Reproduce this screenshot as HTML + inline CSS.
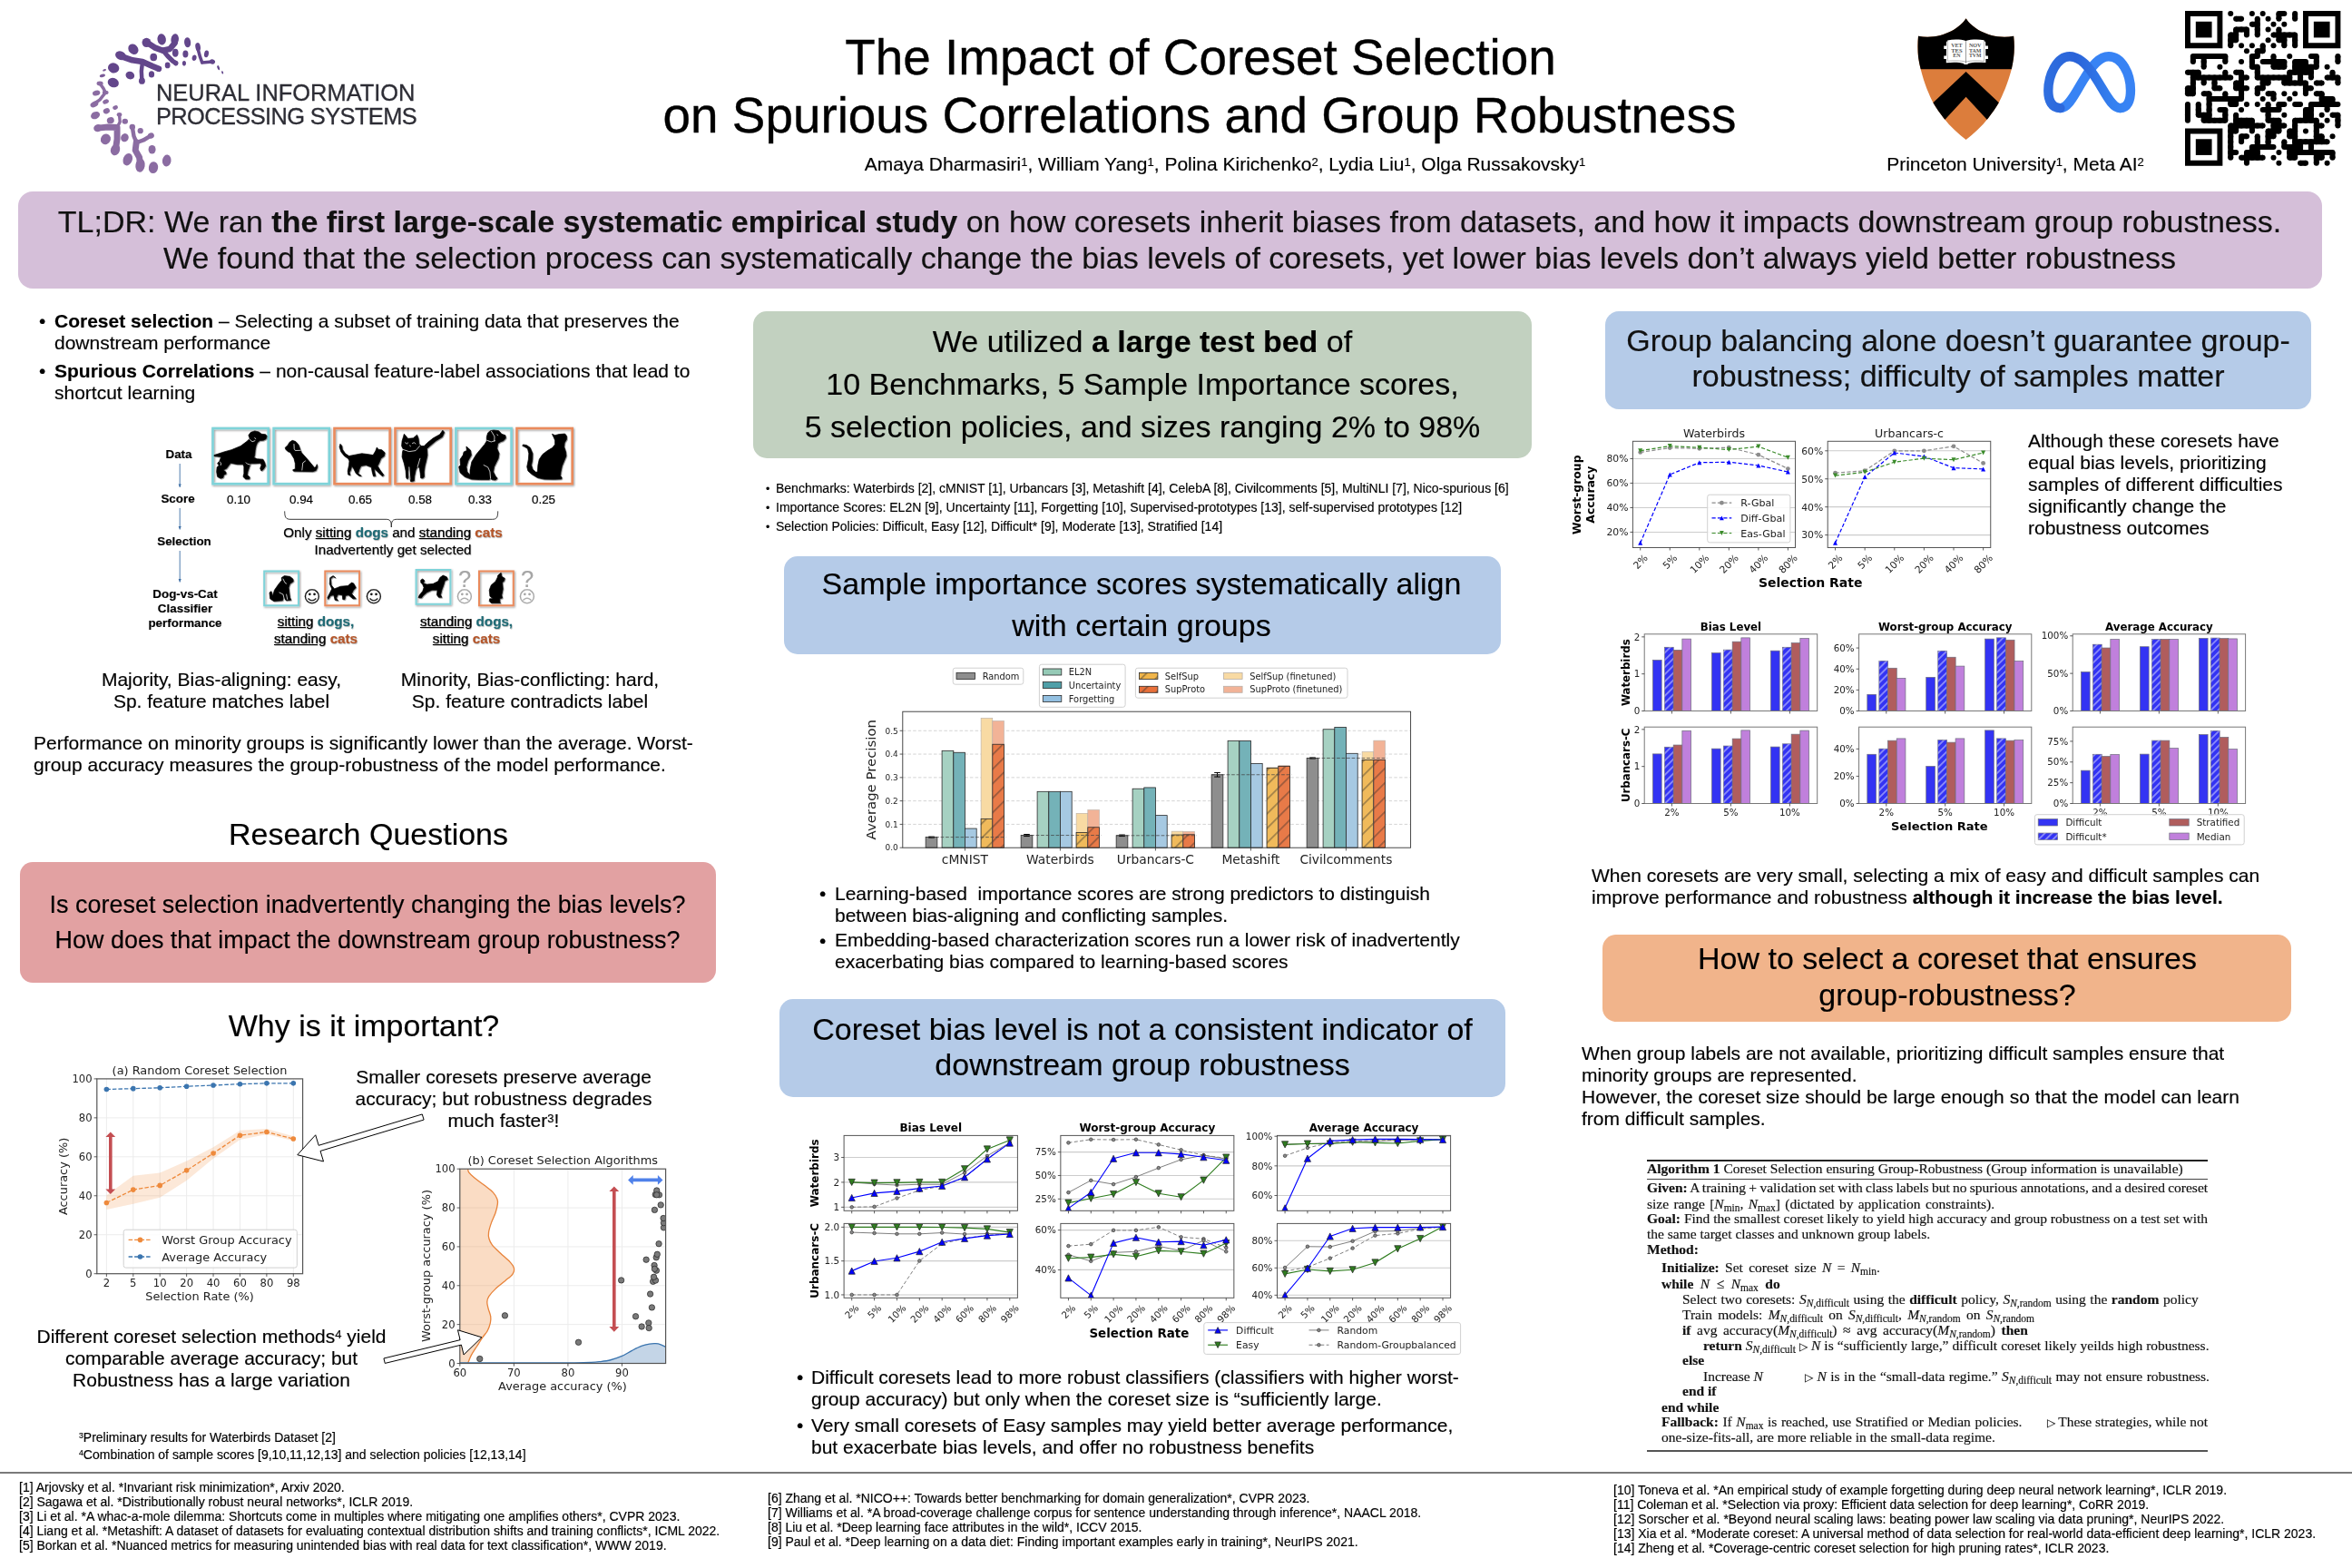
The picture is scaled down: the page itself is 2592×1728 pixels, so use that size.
<!DOCTYPE html>
<html lang="en"><head><meta charset="utf-8"><title>The Impact of Coreset Selection on Spurious Correlations and Group Robustness</title>
<style>
html,body{margin:0;padding:0;background:#fff;}
body{width:2592px;height:1728px;position:relative;overflow:hidden;font-family:"Liberation Sans",sans-serif;color:#000;}
.t{position:absolute;white-space:pre;margin:0;will-change:transform;-webkit-text-stroke:0.17px;}
.bx{position:absolute;}
.sv{position:absolute;overflow:visible;}
sup{font-size:62%;line-height:0;vertical-align:baseline;position:relative;top:-0.42em;}
sub{font-size:74%;line-height:0;vertical-align:baseline;position:relative;top:0.24em;}
b{font-weight:bold;}
</style></head>
<body>
<!-- sec_header -->
<svg class="sv" style="left:90.00px;top:25.00px" width="180.00" height="175.00" viewBox="0 0 180.00 175.00" >
<g transform="scale(0.11161)">
<path d="M920 200 L870 260 L800 275 L720 245 L650 200" fill="none" stroke="#63468b" stroke-width="58" stroke-linecap="round" stroke-linejoin="round"/>
<path d="M800 270 L850 330 L900 380 L930 400" fill="none" stroke="#63468b" stroke-width="46" stroke-linecap="round" stroke-linejoin="round"/>
<path d="M1148 260 L1170 340 L1190 395 L1290 385" fill="none" stroke="#63468b" stroke-width="32" stroke-linecap="round" stroke-linejoin="round"/>
<path d="M385 330 L500 370 L600 385 L700 430 L760 455" fill="none" stroke="#63468b" stroke-width="60" stroke-linecap="round" stroke-linejoin="round"/>
<path d="M600 390 L590 480 L595 570" fill="none" stroke="#63468b" stroke-width="40" stroke-linecap="round" stroke-linejoin="round"/>
<path d="M180 600 L215 650 L235 690 L180 760 L125 800" fill="none" stroke="#8b6ca2" stroke-width="32" stroke-linecap="round" stroke-linejoin="round"/>
<path d="M372 910 L378 980 L350 1035" fill="none" stroke="#8b6ca2" stroke-width="30" stroke-linecap="round" stroke-linejoin="round"/>
<path d="M160 1040 L260 1030 L350 1035 L350 1150 L335 1250" fill="none" stroke="#8b6ca2" stroke-width="62" stroke-linecap="round" stroke-linejoin="round"/>
<path d="M500 1030 L515 1120 L540 1180" fill="none" stroke="#8b6ca2" stroke-width="40" stroke-linecap="round" stroke-linejoin="round"/>
<path d="M685 1115 L610 1160 L540 1185" fill="none" stroke="#8b6ca2" stroke-width="40" stroke-linecap="round" stroke-linejoin="round"/>
<path d="M540 1180 L530 1260 L570 1330 L578 1410" fill="none" stroke="#8b6ca2" stroke-width="62" stroke-linecap="round" stroke-linejoin="round"/>
<ellipse cx="790" cy="165" rx="42" ry="55" fill="#63468b" transform="rotate(-10 790 165)"/>
<ellipse cx="920" cy="165" rx="38" ry="55" fill="#63468b" transform="rotate(10 920 165)"/>
<ellipse cx="1045" cy="195" rx="32" ry="50" fill="#63468b" transform="rotate(-5 1045 195)"/>
<ellipse cx="1148" cy="240" rx="25" ry="42" fill="#63468b" transform="rotate(-10 1148 240)"/>
<ellipse cx="1232" cy="308" rx="22" ry="35" fill="#63468b" transform="rotate(10 1232 308)"/>
<ellipse cx="1290" cy="385" rx="28" ry="24" fill="#63468b" transform="rotate(20 1290 385)"/>
<ellipse cx="1350" cy="445" rx="11" ry="24" fill="#63468b" transform="rotate(-20 1350 445)"/>
<ellipse cx="1390" cy="492" rx="8" ry="15" fill="#63468b" transform="rotate(-20 1390 492)"/>
<ellipse cx="640" cy="195" rx="44" ry="46" fill="#63468b" transform="rotate(0 640 195)"/>
<ellipse cx="510" cy="262" rx="46" ry="56" fill="#63468b" transform="rotate(-40 510 262)"/>
<ellipse cx="385" cy="325" rx="55" ry="42" fill="#63468b" transform="rotate(25 385 325)"/>
<ellipse cx="315" cy="447" rx="56" ry="50" fill="#63468b" transform="rotate(20 315 447)"/>
<ellipse cx="710" cy="340" rx="35" ry="38" fill="#63468b" transform="rotate(0 710 340)"/>
<ellipse cx="925" cy="298" rx="30" ry="40" fill="#63468b" transform="rotate(0 925 298)"/>
<ellipse cx="1025" cy="310" rx="27" ry="36" fill="#63468b" transform="rotate(0 1025 310)"/>
<ellipse cx="1112" cy="347" rx="22" ry="30" fill="#63468b" transform="rotate(10 1112 347)"/>
<ellipse cx="848" cy="420" rx="26" ry="31" fill="#63468b" transform="rotate(0 848 420)"/>
<ellipse cx="1012" cy="402" rx="18" ry="25" fill="#63468b" transform="rotate(0 1012 402)"/>
<ellipse cx="930" cy="400" rx="22" ry="25" fill="#63468b" transform="rotate(0 930 400)"/>
<ellipse cx="478" cy="520" rx="44" ry="38" fill="#63468b" transform="rotate(20 478 520)"/>
<ellipse cx="690" cy="510" rx="28" ry="32" fill="#63468b" transform="rotate(0 690 510)"/>
<ellipse cx="595" cy="575" rx="31" ry="33" fill="#63468b" transform="rotate(0 595 575)"/>
<ellipse cx="312" cy="592" rx="56" ry="46" fill="#63468b" transform="rotate(20 312 592)"/>
<ellipse cx="760" cy="455" rx="30" ry="28" fill="#63468b" transform="rotate(0 760 455)"/>
<ellipse cx="225" cy="468" rx="18" ry="10" fill="#7a5a98" transform="rotate(-20 225 468)"/>
<ellipse cx="205" cy="523" rx="28" ry="15" fill="#7a5a98" transform="rotate(-15 205 523)"/>
<ellipse cx="180" cy="600" rx="32" ry="22" fill="#8b6ca2" transform="rotate(0 180 600)"/>
<ellipse cx="145" cy="695" rx="38" ry="25" fill="#8b6ca2" transform="rotate(-15 145 695)"/>
<ellipse cx="125" cy="805" rx="42" ry="27" fill="#8b6ca2" transform="rotate(-28 125 805)"/>
<ellipse cx="238" cy="780" rx="31" ry="22" fill="#8b6ca2" transform="rotate(-20 238 780)"/>
<ellipse cx="332" cy="838" rx="26" ry="20" fill="#8b6ca2" transform="rotate(-20 332 838)"/>
<ellipse cx="245" cy="872" rx="33" ry="27" fill="#8b6ca2" transform="rotate(-20 245 872)"/>
<ellipse cx="135" cy="915" rx="47" ry="35" fill="#8b6ca2" transform="rotate(-25 135 915)"/>
<ellipse cx="372" cy="908" rx="25" ry="22" fill="#8b6ca2" transform="rotate(0 372 908)"/>
<ellipse cx="285" cy="965" rx="36" ry="32" fill="#8b6ca2" transform="rotate(-10 285 965)"/>
<ellipse cx="428" cy="975" rx="29" ry="27" fill="#8b6ca2" transform="rotate(0 428 975)"/>
<ellipse cx="160" cy="1040" rx="42" ry="36" fill="#8b6ca2" transform="rotate(-15 160 1040)"/>
<ellipse cx="237" cy="1150" rx="48" ry="54" fill="#8b6ca2" transform="rotate(30 237 1150)"/>
<ellipse cx="425" cy="1135" rx="38" ry="42" fill="#8b6ca2" transform="rotate(25 425 1135)"/>
<ellipse cx="500" cy="1030" rx="29" ry="28" fill="#8b6ca2" transform="rotate(0 500 1030)"/>
<ellipse cx="580" cy="1068" rx="28" ry="28" fill="#8b6ca2" transform="rotate(0 580 1068)"/>
<ellipse cx="685" cy="1115" rx="31" ry="28" fill="#8b6ca2" transform="rotate(-20 685 1115)"/>
<ellipse cx="332" cy="1255" rx="45" ry="57" fill="#8b6ca2" transform="rotate(20 332 1255)"/>
<ellipse cx="695" cy="1252" rx="36" ry="43" fill="#8b6ca2" transform="rotate(0 695 1252)"/>
<ellipse cx="455" cy="1350" rx="45" ry="62" fill="#8b6ca2" transform="rotate(22 455 1350)"/>
<ellipse cx="578" cy="1410" rx="46" ry="66" fill="#8b6ca2" transform="rotate(10 578 1410)"/>
<ellipse cx="708" cy="1430" rx="46" ry="58" fill="#8b6ca2" transform="rotate(8 708 1430)"/>
<ellipse cx="840" cy="1362" rx="43" ry="58" fill="#8b6ca2" transform="rotate(8 840 1362)"/>
<ellipse cx="235" cy="690" rx="30" ry="20" fill="#8b6ca2" transform="rotate(0 235 690)"/>
</g></svg>
<div class="t" style='left:172.00px;top:89.00px;font-size:25.45px;line-height:26px;color:#2d2d35;-webkit-text-stroke:0.3px #2d2d35;'>NEURAL INFORMATION</div>
<div class="t" style='left:172.00px;top:115.00px;font-size:25.45px;line-height:26px;color:#2d2d35;letter-spacing:-0.62px;-webkit-text-stroke:0.3px #2d2d35;'>PROCESSING SYSTEMS</div>
<div class="t" style='left:1322.60px;top:32.00px;font-size:54.85px;line-height:63.5px;transform:translateX(-50%);text-align:center;-webkit-text-stroke:0.35px #000;'>The Impact of Coreset Selection</div>
<div class="t" style='left:1322.00px;top:96.00px;font-size:54.85px;line-height:63.5px;transform:translateX(-50%);text-align:center;-webkit-text-stroke:0.35px #000;'>on Spurious Correlations and Group Robustness</div>
<div class="t" style='left:1350.00px;top:169.00px;font-size:20.97px;line-height:24px;transform:translateX(-50%);text-align:center;'>Amaya Dharmasiri<sup>1</sup>, William Yang<sup>1</sup>, Polina Kirichenko<sup>2</sup>, Lydia Liu<sup>1</sup>, Olga Russakovsky<sup>1</sup></div>
<svg class="sv" style="left:2100.00px;top:10.00px" width="130.00" height="150.00" viewBox="0 0 130.00 150.00" >
<g transform="scale(0.11480)">
<clipPath id="shc"><path d="M580 90 C520 190 330 300 122 260 C108 380 120 480 145 575 C180 720 230 830 265 900 C300 960 330 1000 365 1045 C430 1130 510 1200 580 1255 C650 1200 730 1130 795 1045 C830 1000 860 960 895 900 C930 830 980 720 1018 575 C1040 480 1052 380 1038 260 C830 300 640 190 580 90 Z"/></clipPath>
<path d="M580 90 C520 190 330 300 122 260 C108 380 120 480 145 575 C180 720 230 830 265 900 C300 960 330 1000 365 1045 C430 1130 510 1200 580 1255 C650 1200 730 1130 795 1045 C830 1000 860 960 895 900 C930 830 980 720 1018 575 C1040 480 1052 380 1038 260 C830 300 640 190 580 90 Z" fill="#dc7d3c"/>
<g clip-path="url(#shc)">
<rect x="100" y="80" width="960" height="497" fill="#000"/>
<path d="M580 600 L120 1035 L260 1190 L580 842 L900 1190 L1040 1035 Z" fill="#000"/>
</g>
<path d="M368 352 h30 v32 h-30z M368 448 h30 v32 h-30z M762 352 h30 v32 h-30z M762 448 h30 v32 h-30z" fill="#fff"/>
<path d="M392 318 L404 300 C460 288 530 290 578 304 C630 290 700 288 752 298 L768 318 L770 515 C700 508 640 510 600 522 L596 532 L562 532 L558 522 C520 510 450 508 390 516 Z" fill="#fff"/>
<path d="M579 306 L579 520" stroke="#222" stroke-width="4"/>
<path d="M404 304 L404 500 C460 492 530 494 578 506 C630 494 700 492 754 500 L754 302" fill="none" stroke="#333" stroke-width="3"/>
<text x="491" y="366" text-anchor="middle" style="font-family:&quot;Liberation Serif&quot;,serif;font-size:44px;font-weight:bold;fill:#555" textLength="108" lengthAdjust="spacingAndGlyphs">VET</text><text x="668" y="366" text-anchor="middle" style="font-family:&quot;Liberation Serif&quot;,serif;font-size:44px;font-weight:bold;fill:#555" textLength="118" lengthAdjust="spacingAndGlyphs">NOV</text>
<text x="491" y="414" text-anchor="middle" style="font-family:&quot;Liberation Serif&quot;,serif;font-size:44px;font-weight:bold;fill:#555" textLength="108" lengthAdjust="spacingAndGlyphs">TES</text><text x="668" y="414" text-anchor="middle" style="font-family:&quot;Liberation Serif&quot;,serif;font-size:44px;font-weight:bold;fill:#555" textLength="118" lengthAdjust="spacingAndGlyphs">TAM</text>
<text x="491" y="462" text-anchor="middle" style="font-family:&quot;Liberation Serif&quot;,serif;font-size:44px;font-weight:bold;fill:#555" textLength="72" lengthAdjust="spacingAndGlyphs">EN</text><text x="668" y="462" text-anchor="middle" style="font-family:&quot;Liberation Serif&quot;,serif;font-size:44px;font-weight:bold;fill:#555" textLength="118" lengthAdjust="spacingAndGlyphs">TVM</text>
</g></svg>
<svg class="sv" style="left:2100.00px;top:10.00px" width="270.00" height="150.00" viewBox="0 0 270.00 150.00" >
<g transform="scale(0.11480)">
<defs><linearGradient id="mg" x1="1325" y1="700" x2="2205" y2="700" gradientUnits="userSpaceOnUse"><stop offset="0" stop-color="#2f6fe0"/><stop offset="0.35" stop-color="#2a63d8"/><stop offset="0.75" stop-color="#3480f0"/><stop offset="1" stop-color="#3a86f5"/></linearGradient><linearGradient id="mg2" x1="1400" y1="950" x2="1800" y2="600" gradientUnits="userSpaceOnUse"><stop offset="0" stop-color="#3b84f3"/><stop offset="1" stop-color="#3b84f3"/></linearGradient></defs>
<path d="M1485 950 C1570 950 1630 800 1720 660 C1790 545 1860 455 1950 455 C2075 455 2160 620 2160 780 C2160 880 2130 950 2060 950" fill="none" stroke="#3883f4" stroke-width="90" stroke-linecap="round"/>
<path d="M2060 950 C1985 950 1930 830 1850 700 C1760 555 1680 455 1575 455 C1455 455 1370 630 1370 785 C1370 880 1405 950 1485 950" fill="none" stroke="url(#mg)" stroke-width="90" stroke-linecap="round"/>
</g></svg>
<svg class="sv" style="left:2408.00px;top:11.80px" width="171.40" height="171.40" viewBox="0 0 171.40 171.40" shape-rendering="geometricPrecision">
<g transform="scale(5.9103 5.8862)" fill="#000">
<path d="M0 0h7v7h-7z M1 1v5h5v-5z" fill-rule="evenodd"/><rect x="2" y="2" width="3" height="3"/>
<path d="M22 0h7v7h-7z M23 1v5h5v-5z" fill-rule="evenodd"/><rect x="24" y="2" width="3" height="3"/>
<path d="M0 22h7v7h-7z M1 23v5h5v-5z" fill-rule="evenodd"/><rect x="2" y="24" width="3" height="3"/>
<circle cx="8.5" cy="0.5" r="0.51"/><circle cx="12.5" cy="0.5" r="0.51"/><circle cx="14.5" cy="0.5" r="0.51"/><circle cx="17.5" cy="0.5" r="0.51"/><circle cx="18.5" cy="0.5" r="0.51"/><circle cx="20.5" cy="0.5" r="0.51"/>
<circle cx="9.5" cy="1.5" r="0.51"/><circle cx="10.5" cy="1.5" r="0.51"/><circle cx="13.5" cy="1.5" r="0.51"/><circle cx="15.5" cy="1.5" r="0.51"/><circle cx="17.5" cy="1.5" r="0.51"/><circle cx="20.5" cy="1.5" r="0.51"/>
<circle cx="12.5" cy="2.5" r="0.51"/><circle cx="13.5" cy="2.5" r="0.51"/><circle cx="16.5" cy="2.5" r="0.51"/><circle cx="18.5" cy="2.5" r="0.51"/>
<circle cx="9.5" cy="3.5" r="0.51"/><circle cx="10.5" cy="3.5" r="0.51"/><circle cx="11.5" cy="3.5" r="0.51"/><circle cx="13.5" cy="3.5" r="0.51"/><circle cx="15.5" cy="3.5" r="0.51"/><circle cx="17.5" cy="3.5" r="0.51"/>
<circle cx="8.5" cy="4.5" r="0.51"/><circle cx="9.5" cy="4.5" r="0.51"/><circle cx="11.5" cy="4.5" r="0.51"/><circle cx="13.5" cy="4.5" r="0.51"/><circle cx="16.5" cy="4.5" r="0.51"/><circle cx="17.5" cy="4.5" r="0.51"/><circle cx="18.5" cy="4.5" r="0.51"/><circle cx="19.5" cy="4.5" r="0.51"/><circle cx="20.5" cy="4.5" r="0.51"/>
<circle cx="8.5" cy="5.5" r="0.51"/><circle cx="9.5" cy="5.5" r="0.51"/><circle cx="15.5" cy="5.5" r="0.51"/><circle cx="17.5" cy="5.5" r="0.51"/><circle cx="18.5" cy="5.5" r="0.51"/><circle cx="20.5" cy="5.5" r="0.51"/>
<circle cx="8.5" cy="6.5" r="0.51"/><circle cx="10.5" cy="6.5" r="0.51"/><circle cx="12.5" cy="6.5" r="0.51"/><circle cx="14.5" cy="6.5" r="0.51"/><circle cx="16.5" cy="6.5" r="0.51"/><circle cx="18.5" cy="6.5" r="0.51"/><circle cx="20.5" cy="6.5" r="0.51"/>
<circle cx="11.5" cy="7.5" r="0.51"/><circle cx="13.5" cy="7.5" r="0.51"/><circle cx="14.5" cy="7.5" r="0.51"/>
<circle cx="1.5" cy="8.5" r="0.51"/><circle cx="2.5" cy="8.5" r="0.51"/><circle cx="3.5" cy="8.5" r="0.51"/><circle cx="4.5" cy="8.5" r="0.51"/><circle cx="5.5" cy="8.5" r="0.51"/><circle cx="6.5" cy="8.5" r="0.51"/><circle cx="7.5" cy="8.5" r="0.51"/><circle cx="12.5" cy="8.5" r="0.51"/><circle cx="13.5" cy="8.5" r="0.51"/><circle cx="16.5" cy="8.5" r="0.51"/><circle cx="19.5" cy="8.5" r="0.51"/><circle cx="23.5" cy="8.5" r="0.51"/><circle cx="24.5" cy="8.5" r="0.51"/><circle cx="28.5" cy="8.5" r="0.51"/>
<circle cx="1.5" cy="9.5" r="0.51"/><circle cx="3.5" cy="9.5" r="0.51"/><circle cx="7.5" cy="9.5" r="0.51"/><circle cx="10.5" cy="9.5" r="0.51"/><circle cx="12.5" cy="9.5" r="0.51"/><circle cx="14.5" cy="9.5" r="0.51"/><circle cx="15.5" cy="9.5" r="0.51"/><circle cx="16.5" cy="9.5" r="0.51"/><circle cx="17.5" cy="9.5" r="0.51"/><circle cx="18.5" cy="9.5" r="0.51"/><circle cx="20.5" cy="9.5" r="0.51"/><circle cx="21.5" cy="9.5" r="0.51"/><circle cx="22.5" cy="9.5" r="0.51"/><circle cx="24.5" cy="9.5" r="0.51"/><circle cx="28.5" cy="9.5" r="0.51"/>
<circle cx="3.5" cy="10.5" r="0.51"/><circle cx="6.5" cy="10.5" r="0.51"/><circle cx="12.5" cy="10.5" r="0.51"/><circle cx="13.5" cy="10.5" r="0.51"/><circle cx="16.5" cy="10.5" r="0.51"/><circle cx="17.5" cy="10.5" r="0.51"/><circle cx="18.5" cy="10.5" r="0.51"/><circle cx="20.5" cy="10.5" r="0.51"/><circle cx="21.5" cy="10.5" r="0.51"/><circle cx="22.5" cy="10.5" r="0.51"/><circle cx="23.5" cy="10.5" r="0.51"/><circle cx="24.5" cy="10.5" r="0.51"/><circle cx="26.5" cy="10.5" r="0.51"/>
<circle cx="0.5" cy="11.5" r="0.51"/><circle cx="1.5" cy="11.5" r="0.51"/><circle cx="2.5" cy="11.5" r="0.51"/><circle cx="7.5" cy="11.5" r="0.51"/><circle cx="9.5" cy="11.5" r="0.51"/><circle cx="10.5" cy="11.5" r="0.51"/><circle cx="13.5" cy="11.5" r="0.51"/><circle cx="19.5" cy="11.5" r="0.51"/><circle cx="20.5" cy="11.5" r="0.51"/><circle cx="21.5" cy="11.5" r="0.51"/><circle cx="22.5" cy="11.5" r="0.51"/><circle cx="23.5" cy="11.5" r="0.51"/><circle cx="27.5" cy="11.5" r="0.51"/>
<circle cx="1.5" cy="12.5" r="0.51"/><circle cx="2.5" cy="12.5" r="0.51"/><circle cx="3.5" cy="12.5" r="0.51"/><circle cx="4.5" cy="12.5" r="0.51"/><circle cx="5.5" cy="12.5" r="0.51"/><circle cx="6.5" cy="12.5" r="0.51"/><circle cx="7.5" cy="12.5" r="0.51"/><circle cx="8.5" cy="12.5" r="0.51"/><circle cx="10.5" cy="12.5" r="0.51"/><circle cx="11.5" cy="12.5" r="0.51"/><circle cx="13.5" cy="12.5" r="0.51"/><circle cx="14.5" cy="12.5" r="0.51"/><circle cx="15.5" cy="12.5" r="0.51"/><circle cx="16.5" cy="12.5" r="0.51"/><circle cx="17.5" cy="12.5" r="0.51"/><circle cx="18.5" cy="12.5" r="0.51"/><circle cx="19.5" cy="12.5" r="0.51"/><circle cx="21.5" cy="12.5" r="0.51"/><circle cx="23.5" cy="12.5" r="0.51"/><circle cx="26.5" cy="12.5" r="0.51"/><circle cx="27.5" cy="12.5" r="0.51"/><circle cx="28.5" cy="12.5" r="0.51"/>
<circle cx="1.5" cy="13.5" r="0.51"/><circle cx="3.5" cy="13.5" r="0.51"/><circle cx="5.5" cy="13.5" r="0.51"/><circle cx="9.5" cy="13.5" r="0.51"/><circle cx="10.5" cy="13.5" r="0.51"/><circle cx="14.5" cy="13.5" r="0.51"/><circle cx="15.5" cy="13.5" r="0.51"/><circle cx="18.5" cy="13.5" r="0.51"/><circle cx="19.5" cy="13.5" r="0.51"/><circle cx="20.5" cy="13.5" r="0.51"/><circle cx="21.5" cy="13.5" r="0.51"/><circle cx="22.5" cy="13.5" r="0.51"/><circle cx="24.5" cy="13.5" r="0.51"/><circle cx="25.5" cy="13.5" r="0.51"/><circle cx="28.5" cy="13.5" r="0.51"/>
<circle cx="0.5" cy="14.5" r="0.51"/><circle cx="1.5" cy="14.5" r="0.51"/><circle cx="5.5" cy="14.5" r="0.51"/><circle cx="6.5" cy="14.5" r="0.51"/><circle cx="9.5" cy="14.5" r="0.51"/><circle cx="10.5" cy="14.5" r="0.51"/><circle cx="11.5" cy="14.5" r="0.51"/><circle cx="13.5" cy="14.5" r="0.51"/><circle cx="14.5" cy="14.5" r="0.51"/><circle cx="22.5" cy="14.5" r="0.51"/><circle cx="23.5" cy="14.5" r="0.51"/>
<circle cx="0.5" cy="15.5" r="0.51"/><circle cx="1.5" cy="15.5" r="0.51"/><circle cx="3.5" cy="15.5" r="0.51"/><circle cx="4.5" cy="15.5" r="0.51"/><circle cx="7.5" cy="15.5" r="0.51"/><circle cx="10.5" cy="15.5" r="0.51"/><circle cx="13.5" cy="15.5" r="0.51"/><circle cx="15.5" cy="15.5" r="0.51"/><circle cx="16.5" cy="15.5" r="0.51"/><circle cx="18.5" cy="15.5" r="0.51"/><circle cx="20.5" cy="15.5" r="0.51"/><circle cx="22.5" cy="15.5" r="0.51"/><circle cx="24.5" cy="15.5" r="0.51"/><circle cx="25.5" cy="15.5" r="0.51"/>
<circle cx="4.5" cy="16.5" r="0.51"/><circle cx="5.5" cy="16.5" r="0.51"/><circle cx="6.5" cy="16.5" r="0.51"/><circle cx="7.5" cy="16.5" r="0.51"/><circle cx="8.5" cy="16.5" r="0.51"/><circle cx="9.5" cy="16.5" r="0.51"/><circle cx="10.5" cy="16.5" r="0.51"/><circle cx="14.5" cy="16.5" r="0.51"/><circle cx="16.5" cy="16.5" r="0.51"/><circle cx="19.5" cy="16.5" r="0.51"/><circle cx="25.5" cy="16.5" r="0.51"/><circle cx="26.5" cy="16.5" r="0.51"/><circle cx="27.5" cy="16.5" r="0.51"/>
<circle cx="0.5" cy="17.5" r="0.51"/><circle cx="2.5" cy="17.5" r="0.51"/><circle cx="4.5" cy="17.5" r="0.51"/><circle cx="8.5" cy="17.5" r="0.51"/><circle cx="9.5" cy="17.5" r="0.51"/><circle cx="11.5" cy="17.5" r="0.51"/><circle cx="13.5" cy="17.5" r="0.51"/><circle cx="15.5" cy="17.5" r="0.51"/><circle cx="17.5" cy="17.5" r="0.51"/><circle cx="18.5" cy="17.5" r="0.51"/><circle cx="20.5" cy="17.5" r="0.51"/><circle cx="21.5" cy="17.5" r="0.51"/><circle cx="23.5" cy="17.5" r="0.51"/><circle cx="24.5" cy="17.5" r="0.51"/><circle cx="25.5" cy="17.5" r="0.51"/><circle cx="26.5" cy="17.5" r="0.51"/><circle cx="27.5" cy="17.5" r="0.51"/><circle cx="28.5" cy="17.5" r="0.51"/>
<circle cx="0.5" cy="18.5" r="0.51"/><circle cx="2.5" cy="18.5" r="0.51"/><circle cx="4.5" cy="18.5" r="0.51"/><circle cx="6.5" cy="18.5" r="0.51"/><circle cx="7.5" cy="18.5" r="0.51"/><circle cx="10.5" cy="18.5" r="0.51"/><circle cx="14.5" cy="18.5" r="0.51"/><circle cx="15.5" cy="18.5" r="0.51"/><circle cx="16.5" cy="18.5" r="0.51"/><circle cx="17.5" cy="18.5" r="0.51"/><circle cx="22.5" cy="18.5" r="0.51"/><circle cx="23.5" cy="18.5" r="0.51"/><circle cx="26.5" cy="18.5" r="0.51"/>
<circle cx="0.5" cy="19.5" r="0.51"/><circle cx="2.5" cy="19.5" r="0.51"/><circle cx="3.5" cy="19.5" r="0.51"/><circle cx="4.5" cy="19.5" r="0.51"/><circle cx="7.5" cy="19.5" r="0.51"/><circle cx="9.5" cy="19.5" r="0.51"/><circle cx="15.5" cy="19.5" r="0.51"/><circle cx="18.5" cy="19.5" r="0.51"/><circle cx="22.5" cy="19.5" r="0.51"/><circle cx="23.5" cy="19.5" r="0.51"/><circle cx="25.5" cy="19.5" r="0.51"/><circle cx="27.5" cy="19.5" r="0.51"/><circle cx="28.5" cy="19.5" r="0.51"/>
<circle cx="0.5" cy="20.5" r="0.51"/><circle cx="3.5" cy="20.5" r="0.51"/><circle cx="4.5" cy="20.5" r="0.51"/><circle cx="5.5" cy="20.5" r="0.51"/><circle cx="6.5" cy="20.5" r="0.51"/><circle cx="7.5" cy="20.5" r="0.51"/><circle cx="9.5" cy="20.5" r="0.51"/><circle cx="10.5" cy="20.5" r="0.51"/><circle cx="11.5" cy="20.5" r="0.51"/><circle cx="12.5" cy="20.5" r="0.51"/><circle cx="15.5" cy="20.5" r="0.51"/><circle cx="16.5" cy="20.5" r="0.51"/><circle cx="17.5" cy="20.5" r="0.51"/><circle cx="20.5" cy="20.5" r="0.51"/><circle cx="21.5" cy="20.5" r="0.51"/><circle cx="22.5" cy="20.5" r="0.51"/><circle cx="23.5" cy="20.5" r="0.51"/><circle cx="24.5" cy="20.5" r="0.51"/><circle cx="26.5" cy="20.5" r="0.51"/><circle cx="28.5" cy="20.5" r="0.51"/>
<circle cx="8.5" cy="21.5" r="0.51"/><circle cx="9.5" cy="21.5" r="0.51"/><circle cx="10.5" cy="21.5" r="0.51"/><circle cx="11.5" cy="21.5" r="0.51"/><circle cx="12.5" cy="21.5" r="0.51"/><circle cx="13.5" cy="21.5" r="0.51"/><circle cx="14.5" cy="21.5" r="0.51"/><circle cx="16.5" cy="21.5" r="0.51"/><circle cx="17.5" cy="21.5" r="0.51"/><circle cx="18.5" cy="21.5" r="0.51"/><circle cx="20.5" cy="21.5" r="0.51"/><circle cx="24.5" cy="21.5" r="0.51"/><circle cx="25.5" cy="21.5" r="0.51"/><circle cx="28.5" cy="21.5" r="0.51"/>
<circle cx="8.5" cy="22.5" r="0.51"/><circle cx="9.5" cy="22.5" r="0.51"/><circle cx="12.5" cy="22.5" r="0.51"/><circle cx="15.5" cy="22.5" r="0.51"/><circle cx="16.5" cy="22.5" r="0.51"/><circle cx="17.5" cy="22.5" r="0.51"/><circle cx="19.5" cy="22.5" r="0.51"/><circle cx="20.5" cy="22.5" r="0.51"/><circle cx="22.5" cy="22.5" r="0.51"/><circle cx="24.5" cy="22.5" r="0.51"/>
<circle cx="8.5" cy="23.5" r="0.51"/><circle cx="10.5" cy="23.5" r="0.51"/><circle cx="11.5" cy="23.5" r="0.51"/><circle cx="13.5" cy="23.5" r="0.51"/><circle cx="15.5" cy="23.5" r="0.51"/><circle cx="16.5" cy="23.5" r="0.51"/><circle cx="19.5" cy="23.5" r="0.51"/><circle cx="20.5" cy="23.5" r="0.51"/><circle cx="24.5" cy="23.5" r="0.51"/><circle cx="25.5" cy="23.5" r="0.51"/><circle cx="27.5" cy="23.5" r="0.51"/>
<circle cx="8.5" cy="24.5" r="0.51"/><circle cx="10.5" cy="24.5" r="0.51"/><circle cx="13.5" cy="24.5" r="0.51"/><circle cx="15.5" cy="24.5" r="0.51"/><circle cx="18.5" cy="24.5" r="0.51"/><circle cx="20.5" cy="24.5" r="0.51"/><circle cx="21.5" cy="24.5" r="0.51"/><circle cx="22.5" cy="24.5" r="0.51"/><circle cx="23.5" cy="24.5" r="0.51"/><circle cx="24.5" cy="24.5" r="0.51"/><circle cx="25.5" cy="24.5" r="0.51"/><circle cx="26.5" cy="24.5" r="0.51"/>
<circle cx="8.5" cy="25.5" r="0.51"/><circle cx="12.5" cy="25.5" r="0.51"/><circle cx="13.5" cy="25.5" r="0.51"/><circle cx="14.5" cy="25.5" r="0.51"/><circle cx="15.5" cy="25.5" r="0.51"/><circle cx="16.5" cy="25.5" r="0.51"/><circle cx="18.5" cy="25.5" r="0.51"/><circle cx="19.5" cy="25.5" r="0.51"/><circle cx="20.5" cy="25.5" r="0.51"/><circle cx="21.5" cy="25.5" r="0.51"/><circle cx="23.5" cy="25.5" r="0.51"/>
<circle cx="8.5" cy="26.5" r="0.51"/><circle cx="9.5" cy="26.5" r="0.51"/><circle cx="11.5" cy="26.5" r="0.51"/><circle cx="12.5" cy="26.5" r="0.51"/><circle cx="13.5" cy="26.5" r="0.51"/><circle cx="17.5" cy="26.5" r="0.51"/><circle cx="19.5" cy="26.5" r="0.51"/><circle cx="20.5" cy="26.5" r="0.51"/><circle cx="21.5" cy="26.5" r="0.51"/><circle cx="22.5" cy="26.5" r="0.51"/><circle cx="23.5" cy="26.5" r="0.51"/><circle cx="24.5" cy="26.5" r="0.51"/><circle cx="25.5" cy="26.5" r="0.51"/><circle cx="26.5" cy="26.5" r="0.51"/><circle cx="27.5" cy="26.5" r="0.51"/>
<circle cx="8.5" cy="27.5" r="0.51"/><circle cx="10.5" cy="27.5" r="0.51"/><circle cx="11.5" cy="27.5" r="0.51"/><circle cx="12.5" cy="27.5" r="0.51"/><circle cx="13.5" cy="27.5" r="0.51"/><circle cx="14.5" cy="27.5" r="0.51"/><circle cx="16.5" cy="27.5" r="0.51"/><circle cx="19.5" cy="27.5" r="0.51"/><circle cx="20.5" cy="27.5" r="0.51"/><circle cx="24.5" cy="27.5" r="0.51"/><circle cx="25.5" cy="27.5" r="0.51"/><circle cx="27.5" cy="27.5" r="0.51"/>
<circle cx="11.5" cy="28.5" r="0.51"/><circle cx="17.5" cy="28.5" r="0.51"/><circle cx="21.5" cy="28.5" r="0.51"/><circle cx="22.5" cy="28.5" r="0.51"/><circle cx="24.5" cy="28.5" r="0.51"/><circle cx="26.5" cy="28.5" r="0.51"/>
<path d="M17.45 -0.01h1.1v1.02h-1.1zM16.99 0.45h1.02v1.1h-1.02zM19.99 0.45h1.02v1.1h-1.02zM9.45 0.99h1.1v1.02h-1.1zM12.99 1.45h1.02v1.1h-1.02zM12.45 1.99h1.1v1.02h-1.1zM12.99 2.45h1.02v1.1h-1.02zM9.45 2.99h1.1v1.02h-1.1zM8.99 3.45h1.02v1.1h-1.02zM10.45 2.99h1.1v1.02h-1.1zM10.99 3.45h1.02v1.1h-1.02zM12.99 3.45h1.02v1.1h-1.02zM16.99 3.45h1.02v1.1h-1.02zM8.45 3.99h1.1v1.02h-1.1zM7.99 4.45h1.02v1.1h-1.02zM8.45 4.45h1.1v1.1h-1.1zM8.99 4.45h1.02v1.1h-1.02zM16.45 3.99h1.1v1.02h-1.1zM17.45 3.99h1.1v1.02h-1.1zM16.99 4.45h1.02v1.1h-1.02zM17.45 4.45h1.1v1.1h-1.1zM18.45 3.99h1.1v1.02h-1.1zM17.99 4.45h1.02v1.1h-1.02zM19.45 3.99h1.1v1.02h-1.1zM19.99 4.45h1.02v1.1h-1.02zM8.45 4.99h1.1v1.02h-1.1zM7.99 5.45h1.02v1.1h-1.02zM17.45 4.99h1.1v1.02h-1.1zM17.99 5.45h1.02v1.1h-1.02zM19.99 5.45h1.02v1.1h-1.02zM13.99 6.45h1.02v1.1h-1.02zM13.45 6.99h1.1v1.02h-1.1zM12.99 7.45h1.02v1.1h-1.02zM1.45 7.99h1.1v1.02h-1.1zM0.99 8.45h1.02v1.1h-1.02zM2.45 7.99h1.1v1.02h-1.1zM3.45 7.99h1.1v1.02h-1.1zM2.99 8.45h1.02v1.1h-1.02zM4.45 7.99h1.1v1.02h-1.1zM5.45 7.99h1.1v1.02h-1.1zM6.45 7.99h1.1v1.02h-1.1zM6.99 8.45h1.02v1.1h-1.02zM12.45 7.99h1.1v1.02h-1.1zM11.99 8.45h1.02v1.1h-1.02zM15.99 8.45h1.02v1.1h-1.02zM23.45 7.99h1.1v1.02h-1.1zM23.99 8.45h1.02v1.1h-1.02zM27.99 8.45h1.02v1.1h-1.02zM2.99 9.45h1.02v1.1h-1.02zM11.99 9.45h1.02v1.1h-1.02zM14.45 8.99h1.1v1.02h-1.1zM15.45 8.99h1.1v1.02h-1.1zM16.45 8.99h1.1v1.02h-1.1zM15.99 9.45h1.02v1.1h-1.02zM16.45 9.45h1.1v1.1h-1.1zM17.45 8.99h1.1v1.02h-1.1zM16.99 9.45h1.02v1.1h-1.02zM17.45 9.45h1.1v1.1h-1.1zM17.99 9.45h1.02v1.1h-1.02zM20.45 8.99h1.1v1.02h-1.1zM19.99 9.45h1.02v1.1h-1.02zM20.45 9.45h1.1v1.1h-1.1zM21.45 8.99h1.1v1.02h-1.1zM20.99 9.45h1.02v1.1h-1.02zM21.45 9.45h1.1v1.1h-1.1zM21.99 9.45h1.02v1.1h-1.02zM23.99 9.45h1.02v1.1h-1.02zM12.45 9.99h1.1v1.02h-1.1zM12.99 10.45h1.02v1.1h-1.02zM16.45 9.99h1.1v1.02h-1.1zM17.45 9.99h1.1v1.02h-1.1zM20.45 9.99h1.1v1.02h-1.1zM19.99 10.45h1.02v1.1h-1.02zM20.45 10.45h1.1v1.1h-1.1zM21.45 9.99h1.1v1.02h-1.1zM20.99 10.45h1.02v1.1h-1.02zM21.45 10.45h1.1v1.1h-1.1zM22.45 9.99h1.1v1.02h-1.1zM21.99 10.45h1.02v1.1h-1.02zM22.45 10.45h1.1v1.1h-1.1zM23.45 9.99h1.1v1.02h-1.1zM22.99 10.45h1.02v1.1h-1.02zM0.45 10.99h1.1v1.02h-1.1zM1.45 10.99h1.1v1.02h-1.1zM0.99 11.45h1.02v1.1h-1.02zM1.45 11.45h1.1v1.1h-1.1zM1.99 11.45h1.02v1.1h-1.02zM6.99 11.45h1.02v1.1h-1.02zM9.45 10.99h1.1v1.02h-1.1zM9.99 11.45h1.02v1.1h-1.02zM12.99 11.45h1.02v1.1h-1.02zM19.45 10.99h1.1v1.02h-1.1zM18.99 11.45h1.02v1.1h-1.02zM20.45 10.99h1.1v1.02h-1.1zM21.45 10.99h1.1v1.02h-1.1zM20.99 11.45h1.02v1.1h-1.02zM22.45 10.99h1.1v1.02h-1.1zM22.99 11.45h1.02v1.1h-1.02zM26.99 11.45h1.02v1.1h-1.02zM1.45 11.99h1.1v1.02h-1.1zM0.99 12.45h1.02v1.1h-1.02zM2.45 11.99h1.1v1.02h-1.1zM3.45 11.99h1.1v1.02h-1.1zM2.99 12.45h1.02v1.1h-1.02zM4.45 11.99h1.1v1.02h-1.1zM5.45 11.99h1.1v1.02h-1.1zM4.99 12.45h1.02v1.1h-1.02zM6.45 11.99h1.1v1.02h-1.1zM7.45 11.99h1.1v1.02h-1.1zM10.45 11.99h1.1v1.02h-1.1zM9.99 12.45h1.02v1.1h-1.02zM13.45 11.99h1.1v1.02h-1.1zM14.45 11.99h1.1v1.02h-1.1zM13.99 12.45h1.02v1.1h-1.02zM14.45 12.45h1.1v1.1h-1.1zM15.45 11.99h1.1v1.02h-1.1zM14.99 12.45h1.02v1.1h-1.02zM16.45 11.99h1.1v1.02h-1.1zM17.45 11.99h1.1v1.02h-1.1zM18.45 11.99h1.1v1.02h-1.1zM17.99 12.45h1.02v1.1h-1.02zM18.45 12.45h1.1v1.1h-1.1zM18.99 12.45h1.02v1.1h-1.02zM20.99 12.45h1.02v1.1h-1.02zM26.45 11.99h1.1v1.02h-1.1zM27.45 11.99h1.1v1.02h-1.1zM27.99 12.45h1.02v1.1h-1.02zM0.99 13.45h1.02v1.1h-1.02zM4.99 13.45h1.02v1.1h-1.02zM9.45 12.99h1.1v1.02h-1.1zM8.99 13.45h1.02v1.1h-1.02zM9.45 13.45h1.1v1.1h-1.1zM9.99 13.45h1.02v1.1h-1.02zM14.45 12.99h1.1v1.02h-1.1zM13.99 13.45h1.02v1.1h-1.02zM18.45 12.99h1.1v1.02h-1.1zM19.45 12.99h1.1v1.02h-1.1zM20.45 12.99h1.1v1.02h-1.1zM21.45 12.99h1.1v1.02h-1.1zM21.99 13.45h1.02v1.1h-1.02zM24.45 12.99h1.1v1.02h-1.1zM0.45 13.99h1.1v1.02h-1.1zM-0.01 14.45h1.02v1.1h-1.02zM0.45 14.45h1.1v1.1h-1.1zM0.99 14.45h1.02v1.1h-1.02zM5.45 13.99h1.1v1.02h-1.1zM9.45 13.99h1.1v1.02h-1.1zM10.45 13.99h1.1v1.02h-1.1zM9.99 14.45h1.02v1.1h-1.02zM13.45 13.99h1.1v1.02h-1.1zM12.99 14.45h1.02v1.1h-1.02zM22.45 13.99h1.1v1.02h-1.1zM21.99 14.45h1.02v1.1h-1.02zM0.45 14.99h1.1v1.02h-1.1zM3.45 14.99h1.1v1.02h-1.1zM3.99 15.45h1.02v1.1h-1.02zM6.99 15.45h1.02v1.1h-1.02zM9.99 15.45h1.02v1.1h-1.02zM15.45 14.99h1.1v1.02h-1.1zM15.99 15.45h1.02v1.1h-1.02zM24.45 14.99h1.1v1.02h-1.1zM24.99 15.45h1.02v1.1h-1.02zM4.45 15.99h1.1v1.02h-1.1zM3.99 16.45h1.02v1.1h-1.02zM5.45 15.99h1.1v1.02h-1.1zM6.45 15.99h1.1v1.02h-1.1zM7.45 15.99h1.1v1.02h-1.1zM8.45 15.99h1.1v1.02h-1.1zM7.99 16.45h1.02v1.1h-1.02zM8.45 16.45h1.1v1.1h-1.1zM9.45 15.99h1.1v1.02h-1.1zM8.99 16.45h1.02v1.1h-1.02zM25.45 15.99h1.1v1.02h-1.1zM24.99 16.45h1.02v1.1h-1.02zM25.45 16.45h1.1v1.1h-1.1zM26.45 15.99h1.1v1.02h-1.1zM25.99 16.45h1.02v1.1h-1.02zM26.45 16.45h1.1v1.1h-1.1zM26.99 16.45h1.02v1.1h-1.02zM-0.01 17.45h1.02v1.1h-1.02zM1.99 17.45h1.02v1.1h-1.02zM3.99 17.45h1.02v1.1h-1.02zM8.45 16.99h1.1v1.02h-1.1zM14.99 17.45h1.02v1.1h-1.02zM17.45 16.99h1.1v1.02h-1.1zM16.99 17.45h1.02v1.1h-1.02zM20.45 16.99h1.1v1.02h-1.1zM23.45 16.99h1.1v1.02h-1.1zM22.99 17.45h1.02v1.1h-1.02zM24.45 16.99h1.1v1.02h-1.1zM25.45 16.99h1.1v1.02h-1.1zM26.45 16.99h1.1v1.02h-1.1zM25.99 17.45h1.02v1.1h-1.02zM27.45 16.99h1.1v1.02h-1.1zM-0.01 18.45h1.02v1.1h-1.02zM1.99 18.45h1.02v1.1h-1.02zM3.99 18.45h1.02v1.1h-1.02zM6.45 17.99h1.1v1.02h-1.1zM6.99 18.45h1.02v1.1h-1.02zM14.45 17.99h1.1v1.02h-1.1zM15.45 17.99h1.1v1.02h-1.1zM14.99 18.45h1.02v1.1h-1.02zM16.45 17.99h1.1v1.02h-1.1zM22.45 17.99h1.1v1.02h-1.1zM21.99 18.45h1.02v1.1h-1.02zM22.45 18.45h1.1v1.1h-1.1zM22.99 18.45h1.02v1.1h-1.02zM-0.01 19.45h1.02v1.1h-1.02zM2.45 18.99h1.1v1.02h-1.1zM3.45 18.99h1.1v1.02h-1.1zM2.99 19.45h1.02v1.1h-1.02zM3.45 19.45h1.1v1.1h-1.1zM3.99 19.45h1.02v1.1h-1.02zM6.99 19.45h1.02v1.1h-1.02zM8.99 19.45h1.02v1.1h-1.02zM14.99 19.45h1.02v1.1h-1.02zM22.45 18.99h1.1v1.02h-1.1zM21.99 19.45h1.02v1.1h-1.02zM22.45 19.45h1.1v1.1h-1.1zM22.99 19.45h1.02v1.1h-1.02zM27.45 18.99h1.1v1.02h-1.1zM27.99 19.45h1.02v1.1h-1.02zM3.45 19.99h1.1v1.02h-1.1zM4.45 19.99h1.1v1.02h-1.1zM5.45 19.99h1.1v1.02h-1.1zM6.45 19.99h1.1v1.02h-1.1zM9.45 19.99h1.1v1.02h-1.1zM8.99 20.45h1.02v1.1h-1.02zM9.45 20.45h1.1v1.1h-1.1zM10.45 19.99h1.1v1.02h-1.1zM9.99 20.45h1.02v1.1h-1.02zM10.45 20.45h1.1v1.1h-1.1zM11.45 19.99h1.1v1.02h-1.1zM10.99 20.45h1.02v1.1h-1.02zM11.45 20.45h1.1v1.1h-1.1zM11.99 20.45h1.02v1.1h-1.02zM15.45 19.99h1.1v1.02h-1.1zM16.45 19.99h1.1v1.02h-1.1zM15.99 20.45h1.02v1.1h-1.02zM16.45 20.45h1.1v1.1h-1.1zM16.99 20.45h1.02v1.1h-1.02zM20.45 19.99h1.1v1.02h-1.1zM19.99 20.45h1.02v1.1h-1.02zM21.45 19.99h1.1v1.02h-1.1zM22.45 19.99h1.1v1.02h-1.1zM23.45 19.99h1.1v1.02h-1.1zM23.99 20.45h1.02v1.1h-1.02zM27.99 20.45h1.02v1.1h-1.02zM8.45 20.99h1.1v1.02h-1.1zM7.99 21.45h1.02v1.1h-1.02zM8.45 21.45h1.1v1.1h-1.1zM9.45 20.99h1.1v1.02h-1.1zM8.99 21.45h1.02v1.1h-1.02zM10.45 20.99h1.1v1.02h-1.1zM11.45 20.99h1.1v1.02h-1.1zM12.45 20.99h1.1v1.02h-1.1zM11.99 21.45h1.02v1.1h-1.02zM13.45 20.99h1.1v1.02h-1.1zM16.45 20.99h1.1v1.02h-1.1zM15.99 21.45h1.02v1.1h-1.02zM16.45 21.45h1.1v1.1h-1.1zM17.45 20.99h1.1v1.02h-1.1zM16.99 21.45h1.02v1.1h-1.02zM19.99 21.45h1.02v1.1h-1.02zM24.45 20.99h1.1v1.02h-1.1zM23.99 21.45h1.02v1.1h-1.02zM8.45 21.99h1.1v1.02h-1.1zM7.99 22.45h1.02v1.1h-1.02zM15.45 21.99h1.1v1.02h-1.1zM14.99 22.45h1.02v1.1h-1.02zM15.45 22.45h1.1v1.1h-1.1zM16.45 21.99h1.1v1.02h-1.1zM15.99 22.45h1.02v1.1h-1.02zM19.45 21.99h1.1v1.02h-1.1zM18.99 22.45h1.02v1.1h-1.02zM19.45 22.45h1.1v1.1h-1.1zM19.99 22.45h1.02v1.1h-1.02zM23.99 22.45h1.02v1.1h-1.02zM7.99 23.45h1.02v1.1h-1.02zM10.45 22.99h1.1v1.02h-1.1zM9.99 23.45h1.02v1.1h-1.02zM12.99 23.45h1.02v1.1h-1.02zM15.45 22.99h1.1v1.02h-1.1zM14.99 23.45h1.02v1.1h-1.02zM19.45 22.99h1.1v1.02h-1.1zM19.99 23.45h1.02v1.1h-1.02zM24.45 22.99h1.1v1.02h-1.1zM23.99 23.45h1.02v1.1h-1.02zM24.45 23.45h1.1v1.1h-1.1zM24.99 23.45h1.02v1.1h-1.02zM7.99 24.45h1.02v1.1h-1.02zM12.99 24.45h1.02v1.1h-1.02zM14.99 24.45h1.02v1.1h-1.02zM17.99 24.45h1.02v1.1h-1.02zM20.45 23.99h1.1v1.02h-1.1zM19.99 24.45h1.02v1.1h-1.02zM20.45 24.45h1.1v1.1h-1.1zM21.45 23.99h1.1v1.02h-1.1zM20.99 24.45h1.02v1.1h-1.02zM22.45 23.99h1.1v1.02h-1.1zM23.45 23.99h1.1v1.02h-1.1zM22.99 24.45h1.02v1.1h-1.02zM24.45 23.99h1.1v1.02h-1.1zM25.45 23.99h1.1v1.02h-1.1zM7.99 25.45h1.02v1.1h-1.02zM12.45 24.99h1.1v1.02h-1.1zM11.99 25.45h1.02v1.1h-1.02zM12.45 25.45h1.1v1.1h-1.1zM13.45 24.99h1.1v1.02h-1.1zM12.99 25.45h1.02v1.1h-1.02zM14.45 24.99h1.1v1.02h-1.1zM15.45 24.99h1.1v1.02h-1.1zM18.45 24.99h1.1v1.02h-1.1zM19.45 24.99h1.1v1.02h-1.1zM18.99 25.45h1.02v1.1h-1.02zM19.45 25.45h1.1v1.1h-1.1zM20.45 24.99h1.1v1.02h-1.1zM19.99 25.45h1.02v1.1h-1.02zM20.45 25.45h1.1v1.1h-1.1zM20.99 25.45h1.02v1.1h-1.02zM22.99 25.45h1.02v1.1h-1.02zM8.45 25.99h1.1v1.02h-1.1zM7.99 26.45h1.02v1.1h-1.02zM11.45 25.99h1.1v1.02h-1.1zM10.99 26.45h1.02v1.1h-1.02zM11.45 26.45h1.1v1.1h-1.1zM12.45 25.99h1.1v1.02h-1.1zM11.99 26.45h1.02v1.1h-1.02zM12.45 26.45h1.1v1.1h-1.1zM12.99 26.45h1.02v1.1h-1.02zM19.45 25.99h1.1v1.02h-1.1zM18.99 26.45h1.02v1.1h-1.02zM19.45 26.45h1.1v1.1h-1.1zM20.45 25.99h1.1v1.02h-1.1zM19.99 26.45h1.02v1.1h-1.02zM21.45 25.99h1.1v1.02h-1.1zM22.45 25.99h1.1v1.02h-1.1zM23.45 25.99h1.1v1.02h-1.1zM24.45 25.99h1.1v1.02h-1.1zM23.99 26.45h1.02v1.1h-1.02zM24.45 26.45h1.1v1.1h-1.1zM25.45 25.99h1.1v1.02h-1.1zM24.99 26.45h1.02v1.1h-1.02zM26.45 25.99h1.1v1.02h-1.1zM26.99 26.45h1.02v1.1h-1.02zM10.45 26.99h1.1v1.02h-1.1zM11.45 26.99h1.1v1.02h-1.1zM10.99 27.45h1.02v1.1h-1.02zM12.45 26.99h1.1v1.02h-1.1zM13.45 26.99h1.1v1.02h-1.1zM19.45 26.99h1.1v1.02h-1.1zM24.45 26.99h1.1v1.02h-1.1zM23.99 27.45h1.02v1.1h-1.02zM21.45 27.99h1.1v1.02h-1.1z"/>
</g></svg>
<div class="t" style='left:2221.00px;top:169.00px;font-size:20.97px;line-height:24px;transform:translateX(-50%);text-align:center;'>Princeton University<sup>1</sup>, Meta AI<sup>2</sup></div>
<div class="bx" style="left:20.0px;top:211.0px;width:2539.0px;height:107.0px;background:#d5bfd9;border-radius:16px;"></div>
<div class="t" style='left:1289.20px;top:224.00px;font-size:34.0px;line-height:40px;transform:translateX(-50%);text-align:center;color:#111;'>TL;DR: We ran <b>the first large-scale systematic empirical study</b> on how coresets inherit biases from datasets, and how it impacts downstream group robustness.</div>
<div class="t" style='left:1289.30px;top:264.00px;font-size:34.0px;line-height:40px;transform:translateX(-50%);text-align:center;color:#111;'>We found that the selection process can systematically change the bias levels of coresets, yet lower bias levels don’t always yield better robustness</div>
<!-- sec_left -->
<div class="t" style='left:43.23px;top:343.00px;font-size:21.0px;line-height:21.0px;'>•</div>
<div class="t" style='left:60.00px;top:342.00px;font-size:21.0px;line-height:24px;'><b>Coreset selection</b> – Selecting a subset of training data that preserves the<br>downstream performance</div>
<div class="t" style='left:43.23px;top:398.00px;font-size:21.0px;line-height:21.0px;'>•</div>
<div class="t" style='left:60.00px;top:397.00px;font-size:21.0px;line-height:24px;'><b>Spurious Correlations</b> – non-causal feature-label associations that lead to<br>shortcut learning</div>
<svg class="sv" style="left:0;top:0" width="2592" height="1728" viewBox="0 0 2592 1728" >
<defs><filter id="bsh" x="-10%" y="-10%" width="125%" height="125%"><feDropShadow dx="1" dy="1.2" stdDeviation="0.8" flood-color="#000" flood-opacity="0.4"/></filter><filter id="ssh" x="-10%" y="-10%" width="125%" height="125%"><feDropShadow dx="0.8" dy="0.9" stdDeviation="0.6" flood-color="#000" flood-opacity="0.45"/></filter></defs>
<rect x="234.50" y="472.00" width="61.20" height="61.20" fill="none" stroke="#7fd3d9" stroke-width="2.6" filter="url(#bsh)"/>
<polygon transform="translate(233.20 470.70)" points="2.74,30.90 13.71,27.24 21.94,24.95 31.99,20.84 39.31,15.36 42.05,12.61 40.68,8.96 42.96,5.76 47.53,4.20 52.10,5.30 54.84,7.59 59.41,8.04 60.79,9.87 59.87,13.07 57.13,14.44 53.02,14.90 50.27,17.18 48.90,20.84 47.99,25.41 47.53,30.90 46.62,33.64 50.27,35.01 56.67,35.47 58.50,39.12 59.41,42.78 57.13,46.44 54.84,48.26 53.47,45.52 54.84,41.86 53.93,39.58 48.45,40.04 42.96,40.04 41.59,43.69 39.76,49.18 39.31,52.83 42.05,55.12 41.59,57.22 37.48,57.22 34.73,54.66 35.65,51.01 35.65,43.69 34.73,40.95 28.34,40.95 21.02,39.58 19.20,41.86 16.45,45.52 12.80,47.35 15.54,49.18 16.00,51.46 13.25,52.83 12.80,55.58 10.05,56.49 6.40,54.66 5.48,49.18 5.94,44.15 8.23,42.32 6.40,40.04 8.68,37.29 10.51,32.72 6.40,32.27 2.74,31.81" fill="#000" stroke="#000" stroke-width="0.7" stroke-linejoin="round" filter="url(#ssh)"/>
<polyline transform="translate(233.20 470.70)" points="42.23,13.71 44.79,16.09 47.71,14.99" fill="none" stroke="#fff" stroke-width="0.75" stroke-linecap="round" stroke-linejoin="round"/>
<polyline transform="translate(233.20 470.70)" points="47.53,11.70 48.63,13.07" fill="none" stroke="#fff" stroke-width="0.75" stroke-linecap="round" stroke-linejoin="round"/>
<polyline transform="translate(233.20 470.70)" points="37.93,39.12 39.31,40.49 42.50,41.41" fill="none" stroke="#fff" stroke-width="0.75" stroke-linecap="round" stroke-linejoin="round"/>
<polyline transform="translate(233.20 470.70)" points="9.14,38.21 10.51,40.04 10.05,41.86" fill="none" stroke="#fff" stroke-width="0.75" stroke-linecap="round" stroke-linejoin="round"/>
<rect x="301.60" y="472.00" width="61.20" height="61.20" fill="none" stroke="#7fd3d9" stroke-width="2.6" filter="url(#bsh)"/>
<polygon transform="translate(300.30 470.70)" points="13.89,22.67 16.82,19.93 18.65,16.73 21.85,14.63 25.50,15.81 28.70,19.47 30.53,24.50 31.90,28.15 36.93,33.64 42.41,40.04 46.07,44.61 47.90,43.69 48.99,40.95 49.54,44.15 47.90,47.81 44.24,48.99 32.36,48.72 23.22,48.45 22.30,47.17 25.05,45.98 25.05,40.04 23.67,34.55 21.39,30.90 19.56,27.70 16.82,26.78 14.53,24.50" fill="#000" stroke="#000" stroke-width="0.7" stroke-linejoin="round" filter="url(#ssh)"/>
<polyline transform="translate(300.30 470.70)" points="23.67,18.83 23.95,24.04 25.05,25.87 30.99,25.59" fill="none" stroke="#fff" stroke-width="0.75" stroke-linecap="round" stroke-linejoin="round"/>
<polyline transform="translate(300.30 470.70)" points="36.20,37.29 33.46,39.31 32.54,47.35" fill="none" stroke="#fff" stroke-width="0.75" stroke-linecap="round" stroke-linejoin="round"/>
<rect x="368.50" y="472.00" width="61.20" height="61.20" fill="none" stroke="#ea8a5b" stroke-width="2.6" filter="url(#bsh)"/>
<polygon transform="translate(367.20 470.70)" points="7.77,18.56 9.60,20.84 10.05,24.50 13.25,29.07 17.37,31.81 24.22,30.44 31.54,29.07 38.85,29.98 43.88,30.90 46.62,26.33 48.17,22.21 49.36,24.50 53.47,24.95 56.95,28.15 56.22,31.81 52.56,34.55 50.73,39.12 48.90,42.78 51.65,47.35 55.76,52.83 54.39,54.20 49.82,50.09 45.25,45.52 45.70,50.09 46.62,53.75 44.33,54.20 42.96,49.18 42.05,44.15 36.11,41.86 30.62,42.78 28.79,46.44 27.42,51.01 31.08,53.75 28.79,53.75 25.14,51.01 22.39,45.52 20.57,42.78 19.20,47.35 17.82,50.09 18.74,52.83 16.45,52.38 16.00,48.26 17.37,41.86 17.82,37.29 16.45,34.55 12.34,31.81 8.68,27.24 6.86,21.76" fill="#000" stroke="#000" stroke-width="0.7" stroke-linejoin="round" filter="url(#ssh)"/>
<rect x="435.50" y="472.00" width="61.20" height="61.20" fill="none" stroke="#ea8a5b" stroke-width="2.6" filter="url(#bsh)"/>
<polygon transform="translate(434.20 470.70)" points="11.15,7.59 13.44,10.33 15.27,12.61 21.21,12.16 25.32,8.50 26.87,12.61 27.61,19.01 30.35,20.84 33.09,20.84 36.75,17.18 43.14,12.16 50.46,8.04 53.66,3.47 55.48,5.76 53.20,10.79 45.89,15.36 39.49,20.84 36.29,23.58 36.75,30.90 35.37,37.29 34.00,42.78 33.09,49.18 33.27,54.66 31.72,56.31 29.43,56.03 28.98,51.01 28.06,44.61 25.78,43.69 23.95,47.35 22.58,53.75 22.12,59.23 18.46,59.96 17.73,57.40 17.09,51.01 16.64,44.61 15.27,49.18 15.72,55.58 14.63,57.40 13.44,55.58 12.98,48.26 11.15,40.04 8.87,32.72 9.32,27.24 10.24,24.50 8.41,20.84 8.87,15.36 10.24,10.79" fill="#000" stroke="#000" stroke-width="0.7" stroke-linejoin="round" filter="url(#ssh)"/>
<polyline transform="translate(434.20 470.70)" points="10.05,24.68 16.64,26.97 23.95,25.87 28.34,20.84" fill="none" stroke="#fff" stroke-width="0.75" stroke-linecap="round" stroke-linejoin="round"/>
<polyline transform="translate(434.20 470.70)" points="12.52,17.18 14.35,18.28 15.54,17.18" fill="none" stroke="#fff" stroke-width="0.75" stroke-linecap="round" stroke-linejoin="round"/>
<polyline transform="translate(434.20 470.70)" points="20.29,17.92 22.12,17.00 23.77,18.28" fill="none" stroke="#fff" stroke-width="0.75" stroke-linecap="round" stroke-linejoin="round"/>
<polyline transform="translate(434.20 470.70)" points="16.64,44.15 17.73,57.40" fill="none" stroke="#fff" stroke-width="0.75" stroke-linecap="round" stroke-linejoin="round"/>
<polyline transform="translate(434.20 470.70)" points="25.96,43.69 28.70,34.55" fill="none" stroke="#fff" stroke-width="0.75" stroke-linecap="round" stroke-linejoin="round"/>
<polyline transform="translate(434.20 470.70)" points="17.37,20.38 18.28,21.02" fill="none" stroke="#fff" stroke-width="0.75" stroke-linecap="round" stroke-linejoin="round"/>
<rect x="502.40" y="472.00" width="61.20" height="61.20" fill="none" stroke="#7fd3d9" stroke-width="2.6" filter="url(#bsh)"/>
<polygon transform="translate(501.10 470.70)" points="42.96,3.29 48.45,3.93 51.65,7.59 55.76,8.96 56.22,12.16 53.93,14.90 50.27,16.27 47.53,18.10 46.62,23.58 48.90,29.07 47.99,34.55 45.70,39.12 43.42,43.69 42.50,49.18 44.79,53.75 47.07,56.49 44.79,58.32 41.13,57.86 39.31,56.49 37.93,57.86 27.42,57.86 18.28,57.40 10.97,54.66 5.94,50.09 4.57,43.69 6.40,41.86 5.94,35.47 9.14,30.90 10.05,27.24 13.25,25.87 12.80,21.30 17.37,25.41 18.28,30.90 14.63,37.29 12.80,43.69 13.71,49.18 16.91,52.83 16.91,47.35 18.74,38.21 23.77,29.98 28.34,24.50 32.91,19.01 35.19,15.36 35.19,10.79 36.56,6.22 39.31,3.93" fill="#000" stroke="#000" stroke-width="0.7" stroke-linejoin="round" filter="url(#ssh)"/>
<polyline transform="translate(501.10 470.70)" points="40.40,4.57 43.88,10.33 43.69,15.54" fill="none" stroke="#fff" stroke-width="0.75" stroke-linecap="round" stroke-linejoin="round"/>
<polyline transform="translate(501.10 470.70)" points="35.65,14.63 40.22,16.27 44.33,14.99" fill="none" stroke="#fff" stroke-width="0.75" stroke-linecap="round" stroke-linejoin="round"/>
<polyline transform="translate(501.10 470.70)" points="31.99,41.86 36.56,44.15 38.85,49.18 39.49,56.49" fill="none" stroke="#fff" stroke-width="0.75" stroke-linecap="round" stroke-linejoin="round"/>
<polyline transform="translate(501.10 470.70)" points="46.62,8.23 47.71,8.96" fill="none" stroke="#fff" stroke-width="0.75" stroke-linecap="round" stroke-linejoin="round"/>
<rect x="569.50" y="472.00" width="61.20" height="61.20" fill="none" stroke="#ea8a5b" stroke-width="2.6" filter="url(#bsh)"/>
<polygon transform="translate(568.20 470.70)" points="40.22,7.59 43.42,8.96 47.99,7.86 54.39,7.31 56.22,9.87 56.22,13.53 53.93,17.18 53.47,21.76 55.30,27.24 55.76,31.81 53.47,37.29 51.19,42.78 49.82,49.18 49.36,53.75 50.91,55.39 50.55,57.22 42.50,57.59 31.54,57.40 24.22,55.76 17.82,51.92 13.71,48.26 12.52,43.69 14.17,35.47 14.63,29.07 13.25,23.58 9.60,21.30 7.59,20.66 8.23,19.20 12.34,19.93 16.00,22.67 18.74,29.07 18.56,35.47 17.37,41.86 18.74,46.44 22.39,49.63 24.22,49.18 24.68,41.86 26.05,35.47 29.71,29.98 35.19,25.87 40.68,22.67 43.42,19.01 43.42,14.44 42.05,11.24" fill="#000" stroke="#000" stroke-width="0.7" stroke-linejoin="round" filter="url(#ssh)"/>
<rect x="291.20" y="629.50" width="37.80" height="37.80" fill="none" stroke="#7fd3d9" stroke-width="2.0" filter="url(#bsh)"/>
<polygon transform="translate(290.20 628.50)" points="23.13,6.12 29.25,6.80 32.65,9.52 33.06,12.24 29.25,14.97 27.89,19.05 28.57,24.49 29.25,29.93 30.61,32.65 25.17,33.33 22.45,29.93 21.09,33.33 11.56,34.01 7.48,31.29 6.80,24.49 8.84,23.13 10.20,28.57 12.24,21.77 17.01,14.97 20.41,10.88 20.00,8.16" fill="#000" stroke="#000" stroke-width="0.7" stroke-linejoin="round" filter="url(#ssh)"/>
<polyline transform="translate(290.20 628.50)" points="21.77,9.52 23.81,13.61 25.44,14.69" fill="none" stroke="#fff" stroke-width="0.75" stroke-linecap="round" stroke-linejoin="round"/>
<polyline transform="translate(290.20 628.50)" points="17.69,24.49 21.77,26.53 23.13,31.97" fill="none" stroke="#fff" stroke-width="0.75" stroke-linecap="round" stroke-linejoin="round"/>
<polyline transform="translate(290.20 628.50)" points="25.44,26.53 26.53,31.97" fill="none" stroke="#fff" stroke-width="0.75" stroke-linecap="round" stroke-linejoin="round"/>
<rect x="358.30" y="629.50" width="37.80" height="37.80" fill="none" stroke="#ea8a5b" stroke-width="2.0" filter="url(#bsh)"/>
<polygon transform="translate(357.30 628.50)" points="12.52,8.16 9.80,7.07 7.07,9.52 7.76,16.33 11.16,20.41 17.96,17.69 26.12,17.01 30.20,13.61 32.24,14.29 34.97,19.05 32.24,21.77 30.20,25.85 34.97,31.29 31.56,31.29 26.80,27.21 23.40,27.89 22.72,31.97 20.41,31.97 20.00,27.21 15.24,26.53 13.20,30.61 15.24,33.33 11.84,32.65 10.48,27.21 7.07,27.89 4.35,31.97 3.67,29.93 6.39,24.49 8.44,20.41 5.99,14.97 6.39,8.16 9.80,6.12" fill="#000" stroke="#000" stroke-width="0.7" stroke-linejoin="round" filter="url(#ssh)"/>
<rect x="458.60" y="628.00" width="37.80" height="37.80" fill="none" stroke="#7fd3d9" stroke-width="2.0" filter="url(#bsh)"/>
<polygon transform="translate(457.60 627.00)" points="6.12,12.24 8.16,10.88 10.20,12.93 8.84,15.65 12.93,17.01 19.73,16.33 25.17,13.61 27.21,9.52 30.61,7.07 34.69,8.84 35.78,11.56 32.65,12.93 31.29,17.69 29.25,23.13 27.89,28.57 29.25,31.29 25.85,31.29 23.81,28.57 24.49,23.13 18.37,23.13 12.93,25.85 8.84,29.25 6.80,31.97 3.40,31.56 4.76,28.57 8.16,24.49 9.52,20.41 8.16,17.01 6.12,14.97" fill="#000" stroke="#000" stroke-width="0.7" stroke-linejoin="round" filter="url(#ssh)"/>
<rect x="528.00" y="629.50" width="37.80" height="37.80" fill="none" stroke="#ea8a5b" stroke-width="2.0" filter="url(#bsh)"/>
<polygon transform="translate(527.00 628.50)" points="25.17,2.72 25.85,6.80 29.25,8.84 28.57,11.56 26.53,13.61 27.21,20.41 25.85,27.21 26.53,30.61 23.81,31.29 23.81,34.69 24.49,36.05 14.29,36.05 12.24,34.01 12.65,31.29 16.33,31.29 12.93,28.57 12.24,21.77 14.29,16.33 19.05,12.24 21.09,8.16 21.77,5.44" fill="#000" stroke="#000" stroke-width="0.7" stroke-linejoin="round" filter="url(#ssh)"/>
<path d="M198.2 511V537" stroke="#3c6ea5" stroke-width="0.9" fill="none"/><path d="M196.6 533.5L198.2 537L199.8 533.5Z" fill="#3c6ea5"/>
<path d="M198.2 560V583.5" stroke="#3c6ea5" stroke-width="0.9" fill="none"/><path d="M196.6 580.0L198.2 583.5L199.8 580.0Z" fill="#3c6ea5"/>
<path d="M198.2 607V641.5" stroke="#3c6ea5" stroke-width="0.9" fill="none"/><path d="M196.6 638.0L198.2 641.5L199.8 638.0Z" fill="#3c6ea5"/>
<path d="M313.7 563.4 C313.7 570 315 572.3 320 572.3 H425 C430 572.3 431.3 574 431.3 581 C431.3 574 432.6 572.3 437.6 572.3 H542.5 C547.5 572.3 548.7 570 548.7 563.4" fill="none" stroke="#222" stroke-width="0.9"/>
</svg>
<div class="t" style='left:197.00px;top:493.00px;font-size:13.4px;line-height:15.41px;transform:translateX(-50%);text-align:center;font-weight:bold;'>Data</div>
<div class="t" style='left:196.00px;top:542.00px;font-size:13.4px;line-height:15.41px;transform:translateX(-50%);text-align:center;font-weight:bold;'>Score</div>
<div class="t" style='left:202.50px;top:589.00px;font-size:13.4px;line-height:15.41px;transform:translateX(-50%);text-align:center;font-weight:bold;'>Selection</div>
<div class="t" style='left:204.30px;top:647.00px;font-size:13.4px;line-height:15.9px;transform:translateX(-50%);text-align:center;font-weight:bold;'>Dog-vs-Cat<br>Classifier<br>performance</div>
<div class="t" style='left:262.70px;top:543.00px;font-size:13.4px;line-height:15.41px;transform:translateX(-50%);text-align:center;'>0.10</div>
<div class="t" style='left:332.00px;top:543.00px;font-size:13.4px;line-height:15.41px;transform:translateX(-50%);text-align:center;'>0.94</div>
<div class="t" style='left:396.50px;top:543.00px;font-size:13.4px;line-height:15.41px;transform:translateX(-50%);text-align:center;'>0.65</div>
<div class="t" style='left:463.00px;top:543.00px;font-size:13.4px;line-height:15.41px;transform:translateX(-50%);text-align:center;'>0.58</div>
<div class="t" style='left:529.00px;top:543.00px;font-size:13.4px;line-height:15.41px;transform:translateX(-50%);text-align:center;'>0.33</div>
<div class="t" style='left:598.50px;top:543.00px;font-size:13.4px;line-height:15.41px;transform:translateX(-50%);text-align:center;'>0.25</div>
<div class="t" style='left:433.00px;top:578.00px;font-size:15.2px;line-height:17.48px;transform:translateX(-50%);text-align:center;text-shadow:0.6px 0.8px 1px rgba(0,0,0,0.3);'>Only <u>sitting</u> <b style="color:#1f6a75">dogs</b> and <u>standing</u> <b style="color:#b5562a">cats</b></div>
<div class="t" style='left:433.30px;top:597.00px;font-size:15.2px;line-height:17.48px;transform:translateX(-50%);text-align:center;text-shadow:0.6px 0.8px 1px rgba(0,0,0,0.3);'>Inadvertently get selected</div>
<div class="t" style='left:348.20px;top:676.00px;font-size:15.2px;line-height:17.48px;transform:translateX(-50%);text-align:center;text-shadow:0.6px 0.8px 1px rgba(0,0,0,0.3);'><u>sitting</u> <b style="color:#1f6a75">dogs,</b></div>
<div class="t" style='left:348.20px;top:695.00px;font-size:15.2px;line-height:17.48px;transform:translateX(-50%);text-align:center;text-shadow:0.6px 0.8px 1px rgba(0,0,0,0.3);'><u>standing</u> <b style="color:#b5562a">cats</b></div>
<div class="t" style='left:513.50px;top:676.00px;font-size:15.2px;line-height:17.48px;transform:translateX(-50%);text-align:center;text-shadow:0.6px 0.8px 1px rgba(0,0,0,0.3);'><u>standing</u> <b style="color:#1f6a75">dogs,</b></div>
<div class="t" style='left:513.50px;top:695.00px;font-size:15.2px;line-height:17.48px;transform:translateX(-50%);text-align:center;text-shadow:0.6px 0.8px 1px rgba(0,0,0,0.3);'><u>sitting</u> <b style="color:#b5562a">cats</b></div>
<div class="t" style='left:343.50px;top:647.00px;font-size:18.5px;line-height:21.27px;font-family:"DejaVu Sans", sans-serif;transform:translateX(-50%);text-align:center;color:#111;'>☺</div>
<div class="t" style='left:411.60px;top:647.00px;font-size:18.5px;line-height:21.27px;font-family:"DejaVu Sans", sans-serif;transform:translateX(-50%);text-align:center;color:#111;'>☺</div>
<div class="t" style='left:512.20px;top:624.00px;font-size:25.5px;line-height:29.32px;transform:translateX(-50%);text-align:center;color:#a6a6a6;'>?</div>
<div class="t" style='left:512.20px;top:647.00px;font-size:18.5px;line-height:21.27px;font-family:"DejaVu Sans", sans-serif;transform:translateX(-50%);text-align:center;color:#a6a6a6;'>☹</div>
<div class="t" style='left:581.30px;top:624.00px;font-size:25.5px;line-height:29.32px;transform:translateX(-50%);text-align:center;color:#a6a6a6;'>?</div>
<div class="t" style='left:581.30px;top:647.00px;font-size:18.5px;line-height:21.27px;font-family:"DejaVu Sans", sans-serif;transform:translateX(-50%);text-align:center;color:#a6a6a6;'>☹</div>
<div class="t" style='left:244.00px;top:737.00px;font-size:21.0px;line-height:24px;transform:translateX(-50%);text-align:center;'>Majority, Bias-aligning: easy,<br>Sp. feature matches label</div>
<div class="t" style='left:584.00px;top:737.00px;font-size:21.0px;line-height:24px;transform:translateX(-50%);text-align:center;'>Minority, Bias-conflicting: hard,<br>Sp. feature contradicts label</div>
<div class="t" style='left:36.80px;top:807.00px;font-size:21.0px;line-height:24px;'>Performance on minority groups is significantly lower than the average. Worst-<br>group accuracy measures the group-robustness of the model performance.</div>
<div class="t" style='left:405.50px;top:899.00px;font-size:34.0px;line-height:40px;transform:translateX(-50%);text-align:center;'>Research Questions</div>
<div class="bx" style="left:21.6px;top:949.7px;width:767.4px;height:133.6px;background:#e2a1a2;border-radius:14px;"></div>
<div class="t" style='left:405.20px;top:978.00px;font-size:26.95px;line-height:39.1px;transform:translateX(-50%);text-align:center;'>Is coreset selection inadvertently changing the bias levels?<br>How does that impact the downstream group robustness?</div>
<div class="t" style='left:401.00px;top:1110.00px;font-size:34.0px;line-height:40px;transform:translateX(-50%);text-align:center;'>Why is it important?</div>
<svg class="sv" style="left:0;top:0" width="2592" height="1728" viewBox="0 0 2592 1728" >
<path d="M106.8 1360.74H333.6M106.8 1317.78H333.6M106.8 1274.82H333.6M106.8 1231.86H333.6" stroke="#ececec" stroke-width="1.0" fill="none"/>
<path d="M117.39 1188.9V1403.7M146.81 1188.9V1403.7M176.22 1188.9V1403.7M205.64 1188.9V1403.7M235.06 1188.9V1403.7M264.47 1188.9V1403.7M293.89 1188.9V1403.7M323.3 1188.9V1403.7" stroke="#ececec" stroke-width="1.0" fill="none"/>
<polygon points="117.39,1317.14 146.81,1295.66 176.22,1292.43 205.64,1279.55 235.06,1264.29 264.47,1245.82 293.89,1244.1 323.3,1252.27 323.3,1257.21 293.89,1250.12 264.47,1255.92 235.06,1276.75 205.64,1301.03 176.22,1319.71 146.81,1326.8 117.39,1333.03" fill="#ee8a3c" fill-opacity="0.2"/>
<polyline points="117.39,1200.5 146.81,1199.64 176.22,1198.78 205.64,1197.28 235.06,1195.99 264.47,1194.7 293.89,1193.84 323.3,1193.84" fill="none" stroke="#3b75af" stroke-width="1.3" stroke-linejoin="round" stroke-dasharray="4.5 2" />
<circle cx="117.39" cy="1200.5" r="2.8" fill="#3b75af" stroke="none" stroke-width="0.6"/><circle cx="146.81" cy="1199.64" r="2.8" fill="#3b75af" stroke="none" stroke-width="0.6"/><circle cx="176.22" cy="1198.78" r="2.8" fill="#3b75af" stroke="none" stroke-width="0.6"/><circle cx="205.64" cy="1197.28" r="2.8" fill="#3b75af" stroke="none" stroke-width="0.6"/><circle cx="235.06" cy="1195.99" r="2.8" fill="#3b75af" stroke="none" stroke-width="0.6"/><circle cx="264.47" cy="1194.7" r="2.8" fill="#3b75af" stroke="none" stroke-width="0.6"/><circle cx="293.89" cy="1193.84" r="2.8" fill="#3b75af" stroke="none" stroke-width="0.6"/><circle cx="323.3" cy="1193.84" r="2.8" fill="#3b75af" stroke="none" stroke-width="0.6"/><polyline points="117.39,1325.51 146.81,1311.12 176.22,1306.4 205.64,1289.86 235.06,1270.95 264.47,1251.19 293.89,1247.54 323.3,1255.06" fill="none" stroke="#ee8a3c" stroke-width="1.3" stroke-linejoin="round" stroke-dasharray="4.5 2" />
<circle cx="117.39" cy="1325.51" r="2.8" fill="#ee8a3c" stroke="none" stroke-width="0.6"/><circle cx="146.81" cy="1311.12" r="2.8" fill="#ee8a3c" stroke="none" stroke-width="0.6"/><circle cx="176.22" cy="1306.4" r="2.8" fill="#ee8a3c" stroke="none" stroke-width="0.6"/><circle cx="205.64" cy="1289.86" r="2.8" fill="#ee8a3c" stroke="none" stroke-width="0.6"/><circle cx="235.06" cy="1270.95" r="2.8" fill="#ee8a3c" stroke="none" stroke-width="0.6"/><circle cx="264.47" cy="1251.19" r="2.8" fill="#ee8a3c" stroke="none" stroke-width="0.6"/><circle cx="293.89" cy="1247.54" r="2.8" fill="#ee8a3c" stroke="none" stroke-width="0.6"/><circle cx="323.3" cy="1255.06" r="2.8" fill="#ee8a3c" stroke="none" stroke-width="0.6"/><rect x="106.8" y="1188.9" width="226.8" height="214.8" fill="none" stroke="#555" stroke-width="1.2"/>
<path d="M117.39 1403.7v3.2M146.81 1403.7v3.2M176.22 1403.7v3.2M205.64 1403.7v3.2M235.06 1403.7v3.2M264.47 1403.7v3.2M293.89 1403.7v3.2M323.3 1403.7v3.2" stroke="#333" stroke-width="0.8" fill="none"/>
<path d="M106.8 1403.7h-3.2M106.8 1360.74h-3.2M106.8 1317.78h-3.2M106.8 1274.82h-3.2M106.8 1231.86h-3.2M106.8 1188.9h-3.2" stroke="#333" stroke-width="0.8" fill="none"/>
<text x="101.6" y="1407.88" text-anchor="end" style="font-family:'DejaVu Sans',sans-serif;font-size:11.6px" fill="#222" >0</text>
<text x="101.6" y="1364.92" text-anchor="end" style="font-family:'DejaVu Sans',sans-serif;font-size:11.6px" fill="#222" >20</text>
<text x="101.6" y="1321.96" text-anchor="end" style="font-family:'DejaVu Sans',sans-serif;font-size:11.6px" fill="#222" >40</text>
<text x="101.6" y="1279" text-anchor="end" style="font-family:'DejaVu Sans',sans-serif;font-size:11.6px" fill="#222" >60</text>
<text x="101.6" y="1236.04" text-anchor="end" style="font-family:'DejaVu Sans',sans-serif;font-size:11.6px" fill="#222" >80</text>
<text x="101.6" y="1193.08" text-anchor="end" style="font-family:'DejaVu Sans',sans-serif;font-size:11.6px" fill="#222" >100</text>
<text x="117.39" y="1418.3" text-anchor="middle" style="font-family:'DejaVu Sans',sans-serif;font-size:11.6px" fill="#222" >2</text>
<text x="146.81" y="1418.3" text-anchor="middle" style="font-family:'DejaVu Sans',sans-serif;font-size:11.6px" fill="#222" >5</text>
<text x="176.22" y="1418.3" text-anchor="middle" style="font-family:'DejaVu Sans',sans-serif;font-size:11.6px" fill="#222" >10</text>
<text x="205.64" y="1418.3" text-anchor="middle" style="font-family:'DejaVu Sans',sans-serif;font-size:11.6px" fill="#222" >20</text>
<text x="235.06" y="1418.3" text-anchor="middle" style="font-family:'DejaVu Sans',sans-serif;font-size:11.6px" fill="#222" >40</text>
<text x="264.47" y="1418.3" text-anchor="middle" style="font-family:'DejaVu Sans',sans-serif;font-size:11.6px" fill="#222" >60</text>
<text x="293.89" y="1418.3" text-anchor="middle" style="font-family:'DejaVu Sans',sans-serif;font-size:11.6px" fill="#222" >80</text>
<text x="323.3" y="1418.3" text-anchor="middle" style="font-family:'DejaVu Sans',sans-serif;font-size:11.6px" fill="#222" >98</text>
<text x="220" y="1183.8" text-anchor="middle" style="font-family:'DejaVu Sans',sans-serif;font-size:12.92px" fill="#222" >(a) Random Coreset Selection</text>
<text x="220" y="1433" text-anchor="middle" style="font-family:'DejaVu Sans',sans-serif;font-size:12.92px" fill="#222" >Selection Rate (%)</text>
<text x="74" y="1296.4" text-anchor="middle" transform="rotate(-90 74 1296.4)" style="font-family:'DejaVu Sans',sans-serif;font-size:12.92px" fill="#222" >Accuracy (%)</text>
<rect x="136.2" y="1355.2" width="191.1" height="41.9" rx="2.5" fill="#fff" fill-opacity="0.85" stroke="#d0d0d0" stroke-width="1"/>
<path d="M141.6 1366.4H167.5" stroke="#ee8a3c" stroke-width="1.3" stroke-dasharray="4.5 2"/><circle cx="154.5" cy="1366.4" r="2.8" fill="#ee8a3c" stroke="none" stroke-width="0.6"/><text x="178.2" y="1371" style="font-family:'DejaVu Sans',sans-serif;font-size:12.92px" fill="#222" >Worst Group Accuracy</text>
<path d="M141.6 1385.0H167.5" stroke="#3b75af" stroke-width="1.3" stroke-dasharray="4.5 2"/><circle cx="154.5" cy="1385" r="2.8" fill="#3b75af" stroke="none" stroke-width="0.6"/><text x="178.2" y="1389.6" style="font-family:'DejaVu Sans',sans-serif;font-size:12.92px" fill="#222" >Average Accuracy</text>
<path d="M121.8 1247.5L116.4 1253.1L120 1253.1L120 1310.4L116.4 1310.4L121.8 1316L127.2 1310.4L123.6 1310.4L123.6 1253.1L127.2 1253.1Z" fill="#c44e52" stroke="none" stroke-width="1.0" stroke-linejoin="miter"/>
<clipPath id="cpb"><rect x="506.8" y="1288.2" width="226.8" height="214.29999999999995"/></clipPath>
<path d="M506.8 1459.64H733.6M506.8 1416.78H733.6M506.8 1373.92H733.6M506.8 1331.06H733.6" stroke="#ececec" stroke-width="1.0" fill="none"/>
<path d="M566.36 1288.2V1502.5M625.92 1288.2V1502.5M685.48 1288.2V1502.5" stroke="#ececec" stroke-width="1.0" fill="none"/>
<path d="M515.71 1288.21C515.86 1288.81 515.42 1290.15 516.61 1291.79C517.8 1293.42 520.03 1295.65 522.86 1298.04C525.68 1300.42 530.15 1303.39 533.57 1306.07C536.99 1308.75 541.01 1311.58 543.39 1314.11C545.77 1316.64 547.02 1319.17 547.86 1321.25C548.69 1323.33 548.69 1324.08 548.39 1326.61C548.1 1329.14 547.2 1333.01 546.07 1336.43C544.94 1339.85 542.86 1343.57 541.61 1347.14C540.36 1350.71 539.02 1354.88 538.57 1357.86C538.12 1360.83 538.27 1362.62 538.93 1365C539.58 1367.38 540.42 1369.46 542.5 1372.14C544.58 1374.82 548.15 1377.95 551.43 1381.07C554.7 1384.2 559.61 1388.07 562.14 1390.89C564.67 1393.72 566.16 1395.8 566.61 1398.04C567.05 1400.27 566.46 1402.05 564.82 1404.29C563.18 1406.52 559.91 1408.75 556.79 1411.43C553.66 1414.11 549.05 1417.53 546.07 1420.36C543.1 1423.18 540.48 1426.01 538.93 1428.39C537.38 1430.77 536.93 1432.41 536.79 1434.64C536.64 1436.88 537.38 1439.11 538.04 1441.79C538.69 1444.46 540.33 1448.04 540.71 1450.71C541.1 1453.39 540.95 1455.18 540.36 1457.86C539.76 1460.54 538.57 1464.11 537.14 1466.79C535.71 1469.46 533.72 1471.1 531.79 1473.93C529.85 1476.76 527.62 1480.48 525.54 1483.75C523.45 1487.02 520.92 1490.51 519.29 1493.57C517.65 1496.64 516.31 1500.71 515.71 1502.14L506.79 1502.5L506.79 1288.21Z" fill="#ee8a3c" fill-opacity="0.3"/><path d="M515.71 1288.21C515.86 1288.81 515.42 1290.15 516.61 1291.79C517.8 1293.42 520.03 1295.65 522.86 1298.04C525.68 1300.42 530.15 1303.39 533.57 1306.07C536.99 1308.75 541.01 1311.58 543.39 1314.11C545.77 1316.64 547.02 1319.17 547.86 1321.25C548.69 1323.33 548.69 1324.08 548.39 1326.61C548.1 1329.14 547.2 1333.01 546.07 1336.43C544.94 1339.85 542.86 1343.57 541.61 1347.14C540.36 1350.71 539.02 1354.88 538.57 1357.86C538.12 1360.83 538.27 1362.62 538.93 1365C539.58 1367.38 540.42 1369.46 542.5 1372.14C544.58 1374.82 548.15 1377.95 551.43 1381.07C554.7 1384.2 559.61 1388.07 562.14 1390.89C564.67 1393.72 566.16 1395.8 566.61 1398.04C567.05 1400.27 566.46 1402.05 564.82 1404.29C563.18 1406.52 559.91 1408.75 556.79 1411.43C553.66 1414.11 549.05 1417.53 546.07 1420.36C543.1 1423.18 540.48 1426.01 538.93 1428.39C537.38 1430.77 536.93 1432.41 536.79 1434.64C536.64 1436.88 537.38 1439.11 538.04 1441.79C538.69 1444.46 540.33 1448.04 540.71 1450.71C541.1 1453.39 540.95 1455.18 540.36 1457.86C539.76 1460.54 538.57 1464.11 537.14 1466.79C535.71 1469.46 533.72 1471.1 531.79 1473.93C529.85 1476.76 527.62 1480.48 525.54 1483.75C523.45 1487.02 520.92 1490.51 519.29 1493.57C517.65 1496.64 516.31 1500.71 515.71 1502.14" fill="none" stroke="#e8833a" stroke-width="1.3"/>
<path d="M506.79 1501.79C518.99 1501.82 558.87 1501.96 580 1501.96C601.13 1501.96 621.67 1501.88 633.57 1501.79C645.48 1501.7 646.96 1501.61 651.43 1501.43C655.89 1501.25 656.79 1501.16 660.36 1500.71C663.93 1500.27 668.69 1499.79 672.86 1498.75C677.02 1497.71 681.49 1496.16 685.36 1494.46C689.23 1492.77 692.5 1490.42 696.07 1488.57C699.64 1486.73 703.51 1484.64 706.79 1483.39C710.06 1482.14 713.04 1481.52 715.71 1481.07C718.39 1480.62 720.77 1480.6 722.86 1480.71C724.94 1480.83 726.43 1481.19 728.21 1481.79C730 1482.38 732.68 1483.87 733.57 1484.29L733.57 1502.5L506.79 1502.5Z" fill="#3b75af" fill-opacity="0.3"/><path d="M506.79 1501.79C518.99 1501.82 558.87 1501.96 580 1501.96C601.13 1501.96 621.67 1501.88 633.57 1501.79C645.48 1501.7 646.96 1501.61 651.43 1501.43C655.89 1501.25 656.79 1501.16 660.36 1500.71C663.93 1500.27 668.69 1499.79 672.86 1498.75C677.02 1497.71 681.49 1496.16 685.36 1494.46C689.23 1492.77 692.5 1490.42 696.07 1488.57C699.64 1486.73 703.51 1484.64 706.79 1483.39C710.06 1482.14 713.04 1481.52 715.71 1481.07C718.39 1480.62 720.77 1480.6 722.86 1480.71C724.94 1480.83 726.43 1481.19 728.21 1481.79C730 1482.38 732.68 1483.87 733.57 1484.29" fill="none" stroke="#3b75af" stroke-width="1.3"/>
<g clip-path="url(#cpb)"><circle cx="528.75" cy="1497.5" r="3.2" fill="#7a7a7a" stroke="#222" stroke-width="0.7"/><circle cx="556.43" cy="1449.82" r="3.2" fill="#7a7a7a" stroke="#222" stroke-width="0.7"/><circle cx="637.5" cy="1479.29" r="3.2" fill="#7a7a7a" stroke="#222" stroke-width="0.7"/><circle cx="684.64" cy="1410.89" r="3.2" fill="#7a7a7a" stroke="#222" stroke-width="0.7"/><circle cx="700.54" cy="1450.71" r="3.2" fill="#7a7a7a" stroke="#222" stroke-width="0.7"/><circle cx="707.14" cy="1461.96" r="3.2" fill="#7a7a7a" stroke="#222" stroke-width="0.7"/><circle cx="714.82" cy="1457.86" r="3.2" fill="#7a7a7a" stroke="#222" stroke-width="0.7"/><circle cx="715.18" cy="1463.57" r="3.2" fill="#7a7a7a" stroke="#222" stroke-width="0.7"/><circle cx="718.39" cy="1440.89" r="3.2" fill="#7a7a7a" stroke="#222" stroke-width="0.7"/><circle cx="716.61" cy="1426.07" r="3.2" fill="#7a7a7a" stroke="#222" stroke-width="0.7"/><circle cx="719.64" cy="1412.32" r="3.2" fill="#7a7a7a" stroke="#222" stroke-width="0.7"/><circle cx="722.5" cy="1411.07" r="3.2" fill="#7a7a7a" stroke="#222" stroke-width="0.7"/><circle cx="720.54" cy="1407.32" r="3.2" fill="#7a7a7a" stroke="#222" stroke-width="0.7"/><circle cx="723.39" cy="1400.18" r="3.2" fill="#7a7a7a" stroke="#222" stroke-width="0.7"/><circle cx="721.07" cy="1394.46" r="3.2" fill="#7a7a7a" stroke="#222" stroke-width="0.7"/><circle cx="721.43" cy="1398.39" r="3.2" fill="#7a7a7a" stroke="#222" stroke-width="0.7"/><circle cx="712.14" cy="1388.21" r="3.2" fill="#7a7a7a" stroke="#222" stroke-width="0.7"/><circle cx="723.21" cy="1385.71" r="3.2" fill="#7a7a7a" stroke="#222" stroke-width="0.7"/><circle cx="724.29" cy="1382.32" r="3.2" fill="#7a7a7a" stroke="#222" stroke-width="0.7"/><circle cx="726.07" cy="1370.71" r="3.2" fill="#7a7a7a" stroke="#222" stroke-width="0.7"/><circle cx="731.43" cy="1352.86" r="3.2" fill="#7a7a7a" stroke="#222" stroke-width="0.7"/><circle cx="731.43" cy="1347.68" r="3.2" fill="#7a7a7a" stroke="#222" stroke-width="0.7"/><circle cx="731.07" cy="1342.5" r="3.2" fill="#7a7a7a" stroke="#222" stroke-width="0.7"/><circle cx="721.43" cy="1333.39" r="3.2" fill="#7a7a7a" stroke="#222" stroke-width="0.7"/><circle cx="728.21" cy="1327.86" r="3.2" fill="#7a7a7a" stroke="#222" stroke-width="0.7"/><circle cx="722.32" cy="1316.43" r="3.2" fill="#7a7a7a" stroke="#222" stroke-width="0.7"/><circle cx="726.43" cy="1316.79" r="3.2" fill="#7a7a7a" stroke="#222" stroke-width="0.7"/><circle cx="723.75" cy="1311.96" r="3.2" fill="#7a7a7a" stroke="#222" stroke-width="0.7"/><circle cx="723.75" cy="1316.79" r="3.2" fill="#7a7a7a" stroke="#222" stroke-width="0.7"/></g>
<rect x="506.8" y="1288.2" width="226.8" height="214.3" fill="none" stroke="#555" stroke-width="1.2"/>
<path d="M506.8 1502.5v3.2M566.36 1502.5v3.2M625.92 1502.5v3.2M685.48 1502.5v3.2" stroke="#333" stroke-width="0.8" fill="none"/>
<path d="M506.8 1502.5h-3.2M506.8 1459.64h-3.2M506.8 1416.78h-3.2M506.8 1373.92h-3.2M506.8 1331.06h-3.2M506.8 1288.2h-3.2" stroke="#333" stroke-width="0.8" fill="none"/>
<text x="501.6" y="1506.68" text-anchor="end" style="font-family:'DejaVu Sans',sans-serif;font-size:11.6px" fill="#222" >0</text>
<text x="501.6" y="1463.82" text-anchor="end" style="font-family:'DejaVu Sans',sans-serif;font-size:11.6px" fill="#222" >20</text>
<text x="501.6" y="1420.96" text-anchor="end" style="font-family:'DejaVu Sans',sans-serif;font-size:11.6px" fill="#222" >40</text>
<text x="501.6" y="1378.1" text-anchor="end" style="font-family:'DejaVu Sans',sans-serif;font-size:11.6px" fill="#222" >60</text>
<text x="501.6" y="1335.24" text-anchor="end" style="font-family:'DejaVu Sans',sans-serif;font-size:11.6px" fill="#222" >80</text>
<text x="501.6" y="1292.38" text-anchor="end" style="font-family:'DejaVu Sans',sans-serif;font-size:11.6px" fill="#222" >100</text>
<text x="506.8" y="1517.1" text-anchor="middle" style="font-family:'DejaVu Sans',sans-serif;font-size:11.6px" fill="#222" >60</text>
<text x="566.36" y="1517.1" text-anchor="middle" style="font-family:'DejaVu Sans',sans-serif;font-size:11.6px" fill="#222" >70</text>
<text x="625.92" y="1517.1" text-anchor="middle" style="font-family:'DejaVu Sans',sans-serif;font-size:11.6px" fill="#222" >80</text>
<text x="685.48" y="1517.1" text-anchor="middle" style="font-family:'DejaVu Sans',sans-serif;font-size:11.6px" fill="#222" >90</text>
<text x="620.3" y="1283.2" text-anchor="middle" style="font-family:'DejaVu Sans',sans-serif;font-size:12.92px" fill="#222" >(b) Coreset Selection Algorithms</text>
<text x="620" y="1532" text-anchor="middle" style="font-family:'DejaVu Sans',sans-serif;font-size:12.92px" fill="#222" >Average accuracy (%)</text>
<text x="473.5" y="1395" text-anchor="middle" transform="rotate(-90 473.5 1395)" style="font-family:'DejaVu Sans',sans-serif;font-size:12.92px" fill="#222" >Worst-group accuracy (%)</text>
<path d="M676.8 1307.5L671.4 1313.1L675 1313.1L675 1462.1L671.4 1462.1L676.8 1467.7L682.2 1462.1L678.6 1462.1L678.6 1313.1L682.2 1313.1Z" fill="#c44e52" stroke="none" stroke-width="1.0" stroke-linejoin="miter"/>
<path d="M692.1 1300.4L697.7 1305.8L697.7 1302.2L724.9 1302.2L724.9 1305.8L730.5 1300.4L724.9 1295L724.9 1298.6L697.7 1298.6L697.7 1295Z" fill="#4f81ea" stroke="none" stroke-width="1.0" stroke-linejoin="miter"/>
<path d="M465.28 1227.94L351.2 1262.31L347.72 1250.77L327.8 1272.7L356.52 1279.97L353.04 1268.44L467.12 1234.06Z" fill="#fff" stroke="#000" stroke-width="1.0" stroke-linejoin="miter"/>
<path d="M424.26 1502.42L508.42 1482.11L511.06 1493.04L530.9 1473.8L504.47 1465.73L507.11 1476.66L422.94 1496.98Z" fill="#fff" stroke="#000" stroke-width="1.0" stroke-linejoin="miter"/>
</svg>
<div class="t" style='left:555.40px;top:1175.00px;font-size:21.0px;line-height:24px;transform:translateX(-50%);text-align:center;'>Smaller coresets preserve average<br>accuracy; but robustness degrades<br>much faster<sup>3</sup>!</div>
<div class="t" style='left:233.30px;top:1461.00px;font-size:21.0px;line-height:24px;transform:translateX(-50%);text-align:center;'>Different coreset selection methods<sup>4</sup> yield<br>comparable average accuracy; but<br>Robustness has a large variation</div>
<div class="t" style='left:87.00px;top:1575.00px;font-size:14.0px;line-height:18.9px;'><sup>3</sup>Preliminary results for Waterbirds Dataset [2]<br><sup>4</sup>Combination of sample scores [9,10,11,12,13] and selection policies [12,13,14]</div>
<!-- sec_mid -->
<div class="bx" style="left:829.7px;top:342.7px;width:858.3px;height:162.3px;background:#c2d1c0;border-radius:15px;"></div>
<div class="t" style='left:1258.60px;top:353.00px;font-size:34.0px;line-height:46.9px;transform:translateX(-50%);text-align:center;'>We utilized <b>a large test bed</b> of<br>10 Benchmarks, 5 Sample Importance scores,<br>5 selection policies, and sizes ranging 2% to 98%</div>
<div class="t" style='left:843.94px;top:532.00px;font-size:12.32px;line-height:14.0px;'>•</div>
<div class="t" style='left:854.80px;top:529.00px;font-size:14.0px;line-height:18px;'>Benchmarks: Waterbirds [2], cMNIST [1], Urbancars [3], Metashift [4], CelebA [8], Civilcomments [5], MultiNLI [7], Nico-spurious [6]</div>
<div class="t" style='left:843.94px;top:553.00px;font-size:12.32px;line-height:14.0px;'>•</div>
<div class="t" style='left:854.80px;top:550.00px;font-size:14.0px;line-height:18px;'>Importance Scores: EL2N [9], Uncertainty [11], Forgetting [10], Supervised-prototypes [13], self-supervised prototypes [12]</div>
<div class="t" style='left:843.94px;top:574.00px;font-size:12.32px;line-height:14.0px;'>•</div>
<div class="t" style='left:854.80px;top:571.00px;font-size:14.0px;line-height:18px;'>Selection Policies: Difficult, Easy [12], Difficult* [9], Moderate [13], Stratified [14]</div>
<div class="bx" style="left:863.8px;top:613.4px;width:790.2px;height:107.6px;background:#b5cbe8;border-radius:15px;"></div>
<div class="t" style='left:1258.20px;top:620.00px;font-size:34.0px;line-height:46.2px;transform:translateX(-50%);text-align:center;'>Sample importance scores systematically align<br>with certain groups</div>
<svg class="sv" style="left:0;top:0" width="2592" height="1728" viewBox="0 0 2592 1728" >
<defs><pattern id="hk" width="11.3" height="11.3" patternUnits="userSpaceOnUse" patternTransform="rotate(-45)"><path d="M0 5.6H11.3" stroke="#2a2a2a" stroke-width="0.7"/></pattern></defs>
<path d="M994.8 908.42H1554.6M994.8 882.64H1554.6M994.8 856.85H1554.6M994.8 831.07H1554.6M994.8 805.29H1554.6" stroke="#cfcfcf" stroke-width="0.9" fill="none" stroke-dasharray="3.5 2.2"/>
<rect x="1020.15" y="922.6" width="12.7" height="11.6" fill="#8e8e8e" stroke="#2a2a2a" stroke-width="0.8" />
<rect x="1125.15" y="920.54" width="12.7" height="13.66" fill="#8e8e8e" stroke="#2a2a2a" stroke-width="0.8" />
<rect x="1230.15" y="920.79" width="12.7" height="13.41" fill="#8e8e8e" stroke="#2a2a2a" stroke-width="0.8" />
<rect x="1335.15" y="853.76" width="12.7" height="80.44" fill="#8e8e8e" stroke="#2a2a2a" stroke-width="0.8" />
<rect x="1440.15" y="835.45" width="12.7" height="98.75" fill="#8e8e8e" stroke="#2a2a2a" stroke-width="0.8" />
<rect x="1038.1" y="827.33" width="12.7" height="106.87" fill="#a6d1c2" stroke="#2a2a2a" stroke-width="0.8" />
<rect x="1143.1" y="872.32" width="12.7" height="61.88" fill="#a6d1c2" stroke="#2a2a2a" stroke-width="0.8" />
<rect x="1248.1" y="869.23" width="12.7" height="64.97" fill="#a6d1c2" stroke="#2a2a2a" stroke-width="0.8" />
<rect x="1353.1" y="816.38" width="12.7" height="117.82" fill="#a6d1c2" stroke="#2a2a2a" stroke-width="0.8" />
<rect x="1458.1" y="803.74" width="12.7" height="130.46" fill="#a6d1c2" stroke="#2a2a2a" stroke-width="0.8" />
<rect x="1050.8" y="829.27" width="12.7" height="104.93" fill="#74b2b8" stroke="#2a2a2a" stroke-width="0.8" />
<rect x="1155.8" y="872.32" width="12.7" height="61.88" fill="#74b2b8" stroke="#2a2a2a" stroke-width="0.8" />
<rect x="1260.8" y="867.94" width="12.7" height="66.26" fill="#74b2b8" stroke="#2a2a2a" stroke-width="0.8" />
<rect x="1365.8" y="816.38" width="12.7" height="117.82" fill="#74b2b8" stroke="#2a2a2a" stroke-width="0.8" />
<rect x="1470.8" y="801.42" width="12.7" height="132.78" fill="#74b2b8" stroke="#2a2a2a" stroke-width="0.8" />
<rect x="1063.5" y="913.06" width="12.7" height="21.14" fill="#a6c9e2" stroke="#2a2a2a" stroke-width="0.8" />
<rect x="1168.5" y="872.32" width="12.7" height="61.88" fill="#a6c9e2" stroke="#2a2a2a" stroke-width="0.8" />
<rect x="1273.5" y="898.62" width="12.7" height="35.58" fill="#a6c9e2" stroke="#2a2a2a" stroke-width="0.8" />
<rect x="1378.5" y="841.38" width="12.7" height="92.82" fill="#a6c9e2" stroke="#2a2a2a" stroke-width="0.8" />
<rect x="1483.5" y="830.3" width="12.7" height="103.9" fill="#a6c9e2" stroke="#2a2a2a" stroke-width="0.8" />
<rect x="1081.1" y="791.37" width="12.7" height="142.83" fill="#f8daa3" stroke="#b9b0a8" stroke-width="0.6" />
<rect x="1081.1" y="902.36" width="12.7" height="31.84" fill="#f0ba5b" stroke="#2a2a2a" stroke-width="0.8" />
<rect x="1081.1" y="902.36" width="12.7" height="31.84" fill="url(#hk)" stroke="none" stroke-width="0" />
<rect x="1186.1" y="896.3" width="12.7" height="37.9" fill="#f8daa3" stroke="#b9b0a8" stroke-width="0.6" />
<rect x="1186.1" y="917.44" width="12.7" height="16.76" fill="#f0ba5b" stroke="#2a2a2a" stroke-width="0.8" />
<rect x="1186.1" y="917.44" width="12.7" height="16.76" fill="url(#hk)" stroke="none" stroke-width="0" />
<rect x="1291.1" y="916.15" width="12.7" height="18.05" fill="#f8daa3" stroke="#b9b0a8" stroke-width="0.6" />
<rect x="1291.1" y="920.02" width="12.7" height="14.18" fill="#f0ba5b" stroke="#2a2a2a" stroke-width="0.8" />
<rect x="1291.1" y="920.02" width="12.7" height="14.18" fill="url(#hk)" stroke="none" stroke-width="0" />
<rect x="1396.1" y="845.77" width="12.7" height="88.43" fill="#f8daa3" stroke="#b9b0a8" stroke-width="0.6" />
<rect x="1396.1" y="846.54" width="12.7" height="87.66" fill="#f0ba5b" stroke="#2a2a2a" stroke-width="0.8" />
<rect x="1396.1" y="846.54" width="12.7" height="87.66" fill="url(#hk)" stroke="none" stroke-width="0" />
<rect x="1501.1" y="828.49" width="12.7" height="105.71" fill="#f8daa3" stroke="#b9b0a8" stroke-width="0.6" />
<rect x="1501.1" y="837.52" width="12.7" height="96.68" fill="#f0ba5b" stroke="#2a2a2a" stroke-width="0.8" />
<rect x="1501.1" y="837.52" width="12.7" height="96.68" fill="url(#hk)" stroke="none" stroke-width="0" />
<rect x="1093.8" y="794.46" width="12.7" height="139.74" fill="#f2b397" stroke="#b9b0a8" stroke-width="0.6" />
<rect x="1093.8" y="820.24" width="12.7" height="113.96" fill="#e87a48" stroke="#2a2a2a" stroke-width="0.8" />
<rect x="1093.8" y="820.24" width="12.7" height="113.96" fill="url(#hk)" stroke="none" stroke-width="0" />
<rect x="1198.8" y="892.56" width="12.7" height="41.64" fill="#f2b397" stroke="#b9b0a8" stroke-width="0.6" />
<rect x="1198.8" y="911.77" width="12.7" height="22.43" fill="#e87a48" stroke="#2a2a2a" stroke-width="0.8" />
<rect x="1198.8" y="911.77" width="12.7" height="22.43" fill="url(#hk)" stroke="none" stroke-width="0" />
<rect x="1303.8" y="916.41" width="12.7" height="17.79" fill="#f2b397" stroke="#b9b0a8" stroke-width="0.6" />
<rect x="1303.8" y="919.76" width="12.7" height="14.44" fill="#e87a48" stroke="#2a2a2a" stroke-width="0.8" />
<rect x="1303.8" y="919.76" width="12.7" height="14.44" fill="url(#hk)" stroke="none" stroke-width="0" />
<rect x="1408.8" y="843.7" width="12.7" height="90.5" fill="#f2b397" stroke="#b9b0a8" stroke-width="0.6" />
<rect x="1408.8" y="844.48" width="12.7" height="89.72" fill="#e87a48" stroke="#2a2a2a" stroke-width="0.8" />
<rect x="1408.8" y="844.48" width="12.7" height="89.72" fill="url(#hk)" stroke="none" stroke-width="0" />
<rect x="1513.8" y="816.12" width="12.7" height="118.08" fill="#f2b397" stroke="#b9b0a8" stroke-width="0.6" />
<rect x="1513.8" y="837.52" width="12.7" height="96.68" fill="#e87a48" stroke="#2a2a2a" stroke-width="0.8" />
<rect x="1513.8" y="837.52" width="12.7" height="96.68" fill="url(#hk)" stroke="none" stroke-width="0" />
<path d="M1026.5 923.11V922.08M1023.2 923.11h6.6M1023.2 922.08h6.6" stroke="#000" stroke-width="1" fill="none"/>
<path d="M1131.5 921.57V919.5M1128.2 921.57h6.6M1128.2 919.5h6.6" stroke="#000" stroke-width="1" fill="none"/>
<path d="M1236.5 921.57V920.02M1233.2 921.57h6.6M1233.2 920.02h6.6" stroke="#000" stroke-width="1" fill="none"/>
<path d="M1341.5 856.08V851.44M1338.2 856.08h6.6M1338.2 851.44h6.6" stroke="#000" stroke-width="1" fill="none"/>
<path d="M1446.5 835.97V834.94M1443.2 835.97h6.6M1443.2 834.94h6.6" stroke="#000" stroke-width="1" fill="none"/>
<path d="M1020.1 922.6H1108.4" stroke="#444" stroke-width="1" stroke-dasharray="3.7 1.8" stroke-opacity="0.75"/>
<path d="M1125.1 920.54H1213.4" stroke="#444" stroke-width="1" stroke-dasharray="3.7 1.8" stroke-opacity="0.75"/>
<path d="M1230.1 920.79H1318.4" stroke="#444" stroke-width="1" stroke-dasharray="3.7 1.8" stroke-opacity="0.75"/>
<path d="M1335.1 853.76H1423.4" stroke="#444" stroke-width="1" stroke-dasharray="3.7 1.8" stroke-opacity="0.75"/>
<path d="M1440.1 835.45H1528.4" stroke="#444" stroke-width="1" stroke-dasharray="3.7 1.8" stroke-opacity="0.75"/>
<rect x="994.8" y="784.2" width="559.8" height="150" fill="none" stroke="#333" stroke-width="0.9"/>
<path d="M1063.4 934.2v3.3M1168.4 934.2v3.3M1273.4 934.2v3.3M1378.4 934.2v3.3M1483.4 934.2v3.3" stroke="#333" stroke-width="0.8"/>
<path d="M994.8 934.2h-3.2M994.8 908.42h-3.2M994.8 882.64h-3.2M994.8 856.85h-3.2M994.8 831.07h-3.2M994.8 805.29h-3.2" stroke="#333" stroke-width="0.8" fill="none"/>
<text x="989.8" y="937.42" text-anchor="end" style="font-family:'DejaVu Sans',sans-serif;font-size:8.95px" fill="#222" >0.0</text>
<text x="989.8" y="911.64" text-anchor="end" style="font-family:'DejaVu Sans',sans-serif;font-size:8.95px" fill="#222" >0.1</text>
<text x="989.8" y="885.86" text-anchor="end" style="font-family:'DejaVu Sans',sans-serif;font-size:8.95px" fill="#222" >0.2</text>
<text x="989.8" y="860.08" text-anchor="end" style="font-family:'DejaVu Sans',sans-serif;font-size:8.95px" fill="#222" >0.3</text>
<text x="989.8" y="834.29" text-anchor="end" style="font-family:'DejaVu Sans',sans-serif;font-size:8.95px" fill="#222" >0.4</text>
<text x="989.8" y="808.51" text-anchor="end" style="font-family:'DejaVu Sans',sans-serif;font-size:8.95px" fill="#222" >0.5</text>
<text x="1063.4" y="951.5" text-anchor="middle" style="font-family:'DejaVu Sans',sans-serif;font-size:13.8px" fill="#222" >cMNIST</text>
<text x="1168.4" y="951.5" text-anchor="middle" style="font-family:'DejaVu Sans',sans-serif;font-size:13.8px" fill="#222" >Waterbirds</text>
<text x="1273.4" y="951.5" text-anchor="middle" style="font-family:'DejaVu Sans',sans-serif;font-size:13.8px" fill="#222" >Urbancars-C</text>
<text x="1378.4" y="951.5" text-anchor="middle" style="font-family:'DejaVu Sans',sans-serif;font-size:13.8px" fill="#222" >Metashift</text>
<text x="1483.4" y="951.5" text-anchor="middle" style="font-family:'DejaVu Sans',sans-serif;font-size:13.8px" fill="#222" >Civilcomments</text>
<text x="964.6" y="859.2" text-anchor="middle" transform="rotate(-90 964.6 859.2)" style="font-family:'DejaVu Sans',sans-serif;font-size:14.9px" fill="#222" >Average Precision</text>
<rect x="1050.2" y="736.2" width="77.6" height="18" rx="2.5" fill="#fff" fill-opacity="0.85" stroke="#d0d0d0" stroke-width="1"/>
<rect x="1054" y="741.5" width="20.5" height="7" fill="#8e8e8e" stroke="#2a2a2a" stroke-width="0.8" />
<text x="1082.7" y="748.6" style="font-family:'DejaVu Sans',sans-serif;font-size:9.85px" fill="#222" >Random</text>
<rect x="1145.4" y="732.2" width="94.7" height="47.1" rx="2.5" fill="#fff" fill-opacity="0.85" stroke="#d0d0d0" stroke-width="1"/>
<rect x="1149.3" y="737" width="20.5" height="7" fill="#95cab6" stroke="#2a2a2a" stroke-width="0.8" />
<text x="1177.8" y="744.1" style="font-family:'DejaVu Sans',sans-serif;font-size:9.85px" fill="#222" >EL2N</text>
<rect x="1149.3" y="751.6" width="20.5" height="7" fill="#4f9fa8" stroke="#2a2a2a" stroke-width="0.8" />
<text x="1177.8" y="758.7" style="font-family:'DejaVu Sans',sans-serif;font-size:9.85px" fill="#222" >Uncertainty</text>
<rect x="1149.3" y="766.4" width="20.5" height="7" fill="#93c0e1" stroke="#2a2a2a" stroke-width="0.8" />
<text x="1177.8" y="773.5" style="font-family:'DejaVu Sans',sans-serif;font-size:9.85px" fill="#222" >Forgetting</text>
<rect x="1251.4" y="736.2" width="233.6" height="33" rx="2.5" fill="#fff" fill-opacity="0.85" stroke="#d0d0d0" stroke-width="1"/>
<rect x="1255.4" y="741.5" width="20.5" height="7" fill="#f0b54a" stroke="#2a2a2a" stroke-width="0.8" />
<rect x="1255.4" y="741.5" width="20.5" height="7" fill="url(#hk)" stroke="none" stroke-width="0" />
<text x="1283.8" y="748.6" style="font-family:'DejaVu Sans',sans-serif;font-size:9.85px" fill="#222" >SelfSup</text>
<rect x="1348.6" y="741.5" width="20.5" height="7" fill="#f8daa3" stroke="#b9b0a8" stroke-width="0.8" />
<text x="1377.2" y="748.6" style="font-family:'DejaVu Sans',sans-serif;font-size:9.85px" fill="#222" >SelfSup (finetuned)</text>
<rect x="1255.4" y="756.3" width="20.5" height="7" fill="#e8703a" stroke="#2a2a2a" stroke-width="0.8" />
<rect x="1255.4" y="756.3" width="20.5" height="7" fill="url(#hk)" stroke="none" stroke-width="0" />
<text x="1283.8" y="763.4" style="font-family:'DejaVu Sans',sans-serif;font-size:9.85px" fill="#222" >SupProto</text>
<rect x="1348.6" y="756.3" width="20.5" height="7" fill="#f2b397" stroke="#b9b0a8" stroke-width="0.8" />
<text x="1377.2" y="763.4" style="font-family:'DejaVu Sans',sans-serif;font-size:9.85px" fill="#222" >SupProto (finetuned)</text>
</svg>
<div class="t" style='left:903.33px;top:974.00px;font-size:21.0px;line-height:21.0px;'>•</div>
<div class="t" style='left:920.00px;top:973.00px;font-size:21.0px;line-height:23.6px;'>Learning-based  importance scores are strong predictors to distinguish<br>between bias-aligning and conflicting samples.</div>
<div class="t" style='left:903.33px;top:1026.00px;font-size:21.0px;line-height:21.0px;'>•</div>
<div class="t" style='left:920.00px;top:1024.00px;font-size:21.0px;line-height:23.6px;'>Embedding-based characterization scores run a lower risk of inadvertently<br>exacerbating bias compared to learning-based scores</div>
<div class="bx" style="left:858.6px;top:1100.7px;width:800.4px;height:107.9px;background:#b5cbe8;border-radius:15px;"></div>
<div class="t" style='left:1259.30px;top:1115.00px;font-size:34.0px;line-height:39.2px;transform:translateX(-50%);text-align:center;'>Coreset bias level is not a consistent indicator of<br>downstream group robustness</div>
<svg class="sv" style="left:0;top:0" width="2592" height="1728" viewBox="0 0 2592 1728" >
<clipPath id="c11"><rect x="930.1" y="1251.4" width="191.3" height="82.9"/></clipPath>
<path d="M930.1 1330.33H1121.4M930.1 1302.92H1121.4M930.1 1275.52H1121.4" stroke="#cccccc" stroke-width="1.1" fill="none"/>
<g clip-path="url(#c11)">
<polyline points="938.71,1330.33 963.58,1329.86 988.45,1320.46 1013.32,1311.75 1038.18,1306.98 1063.05,1297.77 1087.92,1277.11 1112.79,1259.35" fill="none" stroke="#7f7f7f" stroke-width="1.0" stroke-linejoin="round" stroke-dasharray="4 2.4" />
<circle cx="938.71" cy="1330.33" r="1.8" fill="#8a8a8a" stroke="#333" stroke-width="0.7"/><circle cx="963.58" cy="1329.86" r="1.8" fill="#8a8a8a" stroke="#333" stroke-width="0.7"/><circle cx="988.45" cy="1320.46" r="1.8" fill="#8a8a8a" stroke="#333" stroke-width="0.7"/><circle cx="1013.32" cy="1311.75" r="1.8" fill="#8a8a8a" stroke="#333" stroke-width="0.7"/><circle cx="1038.18" cy="1306.98" r="1.8" fill="#8a8a8a" stroke="#333" stroke-width="0.7"/><circle cx="1063.05" cy="1297.77" r="1.8" fill="#8a8a8a" stroke="#333" stroke-width="0.7"/><circle cx="1087.92" cy="1277.11" r="1.8" fill="#8a8a8a" stroke="#333" stroke-width="0.7"/><circle cx="1112.79" cy="1259.35" r="1.8" fill="#8a8a8a" stroke="#333" stroke-width="0.7"/><polyline points="938.71,1302.92 963.58,1304.84 988.45,1306.02 1013.32,1305.22 1038.18,1305.22 1063.05,1292.23 1087.92,1273.87 1112.79,1259.35" fill="none" stroke="#7f7f7f" stroke-width="1.0" stroke-linejoin="round" />
<circle cx="938.71" cy="1302.92" r="1.8" fill="#8a8a8a" stroke="#333" stroke-width="0.7"/><circle cx="963.58" cy="1304.84" r="1.8" fill="#8a8a8a" stroke="#333" stroke-width="0.7"/><circle cx="988.45" cy="1306.02" r="1.8" fill="#8a8a8a" stroke="#333" stroke-width="0.7"/><circle cx="1013.32" cy="1305.22" r="1.8" fill="#8a8a8a" stroke="#333" stroke-width="0.7"/><circle cx="1038.18" cy="1305.22" r="1.8" fill="#8a8a8a" stroke="#333" stroke-width="0.7"/><circle cx="1063.05" cy="1292.23" r="1.8" fill="#8a8a8a" stroke="#333" stroke-width="0.7"/><circle cx="1087.92" cy="1273.87" r="1.8" fill="#8a8a8a" stroke="#333" stroke-width="0.7"/><circle cx="1112.79" cy="1259.35" r="1.8" fill="#8a8a8a" stroke="#333" stroke-width="0.7"/></g>
<g clip-path="url(#c11)"><polyline points="938.71,1302.92 963.58,1303.61 988.45,1303.33 1013.32,1302.92 1038.18,1302.92 1063.05,1288.23 1087.92,1266.47 1112.79,1256.47" fill="none" stroke="#2f7d1f" stroke-width="1.15" stroke-linejoin="round" />
</g><g clip-path="url(#c11)"><path d="M938.71 1306.52L942.31 1299.32H935.11Z" fill="#2f7d1f" stroke="#222" stroke-width="0.7"/><path d="M963.58 1307.21L967.18 1300.01H959.98Z" fill="#2f7d1f" stroke="#222" stroke-width="0.7"/><path d="M988.45 1306.93L992.05 1299.73H984.85Z" fill="#2f7d1f" stroke="#222" stroke-width="0.7"/><path d="M1013.32 1306.52L1016.92 1299.32H1009.72Z" fill="#2f7d1f" stroke="#222" stroke-width="0.7"/><path d="M1038.18 1306.52L1041.78 1299.32H1034.58Z" fill="#2f7d1f" stroke="#222" stroke-width="0.7"/><path d="M1063.05 1291.83L1066.65 1284.63H1059.45Z" fill="#2f7d1f" stroke="#222" stroke-width="0.7"/><path d="M1087.92 1270.07L1091.52 1262.87H1084.32Z" fill="#2f7d1f" stroke="#222" stroke-width="0.7"/><path d="M1112.79 1260.07L1116.39 1252.87H1109.19Z" fill="#2f7d1f" stroke="#222" stroke-width="0.7"/></g>
<g clip-path="url(#c11)"><polyline points="938.71,1319.99 963.58,1314.92 988.45,1312.84 1013.32,1309.66 1038.18,1306.98 1063.05,1297.28 1087.92,1277.43 1112.79,1259.62" fill="none" stroke="#0000ff" stroke-width="1.15" stroke-linejoin="round" />
</g><g clip-path="url(#c11)"><path d="M938.71 1316.39L942.31 1323.59H935.11Z" fill="#0000ff" stroke="#222" stroke-width="0.7"/><path d="M963.58 1311.32L967.18 1318.52H959.98Z" fill="#0000ff" stroke="#222" stroke-width="0.7"/><path d="M988.45 1309.24L992.05 1316.44H984.85Z" fill="#0000ff" stroke="#222" stroke-width="0.7"/><path d="M1013.32 1306.06L1016.92 1313.26H1009.72Z" fill="#0000ff" stroke="#222" stroke-width="0.7"/><path d="M1038.18 1303.38L1041.78 1310.58H1034.58Z" fill="#0000ff" stroke="#222" stroke-width="0.7"/><path d="M1063.05 1293.68L1066.65 1300.88H1059.45Z" fill="#0000ff" stroke="#222" stroke-width="0.7"/><path d="M1087.92 1273.83L1091.52 1281.03H1084.32Z" fill="#0000ff" stroke="#222" stroke-width="0.7"/><path d="M1112.79 1256.02L1116.39 1263.22H1109.19Z" fill="#0000ff" stroke="#222" stroke-width="0.7"/></g>
<rect x="930.1" y="1251.4" width="191.3" height="82.9" fill="none" stroke="#555" stroke-width="1.0"/>
<path d="M938.71 1334.3v3M963.58 1334.3v3M988.45 1334.3v3M1013.32 1334.3v3M1038.18 1334.3v3M1063.05 1334.3v3M1087.92 1334.3v3M1112.79 1334.3v3" stroke="#333" stroke-width="0.8" fill="none"/>
<path d="M930.1 1330.33h-3M930.1 1302.92h-3M930.1 1275.52h-3" stroke="#333" stroke-width="0.8" fill="none"/>
<text x="925.1" y="1334.07" text-anchor="end" style="font-family:'DejaVu Sans',sans-serif;font-size:10.4px" fill="#222" >1</text>
<text x="925.1" y="1306.67" text-anchor="end" style="font-family:'DejaVu Sans',sans-serif;font-size:10.4px" fill="#222" >2</text>
<text x="925.1" y="1279.26" text-anchor="end" style="font-family:'DejaVu Sans',sans-serif;font-size:10.4px" fill="#222" >3</text>
<clipPath id="c12"><rect x="930.1" y="1348.4" width="191.3" height="81.9"/></clipPath>
<path d="M930.1 1426.94H1121.4M930.1 1389.65H1121.4M930.1 1352.35H1121.4" stroke="#cccccc" stroke-width="1.1" fill="none"/>
<g clip-path="url(#c12)">
<polyline points="938.71,1426.94 963.58,1426.94 988.45,1426.94 1013.32,1389.5 1038.18,1370.7 1063.05,1364.81 1087.92,1361.15 1112.79,1360.04" fill="none" stroke="#7f7f7f" stroke-width="1.0" stroke-linejoin="round" stroke-dasharray="4 2.4" />
<circle cx="938.71" cy="1426.94" r="1.8" fill="#8a8a8a" stroke="#333" stroke-width="0.7"/><circle cx="963.58" cy="1426.94" r="1.8" fill="#8a8a8a" stroke="#333" stroke-width="0.7"/><circle cx="988.45" cy="1426.94" r="1.8" fill="#8a8a8a" stroke="#333" stroke-width="0.7"/><circle cx="1013.32" cy="1389.5" r="1.8" fill="#8a8a8a" stroke="#333" stroke-width="0.7"/><circle cx="1038.18" cy="1370.7" r="1.8" fill="#8a8a8a" stroke="#333" stroke-width="0.7"/><circle cx="1063.05" cy="1364.81" r="1.8" fill="#8a8a8a" stroke="#333" stroke-width="0.7"/><circle cx="1087.92" cy="1361.15" r="1.8" fill="#8a8a8a" stroke="#333" stroke-width="0.7"/><circle cx="1112.79" cy="1360.04" r="1.8" fill="#8a8a8a" stroke="#333" stroke-width="0.7"/><polyline points="938.71,1358.1 963.58,1358.92 988.45,1359.81 1013.32,1359.81 1038.18,1358.54 1063.05,1360.04 1087.92,1359.51 1112.79,1359.51" fill="none" stroke="#7f7f7f" stroke-width="1.0" stroke-linejoin="round" />
<circle cx="938.71" cy="1358.1" r="1.8" fill="#8a8a8a" stroke="#333" stroke-width="0.7"/><circle cx="963.58" cy="1358.92" r="1.8" fill="#8a8a8a" stroke="#333" stroke-width="0.7"/><circle cx="988.45" cy="1359.81" r="1.8" fill="#8a8a8a" stroke="#333" stroke-width="0.7"/><circle cx="1013.32" cy="1359.81" r="1.8" fill="#8a8a8a" stroke="#333" stroke-width="0.7"/><circle cx="1038.18" cy="1358.54" r="1.8" fill="#8a8a8a" stroke="#333" stroke-width="0.7"/><circle cx="1063.05" cy="1360.04" r="1.8" fill="#8a8a8a" stroke="#333" stroke-width="0.7"/><circle cx="1087.92" cy="1359.51" r="1.8" fill="#8a8a8a" stroke="#333" stroke-width="0.7"/><circle cx="1112.79" cy="1359.51" r="1.8" fill="#8a8a8a" stroke="#333" stroke-width="0.7"/></g>
<g clip-path="url(#c12)"><polyline points="938.71,1352.35 963.58,1352.35 988.45,1352.35 1013.32,1352.35 1038.18,1352.5 1063.05,1353.1 1087.92,1354.44 1112.79,1358.1" fill="none" stroke="#2f7d1f" stroke-width="1.15" stroke-linejoin="round" />
</g><g clip-path="url(#c12)"><path d="M938.71 1355.95L942.31 1348.75H935.11Z" fill="#2f7d1f" stroke="#222" stroke-width="0.7"/><path d="M963.58 1355.95L967.18 1348.75H959.98Z" fill="#2f7d1f" stroke="#222" stroke-width="0.7"/><path d="M988.45 1355.95L992.05 1348.75H984.85Z" fill="#2f7d1f" stroke="#222" stroke-width="0.7"/><path d="M1013.32 1355.95L1016.92 1348.75H1009.72Z" fill="#2f7d1f" stroke="#222" stroke-width="0.7"/><path d="M1038.18 1356.1L1041.78 1348.9H1034.58Z" fill="#2f7d1f" stroke="#222" stroke-width="0.7"/><path d="M1063.05 1356.7L1066.65 1349.5H1059.45Z" fill="#2f7d1f" stroke="#222" stroke-width="0.7"/><path d="M1087.92 1358.04L1091.52 1350.84H1084.32Z" fill="#2f7d1f" stroke="#222" stroke-width="0.7"/><path d="M1112.79 1361.7L1116.39 1354.5H1109.19Z" fill="#2f7d1f" stroke="#222" stroke-width="0.7"/></g>
<g clip-path="url(#c12)"><polyline points="938.71,1400.61 963.58,1389.95 988.45,1386.29 1013.32,1379.13 1038.18,1368.76 1063.05,1364.81 1087.92,1361.6 1112.79,1360.04" fill="none" stroke="#0000ff" stroke-width="1.15" stroke-linejoin="round" />
</g><g clip-path="url(#c12)"><path d="M938.71 1397.01L942.31 1404.21H935.11Z" fill="#0000ff" stroke="#222" stroke-width="0.7"/><path d="M963.58 1386.35L967.18 1393.55H959.98Z" fill="#0000ff" stroke="#222" stroke-width="0.7"/><path d="M988.45 1382.69L992.05 1389.89H984.85Z" fill="#0000ff" stroke="#222" stroke-width="0.7"/><path d="M1013.32 1375.53L1016.92 1382.73H1009.72Z" fill="#0000ff" stroke="#222" stroke-width="0.7"/><path d="M1038.18 1365.16L1041.78 1372.36H1034.58Z" fill="#0000ff" stroke="#222" stroke-width="0.7"/><path d="M1063.05 1361.21L1066.65 1368.41H1059.45Z" fill="#0000ff" stroke="#222" stroke-width="0.7"/><path d="M1087.92 1358L1091.52 1365.2H1084.32Z" fill="#0000ff" stroke="#222" stroke-width="0.7"/><path d="M1112.79 1356.44L1116.39 1363.64H1109.19Z" fill="#0000ff" stroke="#222" stroke-width="0.7"/></g>
<rect x="930.1" y="1348.4" width="191.3" height="81.9" fill="none" stroke="#555" stroke-width="1.0"/>
<path d="M938.71 1430.3v3M963.58 1430.3v3M988.45 1430.3v3M1013.32 1430.3v3M1038.18 1430.3v3M1063.05 1430.3v3M1087.92 1430.3v3M1112.79 1430.3v3" stroke="#333" stroke-width="0.8" fill="none"/>
<path d="M930.1 1426.94h-3M930.1 1389.65h-3M930.1 1352.35h-3" stroke="#333" stroke-width="0.8" fill="none"/>
<text x="925.1" y="1430.69" text-anchor="end" style="font-family:'DejaVu Sans',sans-serif;font-size:10.4px" fill="#222" >1.0</text>
<text x="925.1" y="1393.39" text-anchor="end" style="font-family:'DejaVu Sans',sans-serif;font-size:10.4px" fill="#222" >1.5</text>
<text x="925.1" y="1356.1" text-anchor="end" style="font-family:'DejaVu Sans',sans-serif;font-size:10.4px" fill="#222" >2.0</text>
<text x="938.71" y="1449.1" text-anchor="middle" transform="rotate(-45 938.71 1445.35)" style="font-family:'DejaVu Sans',sans-serif;font-size:10.4px" fill="#222">2%</text>
<text x="963.58" y="1449.1" text-anchor="middle" transform="rotate(-45 963.58 1445.35)" style="font-family:'DejaVu Sans',sans-serif;font-size:10.4px" fill="#222">5%</text>
<text x="988.45" y="1451.44" text-anchor="middle" transform="rotate(-45 988.45 1447.69)" style="font-family:'DejaVu Sans',sans-serif;font-size:10.4px" fill="#222">10%</text>
<text x="1013.32" y="1451.44" text-anchor="middle" transform="rotate(-45 1013.32 1447.69)" style="font-family:'DejaVu Sans',sans-serif;font-size:10.4px" fill="#222">20%</text>
<text x="1038.18" y="1451.44" text-anchor="middle" transform="rotate(-45 1038.18 1447.69)" style="font-family:'DejaVu Sans',sans-serif;font-size:10.4px" fill="#222">40%</text>
<text x="1063.05" y="1451.44" text-anchor="middle" transform="rotate(-45 1063.05 1447.69)" style="font-family:'DejaVu Sans',sans-serif;font-size:10.4px" fill="#222">60%</text>
<text x="1087.92" y="1451.44" text-anchor="middle" transform="rotate(-45 1087.92 1447.69)" style="font-family:'DejaVu Sans',sans-serif;font-size:10.4px" fill="#222">80%</text>
<text x="1112.79" y="1451.44" text-anchor="middle" transform="rotate(-45 1112.79 1447.69)" style="font-family:'DejaVu Sans',sans-serif;font-size:10.4px" fill="#222">98%</text>
<clipPath id="c21"><rect x="1168.85" y="1251.4" width="191" height="82.9"/></clipPath>
<path d="M1168.85 1321.29H1359.85M1168.85 1295.48H1359.85M1168.85 1269.67H1359.85" stroke="#cccccc" stroke-width="1.1" fill="none"/>
<g clip-path="url(#c21)">
<polyline points="1177.44,1259.35 1202.27,1255.74 1227.1,1256.05 1251.93,1255.74 1276.77,1261.41 1301.6,1267.3 1326.43,1273.18 1351.26,1276.38" fill="none" stroke="#7f7f7f" stroke-width="1.0" stroke-linejoin="round" stroke-dasharray="4 2.4" />
<circle cx="1177.44" cy="1259.35" r="1.8" fill="#8a8a8a" stroke="#333" stroke-width="0.7"/><circle cx="1202.27" cy="1255.74" r="1.8" fill="#8a8a8a" stroke="#333" stroke-width="0.7"/><circle cx="1227.1" cy="1256.05" r="1.8" fill="#8a8a8a" stroke="#333" stroke-width="0.7"/><circle cx="1251.93" cy="1255.74" r="1.8" fill="#8a8a8a" stroke="#333" stroke-width="0.7"/><circle cx="1276.77" cy="1261.41" r="1.8" fill="#8a8a8a" stroke="#333" stroke-width="0.7"/><circle cx="1301.6" cy="1267.3" r="1.8" fill="#8a8a8a" stroke="#333" stroke-width="0.7"/><circle cx="1326.43" cy="1273.18" r="1.8" fill="#8a8a8a" stroke="#333" stroke-width="0.7"/><circle cx="1351.26" cy="1276.38" r="1.8" fill="#8a8a8a" stroke="#333" stroke-width="0.7"/><polyline points="1177.44,1314.17 1202.27,1300.85 1227.1,1305.08 1251.93,1297.03 1276.77,1287.12 1301.6,1277.93 1326.43,1273.18 1351.26,1277.11" fill="none" stroke="#7f7f7f" stroke-width="1.0" stroke-linejoin="round" />
<circle cx="1177.44" cy="1314.17" r="1.8" fill="#8a8a8a" stroke="#333" stroke-width="0.7"/><circle cx="1202.27" cy="1300.85" r="1.8" fill="#8a8a8a" stroke="#333" stroke-width="0.7"/><circle cx="1227.1" cy="1305.08" r="1.8" fill="#8a8a8a" stroke="#333" stroke-width="0.7"/><circle cx="1251.93" cy="1297.03" r="1.8" fill="#8a8a8a" stroke="#333" stroke-width="0.7"/><circle cx="1276.77" cy="1287.12" r="1.8" fill="#8a8a8a" stroke="#333" stroke-width="0.7"/><circle cx="1301.6" cy="1277.93" r="1.8" fill="#8a8a8a" stroke="#333" stroke-width="0.7"/><circle cx="1326.43" cy="1273.18" r="1.8" fill="#8a8a8a" stroke="#333" stroke-width="0.7"/><circle cx="1351.26" cy="1277.11" r="1.8" fill="#8a8a8a" stroke="#333" stroke-width="0.7"/></g>
<g clip-path="url(#c21)"><polyline points="1177.44,1325.63 1202.27,1320.78 1227.1,1316.03 1251.93,1303.02 1276.77,1315.3 1301.6,1319.23 1326.43,1300.64 1351.26,1275.56" fill="none" stroke="#2f7d1f" stroke-width="1.15" stroke-linejoin="round" />
</g><g clip-path="url(#c21)"><path d="M1177.44 1329.23L1181.04 1322.03H1173.84Z" fill="#2f7d1f" stroke="#222" stroke-width="0.7"/><path d="M1202.27 1324.38L1205.87 1317.18H1198.67Z" fill="#2f7d1f" stroke="#222" stroke-width="0.7"/><path d="M1227.1 1319.63L1230.7 1312.43H1223.5Z" fill="#2f7d1f" stroke="#222" stroke-width="0.7"/><path d="M1251.93 1306.62L1255.53 1299.42H1248.33Z" fill="#2f7d1f" stroke="#222" stroke-width="0.7"/><path d="M1276.77 1318.9L1280.37 1311.7H1273.17Z" fill="#2f7d1f" stroke="#222" stroke-width="0.7"/><path d="M1301.6 1322.83L1305.2 1315.63H1298Z" fill="#2f7d1f" stroke="#222" stroke-width="0.7"/><path d="M1326.43 1304.24L1330.03 1297.04H1322.83Z" fill="#2f7d1f" stroke="#222" stroke-width="0.7"/><path d="M1351.26 1279.16L1354.86 1271.96H1347.66Z" fill="#2f7d1f" stroke="#222" stroke-width="0.7"/></g>
<g clip-path="url(#c21)"><polyline points="1177.44,1331.62 1202.27,1313.96 1227.1,1276.8 1251.93,1270.29 1276.77,1270.29 1301.6,1271.94 1326.43,1275.25 1351.26,1278.76" fill="none" stroke="#0000ff" stroke-width="1.15" stroke-linejoin="round" />
</g><g clip-path="url(#c21)"><path d="M1177.44 1328.02L1181.04 1335.22H1173.84Z" fill="#0000ff" stroke="#222" stroke-width="0.7"/><path d="M1202.27 1310.36L1205.87 1317.56H1198.67Z" fill="#0000ff" stroke="#222" stroke-width="0.7"/><path d="M1227.1 1273.2L1230.7 1280.4H1223.5Z" fill="#0000ff" stroke="#222" stroke-width="0.7"/><path d="M1251.93 1266.69L1255.53 1273.89H1248.33Z" fill="#0000ff" stroke="#222" stroke-width="0.7"/><path d="M1276.77 1266.69L1280.37 1273.89H1273.17Z" fill="#0000ff" stroke="#222" stroke-width="0.7"/><path d="M1301.6 1268.34L1305.2 1275.54H1298Z" fill="#0000ff" stroke="#222" stroke-width="0.7"/><path d="M1326.43 1271.65L1330.03 1278.85H1322.83Z" fill="#0000ff" stroke="#222" stroke-width="0.7"/><path d="M1351.26 1275.16L1354.86 1282.36H1347.66Z" fill="#0000ff" stroke="#222" stroke-width="0.7"/></g>
<rect x="1168.85" y="1251.4" width="191" height="82.9" fill="none" stroke="#555" stroke-width="1.0"/>
<path d="M1177.44 1334.3v3M1202.27 1334.3v3M1227.1 1334.3v3M1251.93 1334.3v3M1276.77 1334.3v3M1301.6 1334.3v3M1326.43 1334.3v3M1351.26 1334.3v3" stroke="#333" stroke-width="0.8" fill="none"/>
<path d="M1168.85 1321.29h-3M1168.85 1295.48h-3M1168.85 1269.67h-3" stroke="#333" stroke-width="0.8" fill="none"/>
<text x="1163.85" y="1325.04" text-anchor="end" style="font-family:'DejaVu Sans',sans-serif;font-size:10.4px" fill="#222" >25%</text>
<text x="1163.85" y="1299.23" text-anchor="end" style="font-family:'DejaVu Sans',sans-serif;font-size:10.4px" fill="#222" >50%</text>
<text x="1163.85" y="1273.42" text-anchor="end" style="font-family:'DejaVu Sans',sans-serif;font-size:10.4px" fill="#222" >75%</text>
<clipPath id="c22"><rect x="1168.85" y="1348.4" width="191" height="81.9"/></clipPath>
<path d="M1168.85 1399.42H1359.85M1168.85 1355.63H1359.85" stroke="#cccccc" stroke-width="1.1" fill="none"/>
<g clip-path="url(#c22)">
<polyline points="1177.44,1373.15 1202.27,1371.17 1227.1,1355.85 1251.93,1355.85 1276.77,1352.34 1301.6,1363.29 1326.43,1365.26 1351.26,1374.9" fill="none" stroke="#7f7f7f" stroke-width="1.0" stroke-linejoin="round" stroke-dasharray="4 2.4" />
<circle cx="1177.44" cy="1373.15" r="1.8" fill="#8a8a8a" stroke="#333" stroke-width="0.7"/><circle cx="1202.27" cy="1371.17" r="1.8" fill="#8a8a8a" stroke="#333" stroke-width="0.7"/><circle cx="1227.1" cy="1355.85" r="1.8" fill="#8a8a8a" stroke="#333" stroke-width="0.7"/><circle cx="1251.93" cy="1355.85" r="1.8" fill="#8a8a8a" stroke="#333" stroke-width="0.7"/><circle cx="1276.77" cy="1352.34" r="1.8" fill="#8a8a8a" stroke="#333" stroke-width="0.7"/><circle cx="1301.6" cy="1363.29" r="1.8" fill="#8a8a8a" stroke="#333" stroke-width="0.7"/><circle cx="1326.43" cy="1365.26" r="1.8" fill="#8a8a8a" stroke="#333" stroke-width="0.7"/><circle cx="1351.26" cy="1374.9" r="1.8" fill="#8a8a8a" stroke="#333" stroke-width="0.7"/><polyline points="1177.44,1382.78 1202.27,1389.79 1227.1,1380.37 1251.93,1379.28 1276.77,1373.36 1301.6,1378.4 1326.43,1367.01 1351.26,1379.28" fill="none" stroke="#7f7f7f" stroke-width="1.0" stroke-linejoin="round" />
<circle cx="1177.44" cy="1382.78" r="1.8" fill="#8a8a8a" stroke="#333" stroke-width="0.7"/><circle cx="1202.27" cy="1389.79" r="1.8" fill="#8a8a8a" stroke="#333" stroke-width="0.7"/><circle cx="1227.1" cy="1380.37" r="1.8" fill="#8a8a8a" stroke="#333" stroke-width="0.7"/><circle cx="1251.93" cy="1379.28" r="1.8" fill="#8a8a8a" stroke="#333" stroke-width="0.7"/><circle cx="1276.77" cy="1373.36" r="1.8" fill="#8a8a8a" stroke="#333" stroke-width="0.7"/><circle cx="1301.6" cy="1378.4" r="1.8" fill="#8a8a8a" stroke="#333" stroke-width="0.7"/><circle cx="1326.43" cy="1367.01" r="1.8" fill="#8a8a8a" stroke="#333" stroke-width="0.7"/><circle cx="1351.26" cy="1379.28" r="1.8" fill="#8a8a8a" stroke="#333" stroke-width="0.7"/></g>
<g clip-path="url(#c22)"><polyline points="1177.44,1386.72 1202.27,1385.63 1227.1,1382.34 1251.93,1384.75 1276.77,1378.4 1301.6,1379.28 1326.43,1381.69 1351.26,1370.08" fill="none" stroke="#2f7d1f" stroke-width="1.15" stroke-linejoin="round" />
</g><g clip-path="url(#c22)"><path d="M1177.44 1390.32L1181.04 1383.12H1173.84Z" fill="#2f7d1f" stroke="#222" stroke-width="0.7"/><path d="M1202.27 1389.23L1205.87 1382.03H1198.67Z" fill="#2f7d1f" stroke="#222" stroke-width="0.7"/><path d="M1227.1 1385.94L1230.7 1378.74H1223.5Z" fill="#2f7d1f" stroke="#222" stroke-width="0.7"/><path d="M1251.93 1388.35L1255.53 1381.15H1248.33Z" fill="#2f7d1f" stroke="#222" stroke-width="0.7"/><path d="M1276.77 1382L1280.37 1374.8H1273.17Z" fill="#2f7d1f" stroke="#222" stroke-width="0.7"/><path d="M1301.6 1382.88L1305.2 1375.68H1298Z" fill="#2f7d1f" stroke="#222" stroke-width="0.7"/><path d="M1326.43 1385.29L1330.03 1378.09H1322.83Z" fill="#2f7d1f" stroke="#222" stroke-width="0.7"/><path d="M1351.26 1373.68L1354.86 1366.48H1347.66Z" fill="#2f7d1f" stroke="#222" stroke-width="0.7"/></g>
<g clip-path="url(#c22)"><polyline points="1177.44,1408.4 1202.27,1427.67 1227.1,1369.86 1251.93,1363.73 1276.77,1368.77 1301.6,1368.11 1326.43,1372.27 1351.26,1366.36" fill="none" stroke="#0000ff" stroke-width="1.15" stroke-linejoin="round" />
</g><g clip-path="url(#c22)"><path d="M1177.44 1404.8L1181.04 1412H1173.84Z" fill="#0000ff" stroke="#222" stroke-width="0.7"/><path d="M1202.27 1424.07L1205.87 1431.27H1198.67Z" fill="#0000ff" stroke="#222" stroke-width="0.7"/><path d="M1227.1 1366.26L1230.7 1373.46H1223.5Z" fill="#0000ff" stroke="#222" stroke-width="0.7"/><path d="M1251.93 1360.13L1255.53 1367.33H1248.33Z" fill="#0000ff" stroke="#222" stroke-width="0.7"/><path d="M1276.77 1365.17L1280.37 1372.37H1273.17Z" fill="#0000ff" stroke="#222" stroke-width="0.7"/><path d="M1301.6 1364.51L1305.2 1371.71H1298Z" fill="#0000ff" stroke="#222" stroke-width="0.7"/><path d="M1326.43 1368.67L1330.03 1375.87H1322.83Z" fill="#0000ff" stroke="#222" stroke-width="0.7"/><path d="M1351.26 1362.76L1354.86 1369.96H1347.66Z" fill="#0000ff" stroke="#222" stroke-width="0.7"/></g>
<rect x="1168.85" y="1348.4" width="191" height="81.9" fill="none" stroke="#555" stroke-width="1.0"/>
<path d="M1177.44 1430.3v3M1202.27 1430.3v3M1227.1 1430.3v3M1251.93 1430.3v3M1276.77 1430.3v3M1301.6 1430.3v3M1326.43 1430.3v3M1351.26 1430.3v3" stroke="#333" stroke-width="0.8" fill="none"/>
<path d="M1168.85 1399.42h-3M1168.85 1355.63h-3" stroke="#333" stroke-width="0.8" fill="none"/>
<text x="1163.85" y="1403.17" text-anchor="end" style="font-family:'DejaVu Sans',sans-serif;font-size:10.4px" fill="#222" >40%</text>
<text x="1163.85" y="1359.37" text-anchor="end" style="font-family:'DejaVu Sans',sans-serif;font-size:10.4px" fill="#222" >60%</text>
<text x="1177.44" y="1449.1" text-anchor="middle" transform="rotate(-45 1177.44 1445.35)" style="font-family:'DejaVu Sans',sans-serif;font-size:10.4px" fill="#222">2%</text>
<text x="1202.27" y="1449.1" text-anchor="middle" transform="rotate(-45 1202.27 1445.35)" style="font-family:'DejaVu Sans',sans-serif;font-size:10.4px" fill="#222">5%</text>
<text x="1227.1" y="1451.44" text-anchor="middle" transform="rotate(-45 1227.1 1447.69)" style="font-family:'DejaVu Sans',sans-serif;font-size:10.4px" fill="#222">10%</text>
<text x="1251.93" y="1451.44" text-anchor="middle" transform="rotate(-45 1251.93 1447.69)" style="font-family:'DejaVu Sans',sans-serif;font-size:10.4px" fill="#222">20%</text>
<text x="1276.77" y="1451.44" text-anchor="middle" transform="rotate(-45 1276.77 1447.69)" style="font-family:'DejaVu Sans',sans-serif;font-size:10.4px" fill="#222">40%</text>
<text x="1301.6" y="1451.44" text-anchor="middle" transform="rotate(-45 1301.6 1447.69)" style="font-family:'DejaVu Sans',sans-serif;font-size:10.4px" fill="#222">60%</text>
<text x="1326.43" y="1451.44" text-anchor="middle" transform="rotate(-45 1326.43 1447.69)" style="font-family:'DejaVu Sans',sans-serif;font-size:10.4px" fill="#222">80%</text>
<text x="1351.26" y="1451.44" text-anchor="middle" transform="rotate(-45 1351.26 1447.69)" style="font-family:'DejaVu Sans',sans-serif;font-size:10.4px" fill="#222">98%</text>
<clipPath id="c31"><rect x="1407.5" y="1251.4" width="191.1" height="82.9"/></clipPath>
<path d="M1407.5 1317.49H1598.6M1407.5 1284.85H1598.6M1407.5 1252.22H1598.6" stroke="#cccccc" stroke-width="1.1" fill="none"/>
<g clip-path="url(#c31)">
<polyline points="1416.1,1261.03 1440.94,1260.38 1465.78,1259.72 1490.63,1258.58 1515.47,1257.6 1540.32,1256.62 1565.16,1255.97 1590,1255.97" fill="none" stroke="#7f7f7f" stroke-width="1.0" stroke-linejoin="round" />
<circle cx="1416.1" cy="1261.03" r="1.8" fill="#8a8a8a" stroke="#333" stroke-width="0.7"/><circle cx="1440.94" cy="1260.38" r="1.8" fill="#8a8a8a" stroke="#333" stroke-width="0.7"/><circle cx="1465.78" cy="1259.72" r="1.8" fill="#8a8a8a" stroke="#333" stroke-width="0.7"/><circle cx="1490.63" cy="1258.58" r="1.8" fill="#8a8a8a" stroke="#333" stroke-width="0.7"/><circle cx="1515.47" cy="1257.6" r="1.8" fill="#8a8a8a" stroke="#333" stroke-width="0.7"/><circle cx="1540.32" cy="1256.62" r="1.8" fill="#8a8a8a" stroke="#333" stroke-width="0.7"/><circle cx="1565.16" cy="1255.97" r="1.8" fill="#8a8a8a" stroke="#333" stroke-width="0.7"/><circle cx="1590" cy="1255.97" r="1.8" fill="#8a8a8a" stroke="#333" stroke-width="0.7"/><polyline points="1416.1,1273.76 1440.94,1264.94 1465.78,1259.4 1490.63,1257.44 1515.47,1257.11 1540.32,1256.46 1565.16,1256.13 1590,1255.64" fill="none" stroke="#7f7f7f" stroke-width="1.0" stroke-linejoin="round" stroke-dasharray="4 2.4" />
<circle cx="1416.1" cy="1273.76" r="1.8" fill="#8a8a8a" stroke="#333" stroke-width="0.7"/><circle cx="1440.94" cy="1264.94" r="1.8" fill="#8a8a8a" stroke="#333" stroke-width="0.7"/><circle cx="1465.78" cy="1259.4" r="1.8" fill="#8a8a8a" stroke="#333" stroke-width="0.7"/><circle cx="1490.63" cy="1257.44" r="1.8" fill="#8a8a8a" stroke="#333" stroke-width="0.7"/><circle cx="1515.47" cy="1257.11" r="1.8" fill="#8a8a8a" stroke="#333" stroke-width="0.7"/><circle cx="1540.32" cy="1256.46" r="1.8" fill="#8a8a8a" stroke="#333" stroke-width="0.7"/><circle cx="1565.16" cy="1256.13" r="1.8" fill="#8a8a8a" stroke="#333" stroke-width="0.7"/><circle cx="1590" cy="1255.64" r="1.8" fill="#8a8a8a" stroke="#333" stroke-width="0.7"/></g>
<g clip-path="url(#c31)"><polyline points="1416.1,1261.35 1440.94,1260.54 1465.78,1260.54 1490.63,1258.74 1515.47,1259.4 1540.32,1260.05 1565.16,1257.44 1590,1255.64" fill="none" stroke="#2f7d1f" stroke-width="1.15" stroke-linejoin="round" />
</g><g clip-path="url(#c31)"><path d="M1416.1 1264.95L1419.7 1257.75H1412.5Z" fill="#2f7d1f" stroke="#222" stroke-width="0.7"/><path d="M1440.94 1264.14L1444.54 1256.94H1437.34Z" fill="#2f7d1f" stroke="#222" stroke-width="0.7"/><path d="M1465.78 1264.14L1469.38 1256.94H1462.18Z" fill="#2f7d1f" stroke="#222" stroke-width="0.7"/><path d="M1490.63 1262.34L1494.23 1255.14H1487.03Z" fill="#2f7d1f" stroke="#222" stroke-width="0.7"/><path d="M1515.47 1263L1519.07 1255.8H1511.87Z" fill="#2f7d1f" stroke="#222" stroke-width="0.7"/><path d="M1540.32 1263.65L1543.92 1256.45H1536.72Z" fill="#2f7d1f" stroke="#222" stroke-width="0.7"/><path d="M1565.16 1261.04L1568.76 1253.84H1561.56Z" fill="#2f7d1f" stroke="#222" stroke-width="0.7"/><path d="M1590 1259.24L1593.6 1252.04H1586.4Z" fill="#2f7d1f" stroke="#222" stroke-width="0.7"/></g>
<g clip-path="url(#c31)"><polyline points="1416.1,1331.36 1440.94,1276.69 1465.78,1257.44 1490.63,1256.13 1515.47,1255.32 1540.32,1255.32 1565.16,1255.64 1590,1255.97" fill="none" stroke="#0000ff" stroke-width="1.15" stroke-linejoin="round" />
</g><g clip-path="url(#c31)"><path d="M1416.1 1327.76L1419.7 1334.96H1412.5Z" fill="#0000ff" stroke="#222" stroke-width="0.7"/><path d="M1440.94 1273.09L1444.54 1280.29H1437.34Z" fill="#0000ff" stroke="#222" stroke-width="0.7"/><path d="M1465.78 1253.84L1469.38 1261.04H1462.18Z" fill="#0000ff" stroke="#222" stroke-width="0.7"/><path d="M1490.63 1252.53L1494.23 1259.73H1487.03Z" fill="#0000ff" stroke="#222" stroke-width="0.7"/><path d="M1515.47 1251.72L1519.07 1258.92H1511.87Z" fill="#0000ff" stroke="#222" stroke-width="0.7"/><path d="M1540.32 1251.72L1543.92 1258.92H1536.72Z" fill="#0000ff" stroke="#222" stroke-width="0.7"/><path d="M1565.16 1252.04L1568.76 1259.24H1561.56Z" fill="#0000ff" stroke="#222" stroke-width="0.7"/><path d="M1590 1252.37L1593.6 1259.57H1586.4Z" fill="#0000ff" stroke="#222" stroke-width="0.7"/></g>
<rect x="1407.5" y="1251.4" width="191.1" height="82.9" fill="none" stroke="#555" stroke-width="1.0"/>
<path d="M1416.1 1334.3v3M1440.94 1334.3v3M1465.78 1334.3v3M1490.63 1334.3v3M1515.47 1334.3v3M1540.32 1334.3v3M1565.16 1334.3v3M1590 1334.3v3" stroke="#333" stroke-width="0.8" fill="none"/>
<path d="M1407.5 1317.49h-3M1407.5 1284.85h-3M1407.5 1252.22h-3" stroke="#333" stroke-width="0.8" fill="none"/>
<text x="1402.5" y="1321.24" text-anchor="end" style="font-family:'DejaVu Sans',sans-serif;font-size:10.4px" fill="#222" >60%</text>
<text x="1402.5" y="1288.6" text-anchor="end" style="font-family:'DejaVu Sans',sans-serif;font-size:10.4px" fill="#222" >80%</text>
<text x="1402.5" y="1255.96" text-anchor="end" style="font-family:'DejaVu Sans',sans-serif;font-size:10.4px" fill="#222" >100%</text>
<clipPath id="c32"><rect x="1407.5" y="1348.4" width="191.1" height="81.9"/></clipPath>
<path d="M1407.5 1427.3H1598.6M1407.5 1397.3H1598.6M1407.5 1367.3H1598.6" stroke="#cccccc" stroke-width="1.1" fill="none"/>
<g clip-path="url(#c32)">
<polyline points="1416.1,1400.9 1440.94,1396.55 1465.78,1386.65 1490.63,1375.55 1515.47,1361.6 1540.32,1359.35 1565.16,1354.25 1590,1352.15" fill="none" stroke="#7f7f7f" stroke-width="1.0" stroke-linejoin="round" stroke-dasharray="4 2.4" />
<circle cx="1416.1" cy="1400.9" r="1.8" fill="#8a8a8a" stroke="#333" stroke-width="0.7"/><circle cx="1440.94" cy="1396.55" r="1.8" fill="#8a8a8a" stroke="#333" stroke-width="0.7"/><circle cx="1465.78" cy="1386.65" r="1.8" fill="#8a8a8a" stroke="#333" stroke-width="0.7"/><circle cx="1490.63" cy="1375.55" r="1.8" fill="#8a8a8a" stroke="#333" stroke-width="0.7"/><circle cx="1515.47" cy="1361.6" r="1.8" fill="#8a8a8a" stroke="#333" stroke-width="0.7"/><circle cx="1540.32" cy="1359.35" r="1.8" fill="#8a8a8a" stroke="#333" stroke-width="0.7"/><circle cx="1565.16" cy="1354.25" r="1.8" fill="#8a8a8a" stroke="#333" stroke-width="0.7"/><circle cx="1590" cy="1352.15" r="1.8" fill="#8a8a8a" stroke="#333" stroke-width="0.7"/><polyline points="1416.1,1397 1440.94,1373.75 1465.78,1374.05 1490.63,1367.75 1515.47,1356.95 1540.32,1356.5 1565.16,1353.5 1590,1352.15" fill="none" stroke="#7f7f7f" stroke-width="1.0" stroke-linejoin="round" />
<circle cx="1416.1" cy="1397" r="1.8" fill="#8a8a8a" stroke="#333" stroke-width="0.7"/><circle cx="1440.94" cy="1373.75" r="1.8" fill="#8a8a8a" stroke="#333" stroke-width="0.7"/><circle cx="1465.78" cy="1374.05" r="1.8" fill="#8a8a8a" stroke="#333" stroke-width="0.7"/><circle cx="1490.63" cy="1367.75" r="1.8" fill="#8a8a8a" stroke="#333" stroke-width="0.7"/><circle cx="1515.47" cy="1356.95" r="1.8" fill="#8a8a8a" stroke="#333" stroke-width="0.7"/><circle cx="1540.32" cy="1356.5" r="1.8" fill="#8a8a8a" stroke="#333" stroke-width="0.7"/><circle cx="1565.16" cy="1353.5" r="1.8" fill="#8a8a8a" stroke="#333" stroke-width="0.7"/><circle cx="1590" cy="1352.15" r="1.8" fill="#8a8a8a" stroke="#333" stroke-width="0.7"/></g>
<g clip-path="url(#c32)"><polyline points="1416.1,1403.9 1440.94,1398.95 1465.78,1400.9 1490.63,1399.25 1515.47,1391.45 1540.32,1376.3 1565.16,1365.05 1590,1351.85" fill="none" stroke="#2f7d1f" stroke-width="1.15" stroke-linejoin="round" />
</g><g clip-path="url(#c32)"><path d="M1416.1 1407.5L1419.7 1400.3H1412.5Z" fill="#2f7d1f" stroke="#222" stroke-width="0.7"/><path d="M1440.94 1402.55L1444.54 1395.35H1437.34Z" fill="#2f7d1f" stroke="#222" stroke-width="0.7"/><path d="M1465.78 1404.5L1469.38 1397.3H1462.18Z" fill="#2f7d1f" stroke="#222" stroke-width="0.7"/><path d="M1490.63 1402.85L1494.23 1395.65H1487.03Z" fill="#2f7d1f" stroke="#222" stroke-width="0.7"/><path d="M1515.47 1395.05L1519.07 1387.85H1511.87Z" fill="#2f7d1f" stroke="#222" stroke-width="0.7"/><path d="M1540.32 1379.9L1543.92 1372.7H1536.72Z" fill="#2f7d1f" stroke="#222" stroke-width="0.7"/><path d="M1565.16 1368.65L1568.76 1361.45H1561.56Z" fill="#2f7d1f" stroke="#222" stroke-width="0.7"/><path d="M1590 1355.45L1593.6 1348.25H1586.4Z" fill="#2f7d1f" stroke="#222" stroke-width="0.7"/></g>
<g clip-path="url(#c32)"><polyline points="1416.1,1427.3 1440.94,1397.75 1465.78,1362.5 1490.63,1353.8 1515.47,1352.6 1540.32,1352.6 1565.16,1352.45 1590,1352.15" fill="none" stroke="#0000ff" stroke-width="1.15" stroke-linejoin="round" />
</g><g clip-path="url(#c32)"><path d="M1416.1 1423.7L1419.7 1430.9H1412.5Z" fill="#0000ff" stroke="#222" stroke-width="0.7"/><path d="M1440.94 1394.15L1444.54 1401.35H1437.34Z" fill="#0000ff" stroke="#222" stroke-width="0.7"/><path d="M1465.78 1358.9L1469.38 1366.1H1462.18Z" fill="#0000ff" stroke="#222" stroke-width="0.7"/><path d="M1490.63 1350.2L1494.23 1357.4H1487.03Z" fill="#0000ff" stroke="#222" stroke-width="0.7"/><path d="M1515.47 1349L1519.07 1356.2H1511.87Z" fill="#0000ff" stroke="#222" stroke-width="0.7"/><path d="M1540.32 1349L1543.92 1356.2H1536.72Z" fill="#0000ff" stroke="#222" stroke-width="0.7"/><path d="M1565.16 1348.85L1568.76 1356.05H1561.56Z" fill="#0000ff" stroke="#222" stroke-width="0.7"/><path d="M1590 1348.55L1593.6 1355.75H1586.4Z" fill="#0000ff" stroke="#222" stroke-width="0.7"/></g>
<rect x="1407.5" y="1348.4" width="191.1" height="81.9" fill="none" stroke="#555" stroke-width="1.0"/>
<path d="M1416.1 1430.3v3M1440.94 1430.3v3M1465.78 1430.3v3M1490.63 1430.3v3M1515.47 1430.3v3M1540.32 1430.3v3M1565.16 1430.3v3M1590 1430.3v3" stroke="#333" stroke-width="0.8" fill="none"/>
<path d="M1407.5 1427.3h-3M1407.5 1397.3h-3M1407.5 1367.3h-3" stroke="#333" stroke-width="0.8" fill="none"/>
<text x="1402.5" y="1431.04" text-anchor="end" style="font-family:'DejaVu Sans',sans-serif;font-size:10.4px" fill="#222" >40%</text>
<text x="1402.5" y="1401.04" text-anchor="end" style="font-family:'DejaVu Sans',sans-serif;font-size:10.4px" fill="#222" >60%</text>
<text x="1402.5" y="1371.04" text-anchor="end" style="font-family:'DejaVu Sans',sans-serif;font-size:10.4px" fill="#222" >80%</text>
<text x="1416.1" y="1449.1" text-anchor="middle" transform="rotate(-45 1416.1 1445.35)" style="font-family:'DejaVu Sans',sans-serif;font-size:10.4px" fill="#222">2%</text>
<text x="1440.94" y="1449.1" text-anchor="middle" transform="rotate(-45 1440.94 1445.35)" style="font-family:'DejaVu Sans',sans-serif;font-size:10.4px" fill="#222">5%</text>
<text x="1465.78" y="1451.44" text-anchor="middle" transform="rotate(-45 1465.78 1447.69)" style="font-family:'DejaVu Sans',sans-serif;font-size:10.4px" fill="#222">10%</text>
<text x="1490.63" y="1451.44" text-anchor="middle" transform="rotate(-45 1490.63 1447.69)" style="font-family:'DejaVu Sans',sans-serif;font-size:10.4px" fill="#222">20%</text>
<text x="1515.47" y="1451.44" text-anchor="middle" transform="rotate(-45 1515.47 1447.69)" style="font-family:'DejaVu Sans',sans-serif;font-size:10.4px" fill="#222">40%</text>
<text x="1540.32" y="1451.44" text-anchor="middle" transform="rotate(-45 1540.32 1447.69)" style="font-family:'DejaVu Sans',sans-serif;font-size:10.4px" fill="#222">60%</text>
<text x="1565.16" y="1451.44" text-anchor="middle" transform="rotate(-45 1565.16 1447.69)" style="font-family:'DejaVu Sans',sans-serif;font-size:10.4px" fill="#222">80%</text>
<text x="1590" y="1451.44" text-anchor="middle" transform="rotate(-45 1590 1447.69)" style="font-family:'DejaVu Sans',sans-serif;font-size:10.4px" fill="#222">98%</text>
<text x="1025.75" y="1247.2" text-anchor="middle" style="font-family:'DejaVu Sans',sans-serif;font-size:12.0px;font-weight:bold" fill="#000" >Bias Level</text>
<text x="1264.35" y="1247.2" text-anchor="middle" style="font-family:'DejaVu Sans',sans-serif;font-size:12.0px;font-weight:bold" fill="#000" >Worst-group Accuracy</text>
<text x="1503.05" y="1247.2" text-anchor="middle" style="font-family:'DejaVu Sans',sans-serif;font-size:12.0px;font-weight:bold" fill="#000" >Average Accuracy</text>
<text x="902.2" y="1292.8" text-anchor="middle" transform="rotate(-90 902.2 1292.8)" style="font-family:'DejaVu Sans',sans-serif;font-size:12.0px;font-weight:bold" fill="#000" >Waterbirds</text>
<text x="902.2" y="1389.3" text-anchor="middle" transform="rotate(-90 902.2 1389.3)" style="font-family:'DejaVu Sans',sans-serif;font-size:12.0px;font-weight:bold" fill="#000" >Urbancars-C</text>
<text x="1255.4" y="1474.4" text-anchor="middle" style="font-family:'DejaVu Sans',sans-serif;font-size:13.45px;font-weight:bold" fill="#000" >Selection Rate</text>
<rect x="1326.8" y="1457.6" width="282.8" height="34.8" rx="2.5" fill="#fff" fill-opacity="0.85" stroke="#d0d0d0" stroke-width="1"/>
<path d="M1331.2 1465.9H1353" stroke="#0000ff" stroke-width="1.15"/><path d="M1342.1 1462.6L1345.4 1469.2H1338.8Z" fill="#0000ff" stroke="#222" stroke-width="0.7"/><text x="1362.1" y="1469.8" style="font-family:'DejaVu Sans',sans-serif;font-size:10.8px" fill="#222" >Difficult</text>
<path d="M1331.2 1482.2H1353" stroke="#2f7d1f" stroke-width="1.15"/><path d="M1342.1 1485.5L1345.4 1478.9H1338.8Z" fill="#2f7d1f" stroke="#222" stroke-width="0.7"/><text x="1362.1" y="1486.1" style="font-family:'DejaVu Sans',sans-serif;font-size:10.8px" fill="#222" >Easy</text>
<path d="M1442.5 1465.9H1464.5" stroke="#7f7f7f" stroke-width="1.0"/><circle cx="1453.4" cy="1465.9" r="1.8" fill="#8a8a8a" stroke="#333" stroke-width="0.7"/><text x="1473.5" y="1469.8" style="font-family:'DejaVu Sans',sans-serif;font-size:10.8px" fill="#222" >Random</text>
<path d="M1442.5 1482.2H1464.5" stroke="#7f7f7f" stroke-width="1.0" stroke-dasharray="4 2.4"/><circle cx="1453.4" cy="1482.2" r="1.8" fill="#8a8a8a" stroke="#333" stroke-width="0.7"/><text x="1473.5" y="1486.1" style="font-family:'DejaVu Sans',sans-serif;font-size:10.8px" fill="#222" >Random-Groupbalanced</text>
</svg>
<div class="t" style='left:877.62px;top:1507.00px;font-size:21.0px;line-height:21.0px;'>•</div>
<div class="t" style='left:894.30px;top:1506.00px;font-size:21.0px;line-height:24.2px;'>Difficult coresets lead to more robust classifiers (classifiers with higher worst-<br>group accuracy) but only when the coreset size is “sufficiently large.</div>
<div class="t" style='left:877.62px;top:1560.00px;font-size:21.0px;line-height:21.0px;'>•</div>
<div class="t" style='left:894.30px;top:1559.00px;font-size:21.0px;line-height:24.2px;'>Very small coresets of Easy samples may yield better average performance,<br>but exacerbate bias levels, and offer no robustness benefits</div>
<!-- sec_right -->
<div class="bx" style="left:1769.0px;top:343.0px;width:777.8px;height:107.5px;background:#b5cbe8;border-radius:15px;"></div>
<div class="t" style='left:2157.50px;top:356.00px;font-size:34.0px;line-height:38.9px;transform:translateX(-50%);text-align:center;color:#111;'>Group balancing alone doesn’t guarantee group-<br>robustness; difficulty of samples matter</div>
<svg class="sv" style="left:0;top:0" width="2592" height="1728" viewBox="0 0 2592 1728" >
<clipPath id="pp1"><rect x="1799.4" y="486.3" width="179.1" height="117.2"/></clipPath>
<path d="M1799.4 586.43H1978.5M1799.4 559.44H1978.5M1799.4 532.45H1978.5M1799.4 505.46H1978.5" stroke="#cccccc" stroke-width="1.1" fill="none"/>
<g clip-path="url(#pp1)"><polyline points="1807.71,498.45 1840.25,493.59 1872.79,494.26 1905.32,493.18 1937.86,501.14 1970.4,516.53" fill="none" stroke="#8c8c8c" stroke-width="1.2" stroke-linejoin="round" stroke-dasharray="4.2 2.2" />
<circle cx="1807.71" cy="498.45" r="2.4" fill="#8c8c8c" stroke="none" stroke-width="0.6"/><circle cx="1840.25" cy="493.59" r="2.4" fill="#8c8c8c" stroke="none" stroke-width="0.6"/><circle cx="1872.79" cy="494.26" r="2.4" fill="#8c8c8c" stroke="none" stroke-width="0.6"/><circle cx="1905.32" cy="493.18" r="2.4" fill="#8c8c8c" stroke="none" stroke-width="0.6"/><circle cx="1937.86" cy="501.14" r="2.4" fill="#8c8c8c" stroke="none" stroke-width="0.6"/><circle cx="1970.4" cy="516.53" r="2.4" fill="#8c8c8c" stroke="none" stroke-width="0.6"/><polyline points="1807.71,598.3 1840.25,523.01 1872.79,509.78 1905.32,509.24 1937.86,513.02 1970.4,520.04" fill="none" stroke="#0000ff" stroke-width="1.2" stroke-linejoin="round" stroke-dasharray="4.2 2.2" />
<path d="M1807.71 595.8L1810.21 600.8H1805.21Z" fill="#0000ff" stroke="none" stroke-width="0.6"/><path d="M1840.25 520.51L1842.75 525.51H1837.75Z" fill="#0000ff" stroke="none" stroke-width="0.6"/><path d="M1872.79 507.28L1875.29 512.28H1870.29Z" fill="#0000ff" stroke="none" stroke-width="0.6"/><path d="M1905.32 506.74L1907.82 511.74H1902.82Z" fill="#0000ff" stroke="none" stroke-width="0.6"/><path d="M1937.86 510.52L1940.36 515.52H1935.36Z" fill="#0000ff" stroke="none" stroke-width="0.6"/><path d="M1970.4 517.54L1972.9 522.54H1967.9Z" fill="#0000ff" stroke="none" stroke-width="0.6"/><polyline points="1807.71,496.69 1840.25,491.56 1872.79,493.18 1905.32,495.61 1937.86,492.1 1970.4,504.25" fill="none" stroke="#3a8b2a" stroke-width="1.2" stroke-linejoin="round" stroke-dasharray="4.2 2.2" />
<path d="M1807.71 499.19L1810.21 494.19H1805.21Z" fill="#3a8b2a" stroke="none" stroke-width="0.6"/><path d="M1840.25 494.06L1842.75 489.06H1837.75Z" fill="#3a8b2a" stroke="none" stroke-width="0.6"/><path d="M1872.79 495.68L1875.29 490.68H1870.29Z" fill="#3a8b2a" stroke="none" stroke-width="0.6"/><path d="M1905.32 498.11L1907.82 493.11H1902.82Z" fill="#3a8b2a" stroke="none" stroke-width="0.6"/><path d="M1937.86 494.6L1940.36 489.6H1935.36Z" fill="#3a8b2a" stroke="none" stroke-width="0.6"/><path d="M1970.4 506.75L1972.9 501.75H1967.9Z" fill="#3a8b2a" stroke="none" stroke-width="0.6"/></g>
<rect x="1799.4" y="486.3" width="179.1" height="117.2" fill="none" stroke="#555" stroke-width="1.0"/>
<path d="M1807.71 603.5v3M1840.25 603.5v3M1872.79 603.5v3M1905.32 603.5v3M1937.86 603.5v3M1970.4 603.5v3" stroke="#333" stroke-width="0.8" fill="none"/>
<path d="M1799.4 586.43h-3M1799.4 559.44h-3M1799.4 532.45h-3M1799.4 505.46h-3" stroke="#333" stroke-width="0.8" fill="none"/>
<text x="1794.4" y="590.32" text-anchor="end" style="font-family:'DejaVu Sans',sans-serif;font-size:10.8px" fill="#222" >20%</text>
<text x="1794.4" y="563.33" text-anchor="end" style="font-family:'DejaVu Sans',sans-serif;font-size:10.8px" fill="#222" >40%</text>
<text x="1794.4" y="536.34" text-anchor="end" style="font-family:'DejaVu Sans',sans-serif;font-size:10.8px" fill="#222" >60%</text>
<text x="1794.4" y="509.35" text-anchor="end" style="font-family:'DejaVu Sans',sans-serif;font-size:10.8px" fill="#222" >80%</text>
<text x="1807.71" y="622.77" text-anchor="middle" transform="rotate(-45 1807.71 618.88)" style="font-family:'DejaVu Sans',sans-serif;font-size:10.8px" fill="#222">2%</text>
<text x="1840.25" y="622.77" text-anchor="middle" transform="rotate(-45 1840.25 618.88)" style="font-family:'DejaVu Sans',sans-serif;font-size:10.8px" fill="#222">5%</text>
<text x="1872.79" y="625.2" text-anchor="middle" transform="rotate(-45 1872.79 621.31)" style="font-family:'DejaVu Sans',sans-serif;font-size:10.8px" fill="#222">10%</text>
<text x="1905.32" y="625.2" text-anchor="middle" transform="rotate(-45 1905.32 621.31)" style="font-family:'DejaVu Sans',sans-serif;font-size:10.8px" fill="#222">20%</text>
<text x="1937.86" y="625.2" text-anchor="middle" transform="rotate(-45 1937.86 621.31)" style="font-family:'DejaVu Sans',sans-serif;font-size:10.8px" fill="#222">40%</text>
<text x="1970.4" y="625.2" text-anchor="middle" transform="rotate(-45 1970.4 621.31)" style="font-family:'DejaVu Sans',sans-serif;font-size:10.8px" fill="#222">80%</text>
<clipPath id="pp2"><rect x="2014.2" y="486.3" width="179.55" height="117.2"/></clipPath>
<path d="M2014.2 589.58H2193.75M2014.2 558.66H2193.75M2014.2 527.74H2193.75M2014.2 496.81H2193.75" stroke="#cccccc" stroke-width="1.1" fill="none"/>
<g clip-path="url(#pp2)"><polyline points="2022.53,521.24 2055.15,518.77 2087.77,496.81 2120.39,496.81 2153.01,491.87 2185.63,510.42" fill="none" stroke="#8c8c8c" stroke-width="1.2" stroke-linejoin="round" stroke-dasharray="4.2 2.2" />
<circle cx="2022.53" cy="521.24" r="2.4" fill="#8c8c8c" stroke="none" stroke-width="0.6"/><circle cx="2055.15" cy="518.77" r="2.4" fill="#8c8c8c" stroke="none" stroke-width="0.6"/><circle cx="2087.77" cy="496.81" r="2.4" fill="#8c8c8c" stroke="none" stroke-width="0.6"/><circle cx="2120.39" cy="496.81" r="2.4" fill="#8c8c8c" stroke="none" stroke-width="0.6"/><circle cx="2153.01" cy="491.87" r="2.4" fill="#8c8c8c" stroke="none" stroke-width="0.6"/><circle cx="2185.63" cy="510.42" r="2.4" fill="#8c8c8c" stroke="none" stroke-width="0.6"/><polyline points="2022.53,598.24 2055.15,525.57 2087.77,498.98 2120.39,503 2153.01,515.68 2185.63,516.91" fill="none" stroke="#0000ff" stroke-width="1.2" stroke-linejoin="round" stroke-dasharray="4.2 2.2" />
<path d="M2022.53 595.74L2025.03 600.74H2020.03Z" fill="#0000ff" stroke="none" stroke-width="0.6"/><path d="M2055.15 523.07L2057.65 528.07H2052.65Z" fill="#0000ff" stroke="none" stroke-width="0.6"/><path d="M2087.77 496.48L2090.27 501.48H2085.27Z" fill="#0000ff" stroke="none" stroke-width="0.6"/><path d="M2120.39 500.5L2122.89 505.5H2117.89Z" fill="#0000ff" stroke="none" stroke-width="0.6"/><path d="M2153.01 513.18L2155.51 518.18H2150.51Z" fill="#0000ff" stroke="none" stroke-width="0.6"/><path d="M2185.63 514.41L2188.13 519.41H2183.13Z" fill="#0000ff" stroke="none" stroke-width="0.6"/><polyline points="2022.53,524.03 2055.15,520.32 2087.77,509.18 2120.39,505.16 2153.01,506.71 2185.63,498.98" fill="none" stroke="#3a8b2a" stroke-width="1.2" stroke-linejoin="round" stroke-dasharray="4.2 2.2" />
<path d="M2022.53 526.53L2025.03 521.53H2020.03Z" fill="#3a8b2a" stroke="none" stroke-width="0.6"/><path d="M2055.15 522.82L2057.65 517.82H2052.65Z" fill="#3a8b2a" stroke="none" stroke-width="0.6"/><path d="M2087.77 511.68L2090.27 506.68H2085.27Z" fill="#3a8b2a" stroke="none" stroke-width="0.6"/><path d="M2120.39 507.66L2122.89 502.66H2117.89Z" fill="#3a8b2a" stroke="none" stroke-width="0.6"/><path d="M2153.01 509.21L2155.51 504.21H2150.51Z" fill="#3a8b2a" stroke="none" stroke-width="0.6"/><path d="M2185.63 501.48L2188.13 496.48H2183.13Z" fill="#3a8b2a" stroke="none" stroke-width="0.6"/></g>
<rect x="2014.2" y="486.3" width="179.55" height="117.2" fill="none" stroke="#555" stroke-width="1.0"/>
<path d="M2022.53 603.5v3M2055.15 603.5v3M2087.77 603.5v3M2120.39 603.5v3M2153.01 603.5v3M2185.63 603.5v3" stroke="#333" stroke-width="0.8" fill="none"/>
<path d="M2014.2 589.58h-3M2014.2 558.66h-3M2014.2 527.74h-3M2014.2 496.81h-3" stroke="#333" stroke-width="0.8" fill="none"/>
<text x="2009.2" y="593.47" text-anchor="end" style="font-family:'DejaVu Sans',sans-serif;font-size:10.8px" fill="#222" >30%</text>
<text x="2009.2" y="562.55" text-anchor="end" style="font-family:'DejaVu Sans',sans-serif;font-size:10.8px" fill="#222" >40%</text>
<text x="2009.2" y="531.63" text-anchor="end" style="font-family:'DejaVu Sans',sans-serif;font-size:10.8px" fill="#222" >50%</text>
<text x="2009.2" y="500.7" text-anchor="end" style="font-family:'DejaVu Sans',sans-serif;font-size:10.8px" fill="#222" >60%</text>
<text x="2022.53" y="622.77" text-anchor="middle" transform="rotate(-45 2022.53 618.88)" style="font-family:'DejaVu Sans',sans-serif;font-size:10.8px" fill="#222">2%</text>
<text x="2055.15" y="622.77" text-anchor="middle" transform="rotate(-45 2055.15 618.88)" style="font-family:'DejaVu Sans',sans-serif;font-size:10.8px" fill="#222">5%</text>
<text x="2087.77" y="625.2" text-anchor="middle" transform="rotate(-45 2087.77 621.31)" style="font-family:'DejaVu Sans',sans-serif;font-size:10.8px" fill="#222">10%</text>
<text x="2120.39" y="625.2" text-anchor="middle" transform="rotate(-45 2120.39 621.31)" style="font-family:'DejaVu Sans',sans-serif;font-size:10.8px" fill="#222">20%</text>
<text x="2153.01" y="625.2" text-anchor="middle" transform="rotate(-45 2153.01 621.31)" style="font-family:'DejaVu Sans',sans-serif;font-size:10.8px" fill="#222">40%</text>
<text x="2185.63" y="625.2" text-anchor="middle" transform="rotate(-45 2185.63 621.31)" style="font-family:'DejaVu Sans',sans-serif;font-size:10.8px" fill="#222">80%</text>
<text x="1889" y="481.7" text-anchor="middle" style="font-family:'DejaVu Sans',sans-serif;font-size:12.6px" fill="#222" >Waterbirds</text>
<text x="2104" y="481.7" text-anchor="middle" style="font-family:'DejaVu Sans',sans-serif;font-size:12.6px" fill="#222" >Urbancars-c</text>
<text x="1742.4" y="545.2" text-anchor="middle" transform="rotate(-90 1742.4 545.2)" style="font-family:'DejaVu Sans',sans-serif;font-size:12.4px;font-weight:bold" fill="#000" >Worst-group</text>
<text x="1757" y="545.2" text-anchor="middle" transform="rotate(-90 1757 545.2)" style="font-family:'DejaVu Sans',sans-serif;font-size:12.4px;font-weight:bold" fill="#000" >Accuracy</text>
<text x="1995.2" y="646.9" text-anchor="middle" style="font-family:'DejaVu Sans',sans-serif;font-size:14.0px;font-weight:bold" fill="#000" >Selection Rate</text>
<rect x="1881.7" y="545.2" width="91.2" height="52.7" rx="2.5" fill="#fff" fill-opacity="0.85" stroke="#d0d0d0" stroke-width="1"/>
<path d="M1886.5 554.2H1908.3" stroke="#8c8c8c" stroke-width="1.2" stroke-dasharray="4.2 2.2"/><circle cx="1897.4" cy="554.2" r="2.4" fill="#8c8c8c" stroke="none" stroke-width="0.6"/><text x="1918.3" y="558.2" style="font-family:'DejaVu Sans',sans-serif;font-size:11.05px" fill="#222" >R-Gbal</text>
<path d="M1886.5 570.8H1908.3" stroke="#0000ff" stroke-width="1.2" stroke-dasharray="4.2 2.2"/><path d="M1897.4 568.4L1899.8 573.2H1895Z" fill="#0000ff" stroke="none" stroke-width="0.6"/><text x="1918.3" y="574.8" style="font-family:'DejaVu Sans',sans-serif;font-size:11.05px" fill="#222" >Diff-Gbal</text>
<path d="M1886.5 587.5H1908.3" stroke="#3a8b2a" stroke-width="1.2" stroke-dasharray="4.2 2.2"/><path d="M1897.4 589.9L1899.8 585.1H1895Z" fill="#3a8b2a" stroke="none" stroke-width="0.6"/><text x="1918.3" y="591.5" style="font-family:'DejaVu Sans',sans-serif;font-size:11.05px" fill="#222" >Eas-Gbal</text>
</svg>
<div class="t" style='left:2234.60px;top:474.00px;font-size:21.0px;line-height:24.1px;'>Although these coresets have<br>equal bias levels, prioritizing<br>samples of different difficulties<br>significantly change the<br>robustness outcomes</div>
<svg class="sv" style="left:0;top:0" width="2592" height="1728" viewBox="0 0 2592 1728" >
<defs><pattern id="hw" width="5.6" height="5.6" patternUnits="userSpaceOnUse" patternTransform="rotate(-45)"><path d="M0 2.8H5.6" stroke="#e6e6ff" stroke-width="0.9"/></pattern></defs>
<rect x="1821.43" y="727.37" width="9.75" height="56.13" fill="#3333f3" stroke="#6e6e7e" stroke-width="0.7" />
<rect x="1834.49" y="713.29" width="9.75" height="70.21" fill="#3333f3" stroke="#6e6e7e" stroke-width="0.7" />
<rect x="1834.49" y="713.29" width="9.75" height="70.21" fill="url(#hw)" stroke="none" stroke-width="0" />
<rect x="1844.18" y="716.35" width="9.75" height="67.15" fill="#b05d5d" stroke="#6e6e7e" stroke-width="0.7" />
<rect x="1853.86" y="704.11" width="9.75" height="79.39" fill="#c080dc" stroke="#6e6e7e" stroke-width="0.7" />
<rect x="1886.42" y="719.62" width="9.75" height="63.88" fill="#3333f3" stroke="#6e6e7e" stroke-width="0.7" />
<rect x="1899.49" y="716.15" width="9.75" height="67.35" fill="#3333f3" stroke="#6e6e7e" stroke-width="0.7" />
<rect x="1899.49" y="716.15" width="9.75" height="67.35" fill="url(#hw)" stroke="none" stroke-width="0" />
<rect x="1909.17" y="707.17" width="9.75" height="76.33" fill="#b05d5d" stroke="#6e6e7e" stroke-width="0.7" />
<rect x="1918.86" y="702.88" width="9.75" height="80.62" fill="#c080dc" stroke="#6e6e7e" stroke-width="0.7" />
<rect x="1951.42" y="717.17" width="9.75" height="66.33" fill="#3333f3" stroke="#6e6e7e" stroke-width="0.7" />
<rect x="1964.48" y="713.29" width="9.75" height="70.21" fill="#3333f3" stroke="#6e6e7e" stroke-width="0.7" />
<rect x="1964.48" y="713.29" width="9.75" height="70.21" fill="url(#hw)" stroke="none" stroke-width="0" />
<rect x="1974.17" y="708.6" width="9.75" height="74.9" fill="#b05d5d" stroke="#6e6e7e" stroke-width="0.7" />
<rect x="1983.85" y="703.49" width="9.75" height="80.01" fill="#c080dc" stroke="#6e6e7e" stroke-width="0.7" />
<rect x="1812.2" y="698.8" width="190.5" height="84.7" fill="none" stroke="#777" stroke-width="1.0"/>
<path d="M1842.42 783.5v3M1907.42 783.5v3M1972.41 783.5v3" stroke="#333" stroke-width="0.8" fill="none"/>
<path d="M1812.2 783.5h-3M1812.2 742.68h-3M1812.2 701.86h-3" stroke="#333" stroke-width="0.8" fill="none"/>
<text x="1807.2" y="787.21" text-anchor="end" style="font-family:'DejaVu Sans',sans-serif;font-size:10.3px" fill="#222" >0</text>
<text x="1807.2" y="746.39" text-anchor="end" style="font-family:'DejaVu Sans',sans-serif;font-size:10.3px" fill="#222" >1</text>
<text x="1807.2" y="705.57" text-anchor="end" style="font-family:'DejaVu Sans',sans-serif;font-size:10.3px" fill="#222" >2</text>
<rect x="1821.43" y="830.88" width="9.75" height="54.62" fill="#3333f3" stroke="#6e6e7e" stroke-width="0.7" />
<rect x="1834.49" y="823.29" width="9.75" height="62.21" fill="#3333f3" stroke="#6e6e7e" stroke-width="0.7" />
<rect x="1834.49" y="823.29" width="9.75" height="62.21" fill="url(#hw)" stroke="none" stroke-width="0" />
<rect x="1844.18" y="821.04" width="9.75" height="64.46" fill="#b05d5d" stroke="#6e6e7e" stroke-width="0.7" />
<rect x="1853.86" y="805.28" width="9.75" height="80.22" fill="#c080dc" stroke="#6e6e7e" stroke-width="0.7" />
<rect x="1886.42" y="825.12" width="9.75" height="60.38" fill="#3333f3" stroke="#6e6e7e" stroke-width="0.7" />
<rect x="1899.49" y="822.06" width="9.75" height="63.44" fill="#3333f3" stroke="#6e6e7e" stroke-width="0.7" />
<rect x="1899.49" y="822.06" width="9.75" height="63.44" fill="url(#hw)" stroke="none" stroke-width="0" />
<rect x="1909.17" y="814.1" width="9.75" height="71.4" fill="#b05d5d" stroke="#6e6e7e" stroke-width="0.7" />
<rect x="1918.86" y="804.87" width="9.75" height="80.63" fill="#c080dc" stroke="#6e6e7e" stroke-width="0.7" />
<rect x="1951.42" y="823.08" width="9.75" height="62.42" fill="#3333f3" stroke="#6e6e7e" stroke-width="0.7" />
<rect x="1964.48" y="819.82" width="9.75" height="65.68" fill="#3333f3" stroke="#6e6e7e" stroke-width="0.7" />
<rect x="1964.48" y="819.82" width="9.75" height="65.68" fill="url(#hw)" stroke="none" stroke-width="0" />
<rect x="1974.17" y="809.16" width="9.75" height="76.34" fill="#b05d5d" stroke="#6e6e7e" stroke-width="0.7" />
<rect x="1983.85" y="805.08" width="9.75" height="80.42" fill="#c080dc" stroke="#6e6e7e" stroke-width="0.7" />
<rect x="1812.2" y="801.2" width="190.5" height="84.3" fill="none" stroke="#777" stroke-width="1.0"/>
<path d="M1842.42 885.5v3M1907.42 885.5v3M1972.41 885.5v3" stroke="#333" stroke-width="0.8" fill="none"/>
<path d="M1812.2 885.5h-3M1812.2 844.68h-3M1812.2 803.85h-3" stroke="#333" stroke-width="0.8" fill="none"/>
<text x="1807.2" y="889.21" text-anchor="end" style="font-family:'DejaVu Sans',sans-serif;font-size:10.3px" fill="#222" >0</text>
<text x="1807.2" y="848.38" text-anchor="end" style="font-family:'DejaVu Sans',sans-serif;font-size:10.3px" fill="#222" >1</text>
<text x="1807.2" y="807.56" text-anchor="end" style="font-family:'DejaVu Sans',sans-serif;font-size:10.3px" fill="#222" >2</text>
<text x="1842.42" y="898.5" text-anchor="middle" style="font-family:'DejaVu Sans',sans-serif;font-size:10.3px" fill="#222" >2%</text>
<text x="1907.42" y="898.5" text-anchor="middle" style="font-family:'DejaVu Sans',sans-serif;font-size:10.3px" fill="#222" >5%</text>
<text x="1972.41" y="898.5" text-anchor="middle" style="font-family:'DejaVu Sans',sans-serif;font-size:10.3px" fill="#222" >10%</text>
<rect x="2057.81" y="765.33" width="9.73" height="18.17" fill="#3333f3" stroke="#6e6e7e" stroke-width="0.7" />
<rect x="2070.86" y="728.42" width="9.73" height="55.08" fill="#3333f3" stroke="#6e6e7e" stroke-width="0.7" />
<rect x="2070.86" y="728.42" width="9.73" height="55.08" fill="url(#hw)" stroke="none" stroke-width="0" />
<rect x="2080.53" y="736.29" width="9.73" height="47.21" fill="#b05d5d" stroke="#6e6e7e" stroke-width="0.7" />
<rect x="2090.2" y="747.4" width="9.73" height="36.1" fill="#c080dc" stroke="#6e6e7e" stroke-width="0.7" />
<rect x="2122.71" y="746.36" width="9.73" height="37.14" fill="#3333f3" stroke="#6e6e7e" stroke-width="0.7" />
<rect x="2135.75" y="717.31" width="9.73" height="66.19" fill="#3333f3" stroke="#6e6e7e" stroke-width="0.7" />
<rect x="2135.75" y="717.31" width="9.73" height="66.19" fill="url(#hw)" stroke="none" stroke-width="0" />
<rect x="2145.42" y="724.26" width="9.73" height="59.24" fill="#b05d5d" stroke="#6e6e7e" stroke-width="0.7" />
<rect x="2155.09" y="734.09" width="9.73" height="49.41" fill="#c080dc" stroke="#6e6e7e" stroke-width="0.7" />
<rect x="2187.6" y="704.12" width="9.73" height="79.38" fill="#3333f3" stroke="#6e6e7e" stroke-width="0.7" />
<rect x="2200.64" y="702.85" width="9.73" height="80.65" fill="#3333f3" stroke="#6e6e7e" stroke-width="0.7" />
<rect x="2200.64" y="702.85" width="9.73" height="80.65" fill="url(#hw)" stroke="none" stroke-width="0" />
<rect x="2210.31" y="705.28" width="9.73" height="78.22" fill="#b05d5d" stroke="#6e6e7e" stroke-width="0.7" />
<rect x="2219.98" y="728.54" width="9.73" height="54.96" fill="#c080dc" stroke="#6e6e7e" stroke-width="0.7" />
<rect x="2048.6" y="698.8" width="190.2" height="84.7" fill="none" stroke="#777" stroke-width="1.0"/>
<path d="M2078.78 783.5v3M2143.67 783.5v3M2208.56 783.5v3" stroke="#333" stroke-width="0.8" fill="none"/>
<path d="M2048.6 783.5h-3M2048.6 760.36h-3M2048.6 737.22h-3M2048.6 714.07h-3" stroke="#333" stroke-width="0.8" fill="none"/>
<text x="2043.6" y="787.21" text-anchor="end" style="font-family:'DejaVu Sans',sans-serif;font-size:10.3px" fill="#222" >0%</text>
<text x="2043.6" y="764.07" text-anchor="end" style="font-family:'DejaVu Sans',sans-serif;font-size:10.3px" fill="#222" >20%</text>
<text x="2043.6" y="740.92" text-anchor="end" style="font-family:'DejaVu Sans',sans-serif;font-size:10.3px" fill="#222" >40%</text>
<text x="2043.6" y="717.78" text-anchor="end" style="font-family:'DejaVu Sans',sans-serif;font-size:10.3px" fill="#222" >60%</text>
<rect x="2057.81" y="831.28" width="9.73" height="54.22" fill="#3333f3" stroke="#6e6e7e" stroke-width="0.7" />
<rect x="2070.86" y="825.19" width="9.73" height="60.31" fill="#3333f3" stroke="#6e6e7e" stroke-width="0.7" />
<rect x="2070.86" y="825.19" width="9.73" height="60.31" fill="url(#hw)" stroke="none" stroke-width="0" />
<rect x="2080.53" y="816.16" width="9.73" height="69.34" fill="#b05d5d" stroke="#6e6e7e" stroke-width="0.7" />
<rect x="2090.2" y="813.91" width="9.73" height="71.59" fill="#c080dc" stroke="#6e6e7e" stroke-width="0.7" />
<rect x="2122.71" y="844.44" width="9.73" height="41.06" fill="#3333f3" stroke="#6e6e7e" stroke-width="0.7" />
<rect x="2135.75" y="815.56" width="9.73" height="69.94" fill="#3333f3" stroke="#6e6e7e" stroke-width="0.7" />
<rect x="2135.75" y="815.56" width="9.73" height="69.94" fill="url(#hw)" stroke="none" stroke-width="0" />
<rect x="2145.42" y="818.12" width="9.73" height="67.38" fill="#b05d5d" stroke="#6e6e7e" stroke-width="0.7" />
<rect x="2155.09" y="813.91" width="9.73" height="71.59" fill="#c080dc" stroke="#6e6e7e" stroke-width="0.7" />
<rect x="2187.6" y="804.88" width="9.73" height="80.62" fill="#3333f3" stroke="#6e6e7e" stroke-width="0.7" />
<rect x="2200.64" y="813.91" width="9.73" height="71.59" fill="#3333f3" stroke="#6e6e7e" stroke-width="0.7" />
<rect x="2200.64" y="813.91" width="9.73" height="71.59" fill="url(#hw)" stroke="none" stroke-width="0" />
<rect x="2210.31" y="816.16" width="9.73" height="69.34" fill="#b05d5d" stroke="#6e6e7e" stroke-width="0.7" />
<rect x="2219.98" y="815.56" width="9.73" height="69.94" fill="#c080dc" stroke="#6e6e7e" stroke-width="0.7" />
<rect x="2048.6" y="801.2" width="190.2" height="84.3" fill="none" stroke="#777" stroke-width="1.0"/>
<path d="M2078.78 885.5v3M2143.67 885.5v3M2208.56 885.5v3" stroke="#333" stroke-width="0.8" fill="none"/>
<path d="M2048.6 885.5h-3M2048.6 855.42h-3M2048.6 825.34h-3" stroke="#333" stroke-width="0.8" fill="none"/>
<text x="2043.6" y="889.21" text-anchor="end" style="font-family:'DejaVu Sans',sans-serif;font-size:10.3px" fill="#222" >0%</text>
<text x="2043.6" y="859.13" text-anchor="end" style="font-family:'DejaVu Sans',sans-serif;font-size:10.3px" fill="#222" >20%</text>
<text x="2043.6" y="829.05" text-anchor="end" style="font-family:'DejaVu Sans',sans-serif;font-size:10.3px" fill="#222" >40%</text>
<text x="2078.78" y="898.5" text-anchor="middle" style="font-family:'DejaVu Sans',sans-serif;font-size:10.3px" fill="#222" >2%</text>
<text x="2143.67" y="898.5" text-anchor="middle" style="font-family:'DejaVu Sans',sans-serif;font-size:10.3px" fill="#222" >5%</text>
<text x="2208.56" y="898.5" text-anchor="middle" style="font-family:'DejaVu Sans',sans-serif;font-size:10.3px" fill="#222" >10%</text>
<rect x="2293.42" y="740.49" width="9.74" height="43.01" fill="#3333f3" stroke="#6e6e7e" stroke-width="0.7" />
<rect x="2306.48" y="710.21" width="9.74" height="73.29" fill="#3333f3" stroke="#6e6e7e" stroke-width="0.7" />
<rect x="2306.48" y="710.21" width="9.74" height="73.29" fill="url(#hw)" stroke="none" stroke-width="0" />
<rect x="2316.16" y="714.02" width="9.74" height="69.48" fill="#b05d5d" stroke="#6e6e7e" stroke-width="0.7" />
<rect x="2325.84" y="704.59" width="9.74" height="78.91" fill="#c080dc" stroke="#6e6e7e" stroke-width="0.7" />
<rect x="2358.39" y="712.7" width="9.74" height="70.8" fill="#3333f3" stroke="#6e6e7e" stroke-width="0.7" />
<rect x="2371.44" y="704.59" width="9.74" height="78.91" fill="#3333f3" stroke="#6e6e7e" stroke-width="0.7" />
<rect x="2371.44" y="704.59" width="9.74" height="78.91" fill="url(#hw)" stroke="none" stroke-width="0" />
<rect x="2381.12" y="704.42" width="9.74" height="79.08" fill="#b05d5d" stroke="#6e6e7e" stroke-width="0.7" />
<rect x="2390.8" y="704.59" width="9.74" height="78.91" fill="#c080dc" stroke="#6e6e7e" stroke-width="0.7" />
<rect x="2423.35" y="703.43" width="9.74" height="80.07" fill="#3333f3" stroke="#6e6e7e" stroke-width="0.7" />
<rect x="2436.4" y="703.1" width="9.74" height="80.4" fill="#3333f3" stroke="#6e6e7e" stroke-width="0.7" />
<rect x="2436.4" y="703.1" width="9.74" height="80.4" fill="url(#hw)" stroke="none" stroke-width="0" />
<rect x="2446.08" y="703.6" width="9.74" height="79.9" fill="#b05d5d" stroke="#6e6e7e" stroke-width="0.7" />
<rect x="2455.76" y="703.93" width="9.74" height="79.57" fill="#c080dc" stroke="#6e6e7e" stroke-width="0.7" />
<rect x="2284.2" y="698.8" width="190.4" height="84.7" fill="none" stroke="#777" stroke-width="1.0"/>
<path d="M2314.41 783.5v3M2379.37 783.5v3M2444.33 783.5v3" stroke="#333" stroke-width="0.8" fill="none"/>
<path d="M2284.2 783.5h-3M2284.2 742.14h-3M2284.2 700.79h-3" stroke="#333" stroke-width="0.8" fill="none"/>
<text x="2279.2" y="787.21" text-anchor="end" style="font-family:'DejaVu Sans',sans-serif;font-size:10.3px" fill="#222" >0%</text>
<text x="2279.2" y="745.85" text-anchor="end" style="font-family:'DejaVu Sans',sans-serif;font-size:10.3px" fill="#222" >50%</text>
<text x="2279.2" y="704.49" text-anchor="end" style="font-family:'DejaVu Sans',sans-serif;font-size:10.3px" fill="#222" >100%</text>
<rect x="2293.42" y="849.11" width="9.74" height="36.39" fill="#3333f3" stroke="#6e6e7e" stroke-width="0.7" />
<rect x="2306.48" y="831.28" width="9.74" height="54.22" fill="#3333f3" stroke="#6e6e7e" stroke-width="0.7" />
<rect x="2306.48" y="831.28" width="9.74" height="54.22" fill="url(#hw)" stroke="none" stroke-width="0" />
<rect x="2316.16" y="833.48" width="9.74" height="52.02" fill="#b05d5d" stroke="#6e6e7e" stroke-width="0.7" />
<rect x="2325.84" y="831.46" width="9.74" height="54.04" fill="#c080dc" stroke="#6e6e7e" stroke-width="0.7" />
<rect x="2358.39" y="831.1" width="9.74" height="54.4" fill="#3333f3" stroke="#6e6e7e" stroke-width="0.7" />
<rect x="2371.44" y="816.1" width="9.74" height="69.4" fill="#3333f3" stroke="#6e6e7e" stroke-width="0.7" />
<rect x="2371.44" y="816.1" width="9.74" height="69.4" fill="url(#hw)" stroke="none" stroke-width="0" />
<rect x="2381.12" y="816.1" width="9.74" height="69.4" fill="#b05d5d" stroke="#6e6e7e" stroke-width="0.7" />
<rect x="2390.8" y="824.52" width="9.74" height="60.98" fill="#c080dc" stroke="#6e6e7e" stroke-width="0.7" />
<rect x="2423.35" y="809.52" width="9.74" height="75.98" fill="#3333f3" stroke="#6e6e7e" stroke-width="0.7" />
<rect x="2436.4" y="805.31" width="9.74" height="80.19" fill="#3333f3" stroke="#6e6e7e" stroke-width="0.7" />
<rect x="2436.4" y="805.31" width="9.74" height="80.19" fill="url(#hw)" stroke="none" stroke-width="0" />
<rect x="2446.08" y="812.45" width="9.74" height="73.05" fill="#b05d5d" stroke="#6e6e7e" stroke-width="0.7" />
<rect x="2455.76" y="825.52" width="9.74" height="59.98" fill="#c080dc" stroke="#6e6e7e" stroke-width="0.7" />
<rect x="2284.2" y="801.2" width="190.4" height="84.3" fill="none" stroke="#777" stroke-width="1.0"/>
<path d="M2314.41 885.5v3M2379.37 885.5v3M2444.33 885.5v3" stroke="#333" stroke-width="0.8" fill="none"/>
<path d="M2284.2 885.5h-3M2284.2 862.64h-3M2284.2 839.78h-3M2284.2 816.93h-3" stroke="#333" stroke-width="0.8" fill="none"/>
<text x="2279.2" y="889.21" text-anchor="end" style="font-family:'DejaVu Sans',sans-serif;font-size:10.3px" fill="#222" >0%</text>
<text x="2279.2" y="866.35" text-anchor="end" style="font-family:'DejaVu Sans',sans-serif;font-size:10.3px" fill="#222" >25%</text>
<text x="2279.2" y="843.49" text-anchor="end" style="font-family:'DejaVu Sans',sans-serif;font-size:10.3px" fill="#222" >50%</text>
<text x="2279.2" y="820.63" text-anchor="end" style="font-family:'DejaVu Sans',sans-serif;font-size:10.3px" fill="#222" >75%</text>
<text x="2314.41" y="898.5" text-anchor="middle" style="font-family:'DejaVu Sans',sans-serif;font-size:10.3px" fill="#222" >2%</text>
<text x="2379.37" y="898.5" text-anchor="middle" style="font-family:'DejaVu Sans',sans-serif;font-size:10.3px" fill="#222" >5%</text>
<text x="2444.33" y="898.5" text-anchor="middle" style="font-family:'DejaVu Sans',sans-serif;font-size:10.3px" fill="#222" >10%</text>
<text x="1907.45" y="694.7" text-anchor="middle" style="font-family:'DejaVu Sans',sans-serif;font-size:11.8px;font-weight:bold" fill="#000" >Bias Level</text>
<text x="2143.7" y="694.7" text-anchor="middle" style="font-family:'DejaVu Sans',sans-serif;font-size:11.8px;font-weight:bold" fill="#000" >Worst-group Accuracy</text>
<text x="2379.4" y="694.7" text-anchor="middle" style="font-family:'DejaVu Sans',sans-serif;font-size:11.8px;font-weight:bold" fill="#000" >Average Accuracy</text>
<text x="1796" y="741.2" text-anchor="middle" transform="rotate(-90 1796 741.2)" style="font-family:'DejaVu Sans',sans-serif;font-size:11.8px;font-weight:bold" fill="#000" >Waterbirds</text>
<text x="1796" y="843.3" text-anchor="middle" transform="rotate(-90 1796 843.3)" style="font-family:'DejaVu Sans',sans-serif;font-size:11.8px;font-weight:bold" fill="#000" >Urbancars-C</text>
<text x="2137.3" y="914.7" text-anchor="middle" style="font-family:'DejaVu Sans',sans-serif;font-size:13.05px;font-weight:bold" fill="#000" >Selection Rate</text>
<rect x="2242.4" y="897.7" width="230.8" height="33.2" rx="2.5" fill="#fff" fill-opacity="0.85" stroke="#d0d0d0" stroke-width="1"/>
<rect x="2246.2" y="902.6" width="21.4" height="7.4" fill="#3333f3" stroke="#6e6e7e" stroke-width="0.7" />
<text x="2276.4" y="910.1" style="font-family:'DejaVu Sans',sans-serif;font-size:10.35px" fill="#222" >Difficult</text>
<rect x="2246.2" y="918.05" width="21.4" height="7.4" fill="#3333f3" stroke="#6e6e7e" stroke-width="0.7" />
<rect x="2246.2" y="918.05" width="21.4" height="7.4" fill="url(#hw)" stroke="none" stroke-width="0" />
<text x="2276.4" y="925.55" style="font-family:'DejaVu Sans',sans-serif;font-size:10.35px" fill="#222" >Difficult*</text>
<rect x="2390.8" y="902.6" width="21.4" height="7.4" fill="#b05d5d" stroke="#6e6e7e" stroke-width="0.7" />
<text x="2420.7" y="910.1" style="font-family:'DejaVu Sans',sans-serif;font-size:10.35px" fill="#222" >Stratified</text>
<rect x="2390.8" y="918.05" width="21.4" height="7.4" fill="#c080dc" stroke="#6e6e7e" stroke-width="0.7" />
<text x="2420.7" y="925.55" style="font-family:'DejaVu Sans',sans-serif;font-size:10.35px" fill="#222" >Median</text>
</svg>
<div class="t" style='left:1754.00px;top:953.00px;font-size:21.0px;line-height:23.8px;'>When coresets are very small, selecting a mix of easy and difficult samples can<br>improve performance and robustness <b>although it increase the bias level.</b></div>
<div class="bx" style="left:1766.0px;top:1029.6px;width:759.3px;height:96.4px;background:#f1b48b;border-radius:15px;"></div>
<div class="t" style='left:2145.60px;top:1037.00px;font-size:34.0px;line-height:39.7px;transform:translateX(-50%);text-align:center;'>How to select a coreset that ensures<br>group-robustness?</div>
<div class="t" style='left:1743.40px;top:1149.00px;font-size:21.0px;line-height:23.87px;'>When group labels are not available, prioritizing difficult samples ensure that<br>minority groups are represented.<br>However, the coreset size should be large enough so that the model can learn<br>from difficult samples.</div>
<div class="bx" style="left:1814.7px;top:1278.0px;width:618.1px;height:1.6px;background:#222"></div><div class="bx" style="left:1814.7px;top:1299.0px;width:618.1px;height:1.2px;background:#444"></div><div class="bx" style="left:1814.7px;top:1598.2px;width:618.1px;height:1.5px;background:#555"></div>
<div class="t" style='left:1814.70px;top:1279.00px;font-size:15.5px;line-height:17px;font-family:"Liberation Serif", serif;color:#111;word-spacing:0.055px;'><b>Algorithm 1</b> Coreset Selection ensuring Group-Robustness (Group information is unavailable)</div>
<div class="t" style='left:1814.70px;top:1300.00px;font-size:15.5px;line-height:17px;font-family:"Liberation Serif", serif;color:#111;word-spacing:-0.578px;'><b>Given:</b> A training + validation set with class labels but no spurious annotations, and a desired coreset</div>
<div class="t" style='left:1814.70px;top:1318.00px;font-size:15.5px;line-height:17px;font-family:"Liberation Serif", serif;color:#111;word-spacing:1.456px;'>size range [<i>N</i><sub>min</sub>, <i>N</i><sub>max</sub>] (dictated by application constraints).</div>
<div class="t" style='left:1814.70px;top:1334.00px;font-size:15.5px;line-height:17px;font-family:"Liberation Serif", serif;color:#111;word-spacing:-0.029px;'><b>Goal:</b> Find the smallest coreset likely to yield high accuracy and group robustness on a test set with</div>
<div class="t" style='left:1814.70px;top:1351.00px;font-size:15.5px;line-height:17px;font-family:"Liberation Serif", serif;color:#111;word-spacing:-0.003px;'>the same target classes and unknown group labels.</div>
<div class="t" style='left:1814.70px;top:1368.00px;font-size:15.5px;line-height:17px;font-family:"Liberation Serif", serif;color:#111;'><b>Method:</b></div>
<div class="t" style='left:1830.60px;top:1388.00px;font-size:15.5px;line-height:17px;font-family:"Liberation Serif", serif;color:#111;word-spacing:2.480px;'><b>Initialize:</b> Set coreset size <i>N</i> = <i>N</i><sub>min</sub>.</div>
<div class="t" style='left:1830.60px;top:1406.00px;font-size:15.5px;line-height:17px;font-family:"Liberation Serif", serif;color:#111;word-spacing:3.640px;'><b>while</b> <i>N</i> ≤ <i>N</i><sub>max</sub> <b>do</b></div>
<div class="t" style='left:1853.70px;top:1423.00px;font-size:15.5px;line-height:17px;font-family:"Liberation Serif", serif;color:#111;word-spacing:0.666px;'>Select two coresets: <i>S</i><sub><i>N</i>,difficult</sub> using the <b>difficult</b> policy, <i>S</i><sub><i>N</i>,random</sub> using the <b>random</b> policy</div>
<div class="t" style='left:1853.70px;top:1440.00px;font-size:15.5px;line-height:17px;font-family:"Liberation Serif", serif;color:#111;word-spacing:2.413px;'>Train models: <i>M</i><sub><i>N</i>,difficult</sub> on <i>S</i><sub><i>N</i>,difficult</sub>, <i>M</i><sub><i>N</i>,random</sub> on <i>S</i><sub><i>N</i>,random</sub></div>
<div class="t" style='left:1853.70px;top:1457.00px;font-size:15.5px;line-height:17px;font-family:"Liberation Serif", serif;color:#111;word-spacing:2.675px;'><b>if</b> avg accuracy(<i>M</i><sub><i>N</i>,difficult</sub>) ≈ avg accuracy(<i>M</i><sub><i>N</i>,random</sub>) <b>then</b></div>
<div class="t" style='left:1877.40px;top:1474.00px;font-size:15.5px;line-height:17px;font-family:"Liberation Serif", serif;color:#111;word-spacing:0.180px;'><b>return</b> <i>S</i><sub><i>N</i>,difficult</sub> <span style="font-size:78%">▷</span> <i>N</i> is “sufficiently large,” difficult coreset likely yeilds high robustness.</div>
<div class="t" style='left:1853.70px;top:1490.00px;font-size:15.5px;line-height:17px;font-family:"Liberation Serif", serif;color:#111;'><b>else</b></div>
<div class="t" style='left:1877.40px;top:1508.00px;font-size:15.5px;line-height:17px;font-family:"Liberation Serif", serif;color:#111;'>Increase <i>N</i></div>
<div class="t" style='left:1853.70px;top:1524.00px;font-size:15.5px;line-height:17px;font-family:"Liberation Serif", serif;color:#111;'><b>end if</b></div>
<div class="t" style='left:1830.60px;top:1542.00px;font-size:15.5px;line-height:17px;font-family:"Liberation Serif", serif;color:#111;'><b>end while</b></div>
<div class="t" style='left:1830.60px;top:1558.00px;font-size:15.5px;line-height:17px;font-family:"Liberation Serif", serif;color:#111;word-spacing:0.693px;'><b>Fallback:</b> If <i>N</i><sub>max</sub> is reached, use Stratified or Median policies.</div>
<div class="t" style='left:1830.60px;top:1575.00px;font-size:15.5px;line-height:17px;font-family:"Liberation Serif", serif;color:#111;word-spacing:-0.024px;'>one-size-fits-all, are more reliable in the small-data regime.</div>
<div class="t" style='left:2434.90px;top:1508.00px;font-size:15.5px;line-height:17px;font-family:"Liberation Serif", serif;transform:translateX(-100%);text-align:right;color:#111;word-spacing:0.553px;'><span style="font-size:78%">▷</span> <i>N</i> is in the “small-data regime.” <i>S</i><sub><i>N</i>,difficult</sub> may not ensure robustness.</div>
<div class="t" style='left:2432.80px;top:1558.00px;font-size:15.5px;line-height:17px;font-family:"Liberation Serif", serif;transform:translateX(-100%);text-align:right;color:#111;word-spacing:-0.173px;'><span style="font-size:78%">▷</span> These strategies, while not</div>
<!-- sec_refs -->
<div class="bx" style="left:0;top:1622.4px;width:2592px;height:2px;background:#7a7a7a"></div>
<div class="t" style='left:21.00px;top:1632.00px;font-size:14.0px;line-height:15.95px;'>[1] Arjovsky et al. *Invariant risk minimization*, Arxiv 2020.<br>[2] Sagawa et al. *Distributionally robust neural networks*, ICLR 2019.<br>[3] Li et al. *A whac-a-mole dilemma: Shortcuts come in multiples where mitigating one amplifies others*, CVPR 2023.<br>[4] Liang et al. *Metashift: A dataset of datasets for evaluating contextual distribution shifts and training conflicts*, ICML 2022.<br>[5] Borkan et al. *Nuanced metrics for measuring unintended bias with real data for text classification*, WWW 2019.</div>
<div class="t" style='left:846.00px;top:1644.00px;font-size:14.0px;line-height:15.95px;'>[6] Zhang et al. *NICO++: Towards better benchmarking for domain generalization*, CVPR 2023.<br>[7] Williams et al. *A broad-coverage challenge corpus for sentence understanding through inference*, NAACL 2018.<br>[8] Liu et al. *Deep learning face attributes in the wild*, ICCV 2015.<br>[9] Paul et al. *Deep learning on a data diet: Finding important examples early in training*, NeurIPS 2021.</div>
<div class="t" style='left:1778.00px;top:1635.00px;font-size:14.0px;line-height:15.95px;'>[10] Toneva et al. *An empirical study of example forgetting during deep neural network learning*, ICLR 2019.<br>[11] Coleman et al. *Selection via proxy: Efficient data selection for deep learning*, CoRR 2019.<br>[12] Sorscher et al. *Beyond neural scaling laws: beating power law scaling via data pruning*, NeurIPS 2022.<br>[13] Xia et al. *Moderate coreset: A universal method of data selection for real-world data-efficient deep learning*, ICLR 2023.<br>[14] Zheng et al. *Coverage-centric coreset selection for high pruning rates*, ICLR 2023.</div>
</body></html>
